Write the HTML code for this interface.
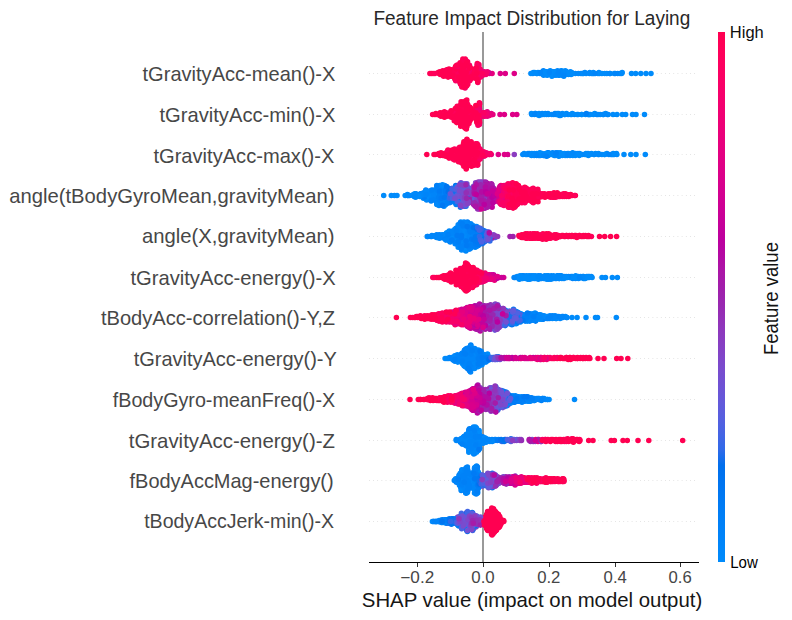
<!DOCTYPE html>
<html><head><meta charset="utf-8"><style>html,body{margin:0;padding:0;background:#fff;width:792px;height:620px;overflow:hidden}svg{display:block}text{font-family:"Liberation Sans",sans-serif}</style></head>
<body><svg width="792" height="620" viewBox="0 0 792 620">
<line x1="369.0" y1="73.50" x2="698.0" y2="73.50" stroke="#cccccc" stroke-width="0.7" stroke-dasharray="0.7 3.47"/>
<line x1="369.0" y1="114.50" x2="698.0" y2="114.50" stroke="#cccccc" stroke-width="0.7" stroke-dasharray="0.7 3.47"/>
<line x1="369.0" y1="154.50" x2="698.0" y2="154.50" stroke="#cccccc" stroke-width="0.7" stroke-dasharray="0.7 3.47"/>
<line x1="369.0" y1="195.50" x2="698.0" y2="195.50" stroke="#cccccc" stroke-width="0.7" stroke-dasharray="0.7 3.47"/>
<line x1="369.0" y1="236.50" x2="698.0" y2="236.50" stroke="#cccccc" stroke-width="0.7" stroke-dasharray="0.7 3.47"/>
<line x1="369.0" y1="277.50" x2="698.0" y2="277.50" stroke="#cccccc" stroke-width="0.7" stroke-dasharray="0.7 3.47"/>
<line x1="369.0" y1="317.50" x2="698.0" y2="317.50" stroke="#cccccc" stroke-width="0.7" stroke-dasharray="0.7 3.47"/>
<line x1="369.0" y1="358.50" x2="698.0" y2="358.50" stroke="#cccccc" stroke-width="0.7" stroke-dasharray="0.7 3.47"/>
<line x1="369.0" y1="399.50" x2="698.0" y2="399.50" stroke="#cccccc" stroke-width="0.7" stroke-dasharray="0.7 3.47"/>
<line x1="369.0" y1="440.50" x2="698.0" y2="440.50" stroke="#cccccc" stroke-width="0.7" stroke-dasharray="0.7 3.47"/>
<line x1="369.0" y1="480.50" x2="698.0" y2="480.50" stroke="#cccccc" stroke-width="0.7" stroke-dasharray="0.7 3.47"/>
<line x1="369.0" y1="521.50" x2="698.0" y2="521.50" stroke="#cccccc" stroke-width="0.7" stroke-dasharray="0.7 3.47"/>
<rect x="482" y="32.0" width="2" height="530.0" fill="#999999"/>
<g stroke-width="5.556" stroke-linecap="round" fill="none"><path d="M540.0 73.5h0M582.5 73.5h0M599.6 73.5h0M568.0 72.6h0M549.4 71.7h0M560.9 74.4h0M536.6 73.5h0M606.8 73.5h0M646.0 73.5h0M565.3 70.8h0M631.5 73.5h0M571.1 74.4h0M563.8 76.2h0M593.3 72.6h0M571.7 72.6h0M589.7 72.6h0M557.5 70.8h0M622.2 72.6h0M549.4 73.5h0M544.4 72.6h0M614.2 73.5h0M617.7 73.5h0M610.1 73.5h0M562.4 113.6h0M594.7 113.6h0M558.8 114.5h0M617.0 114.5h0M558.7 113.6h0M570.6 114.5h0M566.5 113.6h0M568.1 114.5h0M632.5 114.5h0M538.9 114.5h0M531.8 114.5h0M585.6 114.5h0M551.8 114.5h0M600.2 114.5h0M613.0 114.5h0M605.6 113.6h0M644.5 114.5h0M604.9 154.5h0M588.0 153.6h0M547.2 154.5h0M578.1 154.5h0M579.3 155.4h0M531.9 153.6h0M536.7 153.6h0M616.9 154.5h0M534.3 153.6h0M564.4 154.5h0M553.1 153.6h0M612.1 154.5h0M616.5 153.6h0M561.0 154.5h0M630.8 154.5h0M554.2 155.4h0M613.2 153.6h0M645.3 154.5h0M598.5 153.6h0M552.1 153.6h0M614.2 154.5h0M598.1 154.5h0M567.2 155.4h0M527.1 154.5h0M568.5 154.5h0M591.5 153.6h0M534.2 155.4h0M572.7 153.6h0M525.8 154.5h0M529.6 153.6h0M445.3 186.5h0M439.2 192.8h0M413.2 195.5h0M442.2 203.6h0M444.7 198.2h0M405.2 195.5h0M394.5 195.5h0M449.5 193.7h0M435.4 194.6h0M408.0 195.5h0M432.3 192.8h0M426.8 199.1h0M438.3 197.3h0M439.6 185.6h0M445.0 191.0h0M447.8 192.8h0M457.9 198.2h0M409.7 195.5h0M426.9 196.4h0M407.4 194.6h0M437.6 202.7h0M441.4 193.7h0M438.3 191.9h0M438.6 198.2h0M440.8 202.7h0M434.5 196.4h0M439.7 194.6h0M383.7 195.5h0M414.8 193.7h0M422.6 196.4h0M440.1 202.7h0M454.1 190.1h0M437.8 200.9h0M434.6 192.8h0M432.7 199.1h0M444.6 199.1h0M466.2 224.8h0M450.1 233.8h0M468.1 230.2h0M448.8 234.7h0M468.7 237.4h0M460.4 244.6h0M458.2 247.3h0M460.5 242.8h0M477.5 234.7h0M438.0 237.4h0M475.7 235.6h0M476.6 226.6h0M463.5 235.6h0M474.0 241.9h0M464.3 249.1h0M482.9 242.8h0M470.8 223.9h0M464.3 230.2h0M452.0 239.2h0M456.0 228.4h0M466.5 235.6h0M445.3 235.6h0M442.2 235.6h0M461.9 224.8h0M467.7 241.9h0M465.5 238.3h0M471.1 241.0h0M471.4 225.7h0M450.3 237.4h0M465.0 235.6h0M478.4 238.3h0M454.9 229.3h0M443.7 235.6h0M443.0 237.4h0M471.4 235.6h0M464.0 241.0h0M465.3 223.9h0M461.3 245.5h0M436.6 237.4h0M465.0 243.7h0M457.1 238.3h0M443.6 236.5h0M478.5 243.7h0M475.1 234.7h0M478.1 241.0h0M456.1 231.1h0M464.2 242.8h0M471.9 241.0h0M455.1 235.6h0M556.9 276.6h0M534.2 278.4h0M583.5 276.6h0M535.9 276.6h0M559.3 276.6h0M587.9 277.5h0M561.1 275.7h0M551.8 277.5h0M612.3 277.5h0M522.0 275.7h0M551.4 275.7h0M546.7 276.6h0M580.7 277.5h0M529.8 279.3h0M545.0 277.5h0M548.0 278.4h0M530.0 277.5h0M566.2 276.6h0M571.1 276.6h0M557.5 276.6h0M546.9 279.3h0M533.2 275.7h0M561.9 278.4h0M523.7 276.6h0M553.5 275.7h0M547.0 275.7h0M531.2 276.6h0M519.8 276.6h0M528.0 277.5h0M559.2 278.4h0M548.7 278.4h0M552.4 318.4h0M511.7 316.6h0M517.0 320.2h0M522.1 318.4h0M563.1 316.6h0M537.2 315.7h0M555.8 318.4h0M549.0 317.5h0M572.0 317.5h0M540.6 314.8h0M523.0 319.3h0M473.7 357.6h0M482.8 356.7h0M477.9 351.3h0M462.4 354.9h0M471.2 361.2h0M460.9 360.3h0M457.3 354.9h0M473.3 355.8h0M470.0 363.0h0M448.4 358.5h0M464.2 354.9h0M471.6 363.9h0M485.9 362.1h0M481.2 351.3h0M465.2 355.8h0M479.0 362.1h0M467.4 349.5h0M487.2 358.5h0M482.6 360.3h0M477.1 352.2h0M476.4 364.8h0M479.1 359.4h0M481.4 352.2h0M460.0 358.5h0M469.8 360.3h0M474.5 363.9h0M467.5 354.9h0M547.4 399.5h0M530.3 400.4h0M523.7 401.3h0M525.2 397.7h0M513.0 401.3h0M522.4 401.3h0M532.2 400.4h0M506.4 402.2h0M544.1 398.6h0M514.8 401.3h0M476.3 438.7h0M471.1 450.4h0M476.0 447.7h0M469.1 444.1h0M483.2 442.3h0M481.1 443.2h0M470.7 447.7h0M464.1 442.3h0M462.2 439.6h0M458.6 440.5h0M477.0 450.4h0M473.5 453.1h0M472.5 440.5h0M476.0 451.3h0M475.4 453.1h0M476.5 452.2h0M474.5 470.6h0M472.7 475.1h0M475.4 476.9h0M471.4 476.0h0M465.9 468.8h0M475.4 483.2h0M460.5 481.4h0M462.9 480.5h0M467.1 491.3h0M464.0 479.6h0M466.4 477.8h0M475.3 491.3h0M477.4 484.1h0M462.1 485.9h0M471.6 485.0h0M465.7 490.4h0M461.7 488.6h0M463.2 486.8h0M464.8 473.3h0M475.2 480.5h0M470.6 487.7h0M474.1 475.1h0M466.4 492.2h0M458.2 482.3h0M462.7 473.3h0M476.0 476.9h0M475.1 490.4h0M460.9 479.6h0M469.5 483.2h0M463.0 481.4h0M473.4 483.2h0M471.2 480.5h0M467.8 487.7h0M470.4 478.7h0M475.0 479.6h0M463.6 484.1h0M464.3 473.3h0M460.7 523.3h0M436.9 521.5h0M459.8 521.5h0M458.3 521.5h0M441.4 522.4h0M457.0 521.5h0M446.1 522.4h0" stroke="#008bfb"/><path d="M544.2 73.5h0M561.3 72.6h0M553.4 73.5h0M552.1 75.3h0M563.7 73.5h0M541.2 73.5h0M548.0 113.6h0M542.2 113.6h0M522.8 154.5h0M528.0 153.6h0M544.2 155.4h0M540.4 155.4h0M561.3 153.6h0M548.6 152.7h0M545.1 154.5h0M548.2 155.4h0M567.5 153.6h0M562.3 155.4h0M538.7 155.4h0M440.0 187.4h0M445.7 201.8h0M440.0 204.5h0M445.7 204.5h0M430.1 197.3h0M423.3 195.5h0M416.6 196.4h0M425.1 198.2h0M433.8 191.9h0M450.7 194.6h0M442.3 201.8h0M421.7 194.6h0M437.4 187.4h0M436.8 186.5h0M439.4 203.6h0M442.9 198.2h0M443.4 194.6h0M448.5 188.3h0M407.5 195.5h0M446.1 191.9h0M434.2 190.1h0M449.3 235.6h0M456.8 232.0h0M463.9 240.1h0M478.0 232.9h0M464.9 225.7h0M471.8 229.3h0M458.6 236.5h0M456.5 229.3h0M462.7 239.2h0M456.1 236.5h0M474.6 235.6h0M460.3 241.9h0M478.9 230.2h0M463.8 247.3h0M455.8 241.0h0M435.0 236.5h0M451.3 236.5h0M452.3 238.3h0M445.4 239.2h0M464.0 222.1h0M438.5 235.6h0M465.9 250.9h0M435.9 235.6h0M444.3 238.3h0M427.2 236.5h0M530.8 278.4h0M559.2 277.5h0M531.8 276.6h0M538.1 278.4h0M563.8 277.5h0M534.4 277.5h0M519.9 278.4h0M526.3 275.7h0M523.4 275.7h0M561.5 276.6h0M519.0 277.5h0M564.0 276.6h0M538.3 279.3h0M585.2 277.5h0M567.2 277.5h0M555.1 316.6h0M524.9 317.5h0M560.1 318.4h0M519.3 313.9h0M534.3 320.2h0M551.7 317.5h0M543.9 315.7h0M556.7 317.5h0M532.7 315.7h0M479.8 353.1h0M463.2 356.7h0M457.1 360.3h0M462.4 353.1h0M454.1 356.7h0M454.8 355.8h0M473.4 365.7h0M469.9 354.9h0M453.3 358.5h0M481.8 362.1h0M460.2 357.6h0M467.0 361.2h0M475.4 357.6h0M449.6 357.6h0M470.3 363.9h0M476.5 350.4h0M479.5 363.0h0M479.5 361.2h0M467.9 360.3h0M479.3 354.9h0M464.1 365.7h0M478.9 350.4h0M509.3 400.4h0M506.4 392.3h0M534.5 400.4h0M515.4 395.9h0M522.2 399.5h0M480.8 441.4h0M472.5 431.5h0M475.0 450.4h0M476.5 433.3h0M477.5 444.1h0M473.5 449.5h0M479.5 435.1h0M478.5 436.0h0M483.1 437.8h0M466.6 445.9h0M469.4 446.8h0M465.4 444.1h0M478.7 434.2h0M467.8 435.1h0M476.3 440.5h0M472.6 443.2h0M473.5 427.0h0M462.8 443.2h0M465.5 440.5h0M474.3 439.6h0M475.5 431.5h0M470.5 434.2h0M473.9 443.2h0M465.7 437.8h0M466.4 434.2h0M479.5 438.7h0M473.9 451.3h0M477.0 487.7h0M455.7 478.7h0M464.6 485.9h0M472.5 483.2h0M477.4 482.3h0M461.2 486.8h0M466.6 488.6h0M464.2 471.5h0M455.2 479.6h0M465.8 487.7h0M463.2 470.6h0M467.8 490.4h0M462.8 479.6h0M479.6 482.3h0M462.3 485.0h0M464.7 489.5h0M462.8 476.9h0M476.3 477.8h0M461.2 479.6h0M463.5 485.9h0M476.9 488.6h0M466.2 482.3h0M480.5 484.1h0M460.6 482.3h0M463.8 489.5h0M467.6 476.9h0M477.6 490.4h0M465.7 485.9h0M472.1 477.8h0M477.3 471.5h0M468.4 479.6h0M459.9 476.9h0M477.0 467.9h0M472.3 486.8h0M459.3 479.6h0M457.6 479.6h0M468.3 480.5h0M464.0 480.5h0M465.8 474.2h0M462.4 475.1h0M474.5 493.1h0M470.2 481.4h0M466.3 475.1h0M471.4 484.1h0M468.4 474.2h0M461.6 482.3h0M466.7 529.6h0M463.5 525.1h0M445.4 522.4h0" stroke="#0088fa"/><path d="M558.6 71.7h0M543.4 70.8h0M575.3 73.5h0M555.0 113.6h0M581.5 114.5h0M545.3 113.6h0M555.3 155.4h0M571.8 154.5h0M441.3 189.2h0M437.5 188.3h0M433.8 197.3h0M413.6 195.5h0M436.8 204.5h0M437.4 192.8h0M432.8 198.2h0M440.9 187.4h0M426.6 195.5h0M447.7 191.0h0M429.3 192.8h0M431.1 197.3h0M450.9 191.0h0M430.9 191.0h0M432.5 198.2h0M427.6 193.7h0M435.6 196.4h0M420.7 193.7h0M455.6 202.7h0M444.3 193.7h0M425.0 192.8h0M453.7 232.0h0M475.7 228.4h0M447.7 237.4h0M458.7 244.6h0M466.2 250.0h0M461.4 226.6h0M461.6 250.0h0M447.2 233.8h0M458.0 230.2h0M448.4 235.6h0M467.7 233.8h0M450.1 238.3h0M460.0 238.3h0M463.8 228.4h0M474.3 232.9h0M461.3 240.1h0M453.5 234.7h0M455.1 243.7h0M459.2 228.4h0M457.7 227.5h0M461.3 241.0h0M467.1 232.0h0M469.0 228.4h0M476.2 234.7h0M462.6 227.5h0M458.7 227.5h0M472.2 230.2h0M466.0 240.1h0M468.7 240.1h0M463.6 230.2h0M427.9 236.5h0M455.3 230.2h0M455.4 241.9h0M454.0 235.6h0M531.0 275.7h0M515.1 277.5h0M522.2 276.6h0M569.6 277.5h0M552.1 316.6h0M567.0 317.5h0M547.2 316.6h0M532.0 319.3h0M537.8 318.4h0M546.2 317.5h0M513.8 323.8h0M543.2 319.3h0M531.3 315.7h0M466.1 364.8h0M471.5 356.7h0M471.3 361.2h0M467.5 368.4h0M457.9 355.8h0M475.0 363.0h0M469.1 361.2h0M470.6 372.0h0M455.4 358.5h0M464.1 364.8h0M471.4 353.1h0M472.1 362.1h0M461.9 354.9h0M466.4 360.3h0M452.4 358.5h0M467.6 354.9h0M457.6 361.2h0M478.4 361.2h0M477.4 360.3h0M524.8 401.3h0M529.1 401.3h0M521.4 396.8h0M504.3 394.1h0M494.1 404.0h0M538.6 399.5h0M475.1 432.4h0M498.6 439.6h0M460.4 441.4h0M466.4 437.8h0M479.6 447.7h0M471.4 430.6h0M470.9 438.7h0M480.0 439.6h0M460.1 439.6h0M467.7 444.1h0M475.3 429.7h0M464.1 439.6h0M477.0 429.7h0M478.8 439.6h0M469.2 436.0h0M482.9 441.4h0M481.8 437.8h0M470.4 448.6h0M474.8 485.9h0M465.7 476.9h0M478.6 481.4h0M477.2 468.8h0M471.4 482.3h0M475.7 478.7h0M473.1 485.9h0M471.3 475.1h0M477.0 474.2h0M455.3 480.5h0M463.0 474.2h0M460.6 476.9h0M461.9 469.7h0M471.2 473.3h0M463.4 476.9h0M467.5 484.1h0M454.3 480.5h0M463.0 488.6h0M465.0 485.0h0M468.7 484.1h0M483.2 476.9h0M474.4 477.8h0M459.2 475.1h0M463.5 486.8h0M464.1 481.4h0M471.1 473.3h0M467.4 477.8h0M471.5 474.2h0M465.7 486.8h0M469.0 480.5h0M474.6 467.9h0M466.2 467.9h0M475.9 467.9h0M460.0 481.4h0M476.5 493.1h0M444.8 519.7h0M458.0 524.2h0M450.9 522.4h0M447.8 521.5h0M457.7 518.8h0" stroke="#0085f9"/><path d="M532.9 73.5h0M565.0 114.5h0M575.1 154.5h0M458.3 201.8h0M429.2 193.7h0M426.8 191.9h0M427.4 194.6h0M441.2 186.5h0M453.5 191.0h0M457.6 191.9h0M442.7 186.5h0M444.7 185.6h0M457.8 193.7h0M451.6 196.4h0M443.7 187.4h0M443.6 195.5h0M425.8 190.1h0M458.6 239.2h0M452.9 233.8h0M464.0 224.8h0M453.6 238.3h0M457.4 232.9h0M486.0 235.6h0M471.5 233.8h0M461.3 225.7h0M463.8 244.6h0M470.5 237.4h0M469.4 244.6h0M470.7 240.1h0M450.2 236.5h0M455.3 232.9h0M468.2 234.7h0M460.1 234.7h0M479.2 229.3h0M473.8 232.0h0M465.6 223.0h0M475.8 232.0h0M478.9 228.4h0M469.9 238.3h0M458.9 231.1h0M431.7 236.5h0M481.3 232.9h0M572.7 278.4h0M538.2 275.7h0M540.9 318.4h0M535.4 316.6h0M530.1 319.3h0M559.6 317.5h0M526.2 320.2h0M509.1 311.2h0M461.3 356.7h0M484.1 357.6h0M469.4 354.0h0M480.8 355.8h0M468.8 363.0h0M477.7 359.4h0M479.0 358.5h0M463.7 360.3h0M474.5 359.4h0M458.2 356.7h0M461.6 361.2h0M470.1 356.7h0M456.3 356.7h0M473.1 360.3h0M470.4 348.6h0M464.6 356.7h0M461.0 362.1h0M506.8 396.8h0M515.4 400.4h0M513.5 400.4h0M501.7 405.8h0M505.4 400.4h0M511.7 397.7h0M524.3 397.7h0M541.6 399.5h0M513.7 402.2h0M520.8 397.7h0M531.9 399.5h0M467.5 443.2h0M475.3 435.1h0M494.7 439.6h0M478.2 445.0h0M474.2 438.7h0M468.9 430.6h0M477.8 484.1h0M475.2 487.7h0M473.7 485.9h0M474.5 473.3h0M475.3 486.8h0M472.5 479.6h0M456.3 481.4h0M471.5 478.7h0M464.5 476.9h0M467.7 470.6h0M465.0 475.1h0M468.9 485.9h0M459.7 483.2h0M478.7 474.2h0M478.7 477.8h0M479.1 476.0h0M470.9 476.9h0M475.6 480.5h0M461.7 473.3h0M469.9 478.7h0M477.2 469.7h0M474.5 485.0h0M456.4 482.3h0M448.7 522.4h0M457.4 520.6h0M443.0 520.6h0M458.2 522.4h0M445.2 521.5h0M469.5 522.4h0M446.2 523.3h0M457.4 517.9h0M461.3 523.3h0" stroke="#0082f8"/><path d="M596.7 114.5h0M458.0 195.5h0M455.9 194.6h0M438.0 189.2h0M450.0 197.3h0M448.1 195.5h0M460.9 185.6h0M446.6 203.6h0M479.2 231.1h0M476.8 245.5h0M463.5 232.9h0M470.8 227.5h0M478.3 245.5h0M484.7 231.1h0M437.1 236.5h0M465.0 233.8h0M466.9 236.5h0M473.6 242.8h0M470.9 229.3h0M464.6 236.5h0M475.8 227.5h0M481.9 237.4h0M475.7 240.1h0M511.8 317.5h0M538.7 315.7h0M535.6 321.1h0M544.0 318.4h0M464.5 363.0h0M468.9 357.6h0M539.2 399.5h0M507.4 403.1h0M468.1 441.4h0M459.4 485.0h0M467.5 469.7h0M481.7 477.8h0M464.6 487.7h0M459.4 477.8h0M474.0 476.9h0M471.7 476.9h0M465.3 481.4h0M465.5 490.4h0M457.4 519.7h0M448.0 522.4h0M451.8 523.3h0M460.0 523.3h0M468.2 521.5h0M460.0 517.9h0M446.6 519.7h0M470.2 517.9h0M450.5 523.3h0M467.2 528.7h0" stroke="#007ff6"/><path d="M455.6 191.0h0M449.2 201.8h0M447.7 190.1h0M449.0 194.6h0M455.9 193.7h0M480.6 241.0h0M480.9 239.2h0M462.7 241.9h0M476.4 241.9h0M471.9 243.7h0M480.0 243.7h0M498.0 327.4h0M529.8 321.1h0M511.2 320.2h0M510.5 323.8h0M520.3 315.7h0M471.6 358.5h0M488.0 357.6h0M472.2 363.0h0M507.9 402.2h0M529.0 398.6h0M518.9 398.6h0M507.7 400.4h0M506.6 394.1h0M478.5 480.5h0M472.6 477.8h0M478.8 483.2h0M469.9 479.6h0M482.2 477.8h0M480.0 478.7h0M477.5 492.2h0M477.5 473.3h0M473.4 520.6h0M439.5 521.5h0M448.8 520.6h0M462.2 526.0h0M472.9 517.9h0M445.1 520.6h0M442.3 520.6h0M454.3 518.8h0" stroke="#007bf5"/><path d="M457.7 202.7h0M440.1 190.1h0M450.6 192.8h0M447.5 198.2h0M483.6 234.7h0M513.5 309.4h0M463.9 354.0h0M506.9 405.8h0M509.2 395.0h0M499.9 440.5h0M480.1 485.0h0M460.5 518.8h0M461.4 522.4h0M469.1 526.0h0M462.4 519.7h0M458.0 517.9h0M463.0 525.1h0M448.3 519.7h0M444.3 521.5h0M452.7 519.7h0M460.0 524.2h0M476.6 522.4h0M460.5 520.6h0M446.4 522.4h0M440.7 520.6h0" stroke="#0078f3"/><path d="M460.2 201.8h0M460.8 204.5h0M481.0 232.0h0M481.4 242.8h0M480.6 235.6h0M477.9 236.5h0M484.8 237.4h0M482.3 230.2h0M487.4 359.4h0M507.5 395.9h0M516.4 397.7h0M495.4 399.5h0M495.3 410.3h0M494.7 440.5h0M478.5 486.8h0M447.2 521.5h0M466.7 528.7h0M473.1 526.0h0M453.3 522.4h0M473.4 524.2h0M473.5 519.7h0M458.9 521.5h0M463.0 519.7h0M472.6 528.7h0M457.8 525.1h0" stroke="#0075f0"/><path d="M455.7 185.6h0M453.7 200.9h0M460.6 198.2h0M460.2 188.3h0M486.0 240.1h0M485.6 241.0h0M489.4 240.1h0M520.3 316.6h0M515.3 319.3h0M518.9 313.0h0M507.7 314.8h0M504.9 321.1h0M509.0 315.7h0M509.6 322.0h0M513.9 315.7h0M478.4 476.0h0M480.6 479.6h0M499.1 481.4h0M472.8 517.0h0M472.4 523.3h0M463.8 518.8h0M446.9 522.4h0M452.2 521.5h0M463.5 517.9h0M470.2 526.0h0M475.2 525.1h0M469.8 526.9h0" stroke="#0071ee"/><path d="M460.8 189.2h0M462.5 205.4h0M449.6 202.7h0M457.8 192.8h0M449.7 191.0h0M485.7 233.8h0M484.1 232.0h0M507.7 318.4h0M516.0 314.8h0M488.9 358.5h0M491.2 358.5h0M498.5 402.2h0M501.5 395.0h0M508.8 404.0h0M500.2 398.6h0M504.4 393.2h0M503.8 404.0h0M505.9 392.3h0M510.9 438.7h0M484.6 476.9h0M479.1 485.0h0M485.6 484.1h0M462.0 521.5h0M470.3 523.3h0M450.7 519.7h0M443.9 521.5h0M454.1 520.6h0M468.4 515.2h0M453.1 520.6h0M467.4 531.4h0" stroke="#176eeb"/><path d="M469.5 195.5h0M457.3 200.0h0M449.4 200.0h0M456.3 202.7h0M486.0 236.5h0M480.0 241.9h0M512.8 316.6h0M513.1 320.2h0M496.7 322.9h0M507.5 312.1h0M511.5 313.0h0M496.1 358.5h0M508.4 399.5h0M509.8 399.5h0M501.8 391.4h0M511.1 440.5h0M502.0 441.4h0M485.3 479.6h0M481.1 483.2h0M480.3 476.0h0M486.7 483.2h0M484.6 481.4h0M481.3 476.9h0M489.7 485.0h0M469.9 515.2h0M463.2 522.4h0M466.9 516.1h0M467.2 516.1h0M473.4 526.9h0M459.9 519.7h0M478.6 520.6h0M474.5 526.0h0M465.6 522.4h0M461.3 520.6h0M469.6 515.2h0M475.7 520.6h0M459.1 517.0h0M472.3 519.7h0M466.7 514.3h0M468.7 519.7h0M465.4 519.7h0M470.4 525.1h0M468.1 522.4h0" stroke="#316ae9"/><path d="M462.8 191.9h0M460.6 200.0h0M457.5 200.9h0M459.0 191.0h0M479.2 233.8h0M509.3 323.8h0M504.2 322.0h0M494.7 395.9h0M497.4 400.4h0M499.5 399.5h0M500.1 399.5h0M505.0 404.0h0M502.1 395.9h0M483.1 481.4h0M496.7 479.6h0M483.4 484.1h0M486.7 475.1h0M469.5 518.8h0M467.8 526.0h0M473.0 518.8h0M468.7 515.2h0M470.2 526.9h0M469.5 527.8h0" stroke="#4166e5"/><path d="M460.3 199.1h0M458.5 187.4h0M452.3 197.3h0M457.2 190.1h0M467.5 197.3h0M488.3 235.6h0M495.1 237.4h0M483.1 238.3h0M505.9 318.4h0M498.6 320.2h0M493.9 357.6h0M497.2 359.4h0M497.7 410.3h0M499.6 396.8h0M482.7 478.7h0M484.9 485.0h0M495.4 478.7h0M493.2 485.0h0M494.3 477.8h0M471.4 528.7h0M472.6 530.5h0M465.8 520.6h0M465.6 523.3h0M466.1 521.5h0M467.8 517.0h0M463.8 519.7h0M475.2 517.9h0M473.4 516.1h0M474.4 524.2h0" stroke="#4e62e2"/><path d="M464.5 191.9h0M460.3 200.9h0M452.2 188.3h0M489.3 237.4h0M481.7 239.2h0M502.1 318.4h0M500.6 316.6h0M496.4 356.7h0M500.0 395.0h0M503.3 396.8h0M498.3 408.5h0M497.1 409.4h0M506.0 395.0h0M497.9 396.8h0M498.0 395.9h0M489.9 480.5h0M489.2 482.3h0M494.4 484.1h0M492.1 480.5h0M481.7 480.5h0M496.2 479.6h0M485.8 477.8h0M488.3 474.2h0M474.5 523.3h0M470.6 519.7h0M467.8 526.9h0M455.9 521.5h0M450.4 521.5h0M472.6 525.1h0M473.2 525.1h0M457.5 518.8h0M466.7 525.1h0M466.4 522.4h0M469.7 517.0h0M460.6 517.0h0M475.6 518.8h0" stroke="#585edf"/><path d="M469.7 191.0h0M474.7 190.1h0M461.6 188.3h0M475.0 193.7h0M484.5 237.4h0M486.2 238.3h0M494.4 315.7h0M499.7 313.9h0M499.2 318.4h0M513.8 313.0h0M490.1 359.4h0M493.7 404.9h0M501.9 400.4h0M504.7 397.7h0M498.8 390.5h0M494.9 404.9h0M494.8 387.8h0M500.9 404.0h0M493.0 391.4h0M495.2 411.2h0M506.6 440.5h0M504.6 440.5h0M500.3 479.6h0M487.7 477.8h0M488.6 481.4h0M491.7 478.7h0M492.7 476.9h0M490.5 476.9h0M489.9 483.2h0M482.8 485.9h0M490.5 481.4h0M468.1 523.3h0M468.6 527.8h0M473.5 528.7h0M467.2 529.6h0M467.8 517.9h0M466.1 517.0h0M462.8 517.9h0" stroke="#625adb"/><path d="M460.8 195.5h0M464.7 198.2h0M469.2 198.2h0M449.9 190.1h0M487.1 237.4h0M493.0 236.5h0M487.2 238.3h0M492.8 310.3h0M490.5 314.8h0M505.4 319.3h0M490.6 399.5h0M492.2 398.6h0M491.0 403.1h0M516.9 439.6h0M488.0 485.9h0M507.9 478.7h0M494.9 480.5h0M487.5 481.4h0M492.6 481.4h0M467.9 525.1h0M472.2 521.5h0M476.5 517.0h0M470.6 526.9h0M468.7 517.9h0M461.2 522.4h0M468.0 520.6h0M466.6 515.2h0" stroke="#6a55d7"/><path d="M467.7 190.1h0M463.7 205.4h0M466.6 200.9h0M462.1 196.4h0M471.9 200.9h0M476.7 207.2h0M460.6 206.3h0M474.9 185.6h0M468.2 195.5h0M476.6 197.3h0M459.8 196.4h0M465.5 196.4h0M483.3 240.1h0M503.2 323.8h0M496.6 312.1h0M503.9 312.1h0M493.9 406.7h0M488.6 476.0h0M492.6 483.2h0M504.3 479.6h0M481.9 485.9h0M493.1 486.8h0M466.4 526.9h0M474.5 525.1h0M461.2 520.6h0M470.3 522.4h0" stroke="#7251d3"/><path d="M462.8 189.2h0M463.8 204.5h0M474.7 192.8h0M460.3 191.9h0M477.3 184.7h0M480.1 200.9h0M466.8 203.6h0M461.0 182.9h0M466.3 199.1h0M467.8 199.1h0M468.1 191.9h0M510.4 313.9h0M491.7 309.4h0M495.5 326.5h0M499.5 309.4h0M491.7 320.2h0M502.6 321.1h0M496.8 321.1h0M490.1 391.4h0M494.5 410.3h0M498.8 406.7h0M491.5 404.9h0M500.2 402.2h0M502.9 401.3h0M486.3 406.7h0M492.6 407.6h0M532.2 439.6h0M516.6 440.5h0M490.7 479.6h0M486.1 478.7h0M496.9 478.7h0M488.4 476.9h0M495.6 476.0h0M481.7 478.7h0M504.2 479.6h0M505.6 482.3h0M467.6 513.4h0M469.0 513.4h0M469.0 525.1h0M475.1 517.0h0" stroke="#794cce"/><path d="M461.7 190.1h0M461.7 191.0h0M468.8 200.9h0M481.3 203.6h0M456.8 191.0h0M463.6 195.5h0M480.7 204.5h0M463.8 184.7h0M482.0 189.2h0M493.3 318.4h0M493.9 315.7h0M493.5 325.6h0M485.6 323.8h0M491.3 395.0h0M486.1 395.9h0M484.9 392.3h0M486.1 404.9h0M493.3 393.2h0M487.5 393.2h0M486.3 394.1h0M479.8 397.7h0M496.3 405.8h0M484.0 400.4h0M484.5 404.9h0M499.2 407.6h0M502.4 478.7h0M491.7 477.8h0M502.7 480.5h0M496.8 477.8h0M486.9 480.5h0M488.6 487.7h0M500.2 478.7h0M472.8 513.4h0M470.2 516.1h0M461.8 526.9h0M474.7 517.0h0" stroke="#7f47ca"/><path d="M477.2 194.6h0M481.5 200.0h0M470.3 190.1h0M479.1 199.1h0M478.9 204.5h0M470.9 200.0h0M487.3 198.2h0M475.6 182.9h0M476.1 200.0h0M479.1 190.1h0M478.5 195.5h0M486.8 240.1h0M502.5 311.2h0M486.6 311.2h0M482.8 305.8h0M482.6 308.5h0M499.6 319.3h0M497.0 310.3h0M498.6 315.7h0M487.0 402.2h0M507.8 404.9h0M491.5 388.7h0M497.2 403.1h0M497.4 395.0h0M499.3 393.2h0M486.2 393.2h0M492.8 406.7h0M487.2 484.1h0M488.8 479.6h0M502.0 478.7h0M473.0 522.4h0M466.7 512.5h0M475.9 526.9h0M477.1 517.9h0" stroke="#8542c5"/><path d="M514.3 154.5h0M478.9 193.7h0M477.4 183.8h0M471.3 192.8h0M477.7 197.3h0M480.0 207.2h0M479.7 203.6h0M461.9 204.5h0M496.3 324.7h0M507.8 316.6h0M495.3 304.0h0M499.0 325.6h0M492.8 323.8h0M489.3 323.8h0M492.8 324.7h0M492.1 390.5h0M499.2 404.0h0M493.1 397.7h0M488.8 395.9h0M491.0 411.2h0M485.8 395.0h0M520.0 440.5h0M497.5 484.1h0M499.3 478.7h0M500.5 480.5h0M491.0 482.3h0M468.9 528.7h0M475.7 516.1h0M457.9 517.0h0M480.2 524.2h0M469.1 518.8h0M472.1 526.0h0" stroke="#8b3cc0"/><path d="M480.6 205.4h0M480.2 200.0h0M483.2 196.4h0M469.1 202.7h0M474.8 194.6h0M472.6 197.3h0M470.4 191.9h0M474.9 205.4h0M477.2 187.4h0M470.5 194.6h0M475.6 198.2h0M477.8 196.4h0M497.3 314.8h0M498.2 326.5h0M486.1 313.9h0M484.2 317.5h0M481.9 326.5h0M490.1 324.7h0M490.2 322.0h0M484.6 316.6h0M491.7 327.4h0M501.5 319.3h0M486.7 314.8h0M493.8 392.3h0M491.5 410.3h0M489.6 395.0h0M491.4 404.0h0M491.5 409.4h0M490.1 396.8h0M485.0 391.4h0M489.4 391.4h0M492.0 403.1h0M486.9 396.8h0M514.4 440.5h0M494.8 476.9h0M495.0 485.9h0M503.9 480.5h0M498.9 477.8h0M512.0 481.4h0M480.5 522.4h0" stroke="#9036bb"/><path d="M476.3 192.8h0M482.6 189.2h0M481.2 188.3h0M477.7 209.0h0M466.7 190.1h0M480.7 202.7h0M484.9 200.0h0M480.3 186.5h0M465.5 187.4h0M483.7 191.9h0M466.9 186.5h0M474.9 188.3h0M482.7 323.8h0M486.2 320.2h0M485.0 328.3h0M489.4 313.0h0M495.8 328.3h0M503.7 313.0h0M478.7 328.3h0M492.7 313.0h0M496.7 318.4h0M480.5 392.3h0M481.3 407.6h0M473.7 388.7h0M483.7 395.9h0M480.4 404.0h0M487.9 395.9h0M486.9 406.7h0M530.6 441.4h0M498.7 479.6h0M496.4 477.8h0M477.1 523.3h0M476.9 523.3h0M480.1 518.8h0" stroke="#942fb5"/><path d="M490.9 200.9h0M487.5 200.9h0M479.3 195.5h0M483.5 193.7h0M480.4 182.9h0M486.3 317.5h0M487.6 326.5h0M480.8 307.6h0M497.0 311.2h0M492.6 311.2h0M492.8 313.9h0M485.5 313.0h0M490.9 328.3h0M485.1 313.0h0M485.6 405.8h0M479.3 389.6h0M486.9 390.5h0M486.6 397.7h0M477.2 391.4h0M474.7 395.0h0M483.1 395.9h0M505.5 478.7h0M512.4 480.5h0M501.8 480.5h0" stroke="#9927b0"/><path d="M477.5 202.7h0M481.5 182.9h0M490.9 205.4h0M491.8 202.7h0M480.5 194.6h0M482.5 205.4h0M475.0 189.2h0M489.1 185.6h0M484.0 182.9h0M473.6 204.5h0M479.8 183.8h0M498.9 324.7h0M482.7 322.9h0M483.5 320.2h0M503.8 358.5h0M475.4 391.4h0M477.4 400.4h0M481.0 400.4h0M479.0 398.6h0M476.3 393.2h0M479.9 411.2h0M481.7 391.4h0M476.8 404.9h0M483.5 397.7h0M488.3 406.7h0M476.4 525.1h0" stroke="#9f20ac"/><path d="M493.5 188.3h0M474.2 191.0h0M487.8 191.9h0M486.3 203.6h0M481.8 199.1h0M489.2 191.9h0M486.1 206.3h0M488.8 194.6h0M476.0 203.6h0M479.7 202.7h0M487.6 308.5h0M484.7 315.7h0M503.2 319.3h0M484.8 323.8h0M486.4 312.1h0M497.9 309.4h0M482.3 310.3h0M473.9 400.4h0M491.1 410.3h0M489.3 402.2h0M479.4 407.6h0M491.3 406.7h0M482.5 402.2h0M476.0 409.4h0M475.4 408.5h0M477.6 405.8h0M490.3 484.1h0M497.5 476.9h0M502.2 481.4h0M498.0 478.7h0M503.2 477.8h0M509.3 477.8h0" stroke="#a61ba9"/><path d="M480.2 197.3h0M489.9 186.5h0M493.9 200.0h0M475.5 196.4h0M490.5 200.0h0M493.3 194.6h0M490.3 191.0h0M496.0 305.8h0M476.4 309.4h0M480.0 323.8h0M492.0 315.7h0M485.2 329.2h0M483.2 317.5h0M477.4 413.0h0M483.3 394.1h0M474.5 398.6h0M475.0 401.3h0M471.4 395.0h0M487.4 394.1h0M478.3 405.8h0M490.3 390.5h0M479.1 395.9h0M483.7 405.8h0M509.1 482.3h0M498.0 480.5h0M476.0 526.0h0" stroke="#ac14a6"/><path d="M485.7 198.2h0M487.7 186.5h0M485.8 207.2h0M477.0 308.5h0M475.7 315.7h0M479.8 305.8h0M480.7 306.7h0M464.2 315.7h0M487.7 318.4h0M474.8 305.8h0M480.4 313.0h0M470.5 406.7h0M480.5 393.2h0M486.9 407.6h0M475.8 389.6h0M480.8 388.7h0M477.8 393.2h0M481.4 391.4h0M479.2 404.0h0M478.2 411.2h0M493.5 400.4h0M489.6 400.4h0M478.3 387.8h0M475.5 402.2h0M509.0 480.5h0" stroke="#b30ba3"/><path d="M492.7 199.1h0M479.8 192.8h0M492.9 197.3h0M488.2 183.8h0M486.8 196.4h0M487.9 194.6h0M491.7 276.6h0M474.1 308.5h0M498.8 321.1h0M475.1 312.1h0M474.6 328.3h0M475.1 307.6h0M481.9 319.3h0M479.5 321.1h0M478.9 401.3h0M493.6 395.0h0M476.0 394.1h0M475.3 399.5h0M476.7 410.3h0M474.0 404.0h0M514.9 483.2h0M513.1 481.4h0" stroke="#b900a0"/><path d="M494.0 201.8h0M485.4 183.8h0M486.3 182.9h0M491.7 203.6h0M488.6 278.4h0M493.6 274.8h0M485.0 309.4h0M480.2 331.0h0M483.3 326.5h0M489.8 322.0h0M482.2 325.6h0M470.2 397.7h0M473.7 405.8h0M472.4 404.0h0M477.5 412.1h0M462.1 394.1h0M480.1 395.9h0M474.7 390.5h0M511.0 482.3h0" stroke="#bf009d"/><path d="M500.0 196.4h0M497.2 194.6h0M496.8 191.9h0M462.7 322.0h0M480.6 322.0h0M467.1 325.6h0M478.3 317.5h0M472.2 325.6h0M473.2 326.5h0M478.2 320.2h0M509.9 358.5h0M528.8 358.5h0M513.2 358.5h0M478.2 387.8h0M468.8 398.6h0M467.6 404.9h0M498.5 400.4h0M471.8 409.4h0M513.9 482.3h0" stroke="#c5009a"/><path d="M493.5 190.1h0M494.5 276.6h0M472.7 310.3h0M480.3 316.6h0M482.4 328.3h0M469.7 324.7h0M465.7 322.0h0M467.1 307.6h0M472.0 322.9h0M475.7 322.0h0M468.2 319.3h0M472.5 321.1h0M471.9 313.9h0M467.6 326.5h0M473.6 401.3h0M473.8 392.3h0M474.1 399.5h0M467.9 394.1h0M474.8 396.8h0M484.7 392.3h0M477.5 390.5h0M470.6 390.5h0M464.0 405.8h0M520.2 480.5h0" stroke="#cb0096"/><path d="M500.3 197.3h0M474.1 316.6h0M467.1 311.2h0M474.7 313.0h0M477.5 309.4h0M513.8 358.5h0M467.9 399.5h0M468.5 402.2h0M465.3 392.3h0M467.3 404.0h0M514.5 482.3h0" stroke="#d00092"/><path d="M497.5 196.4h0M497.5 277.5h0M499.5 277.5h0M477.4 313.0h0M479.1 313.9h0M471.1 321.1h0M466.6 321.1h0M473.7 313.0h0M471.2 323.8h0M465.7 308.5h0M474.7 325.6h0M525.9 358.5h0M469.0 397.7h0M469.9 405.8h0M471.0 401.3h0M472.3 400.4h0M472.7 390.5h0M465.6 400.4h0M465.5 402.2h0M512.3 483.2h0M523.5 481.4h0" stroke="#d5008f"/><path d="M485.2 153.6h0M496.7 199.1h0M501.7 202.7h0M501.0 190.1h0M486.1 275.7h0M458.9 322.9h0M458.6 321.1h0M451.1 319.3h0M468.5 322.9h0M457.4 318.4h0M466.1 319.3h0M458.6 317.5h0M470.2 319.3h0M541.0 359.4h0M535.0 358.5h0M470.5 393.2h0M468.9 391.4h0M467.5 402.2h0M460.2 395.9h0M469.6 404.0h0M524.6 482.3h0M515.1 485.0h0M511.3 479.6h0M525.4 480.5h0M522.9 478.7h0M518.8 477.8h0" stroke="#da008b"/><path d="M500.0 114.5h0M481.7 113.6h0M512.7 114.5h0M498.3 154.5h0M491.2 185.6h0M497.9 191.0h0M500.1 189.2h0M495.3 277.5h0M490.7 276.6h0M493.2 275.7h0M488.6 275.7h0M465.6 316.6h0M470.4 326.5h0M462.7 311.2h0M473.2 324.7h0M465.8 316.6h0M454.1 318.4h0M467.0 397.7h0M465.0 395.9h0M466.0 401.3h0M468.1 395.0h0M527.2 478.7h0" stroke="#de0087"/><path d="M489.5 73.5h0M503.3 187.4h0M500.9 195.5h0M500.5 200.0h0M485.0 277.5h0M487.2 276.6h0M481.0 275.7h0M462.9 319.3h0M464.3 321.1h0M465.3 310.3h0M466.0 310.3h0M464.0 320.2h0M464.9 318.4h0M536.5 358.5h0M468.6 404.9h0M465.4 395.0h0M460.4 396.8h0M465.7 397.7h0M461.7 404.0h0M519.2 478.7h0M528.0 481.4h0M526.6 480.5h0M521.1 482.3h0M512.5 476.9h0M516.6 478.7h0" stroke="#e30083"/><path d="M486.8 73.5h0M483.5 152.7h0M503.5 198.2h0M499.7 198.2h0M486.4 279.3h0M469.2 310.3h0M467.6 313.9h0M462.4 315.7h0M467.9 308.5h0M474.3 309.4h0M465.1 312.1h0M473.3 322.9h0M465.7 313.0h0M540.6 357.6h0M454.4 402.2h0M460.1 400.4h0M464.1 398.6h0M514.4 480.5h0M530.0 481.4h0" stroke="#e7007e"/><path d="M458.7 79.8h0M482.6 74.4h0M481.4 112.7h0M504.3 204.5h0M502.4 193.7h0M506.0 199.1h0M485.0 280.2h0M482.5 276.6h0M479.2 276.6h0M470.7 315.7h0M443.4 317.5h0M467.5 314.8h0M457.5 319.3h0M461.5 402.2h0M521.6 481.4h0M529.0 479.6h0M528.0 482.3h0M524.8 479.6h0M527.9 478.7h0M523.8 482.3h0" stroke="#eb007a"/><path d="M482.7 115.4h0M487.5 113.6h0M486.6 115.4h0M500.7 194.6h0M501.0 192.8h0M500.2 203.6h0M504.1 198.2h0M494.9 276.6h0M494.5 280.2h0M491.6 278.4h0M459.1 318.4h0M462.7 323.8h0M458.5 323.8h0M447.5 316.6h0M530.6 358.5h0M462.3 402.2h0M457.9 402.2h0M465.5 403.1h0M460.3 400.4h0M463.7 402.2h0M470.7 395.9h0M523.2 477.8h0" stroke="#ee0076"/><path d="M482.4 71.7h0M479.1 112.7h0M489.1 154.5h0M507.5 200.0h0M501.6 193.7h0M505.0 203.6h0M500.4 198.2h0M483.8 279.3h0M457.0 312.1h0M463.1 316.6h0M452.1 313.0h0M466.8 320.2h0M456.0 313.9h0M459.0 310.3h0M446.3 322.0h0M453.2 322.0h0M460.3 320.2h0M537.4 359.4h0M460.3 395.0h0M447.3 398.6h0M464.8 394.1h0M454.5 403.1h0M460.3 401.3h0M458.6 401.3h0M513.1 479.6h0M527.1 481.4h0M522.9 481.4h0M521.5 478.7h0M519.7 479.6h0M516.6 481.4h0M529.3 482.3h0M518.2 481.4h0M530.9 480.5h0M509.7 483.2h0" stroke="#f20071"/><path d="M477.1 74.4h0M463.9 65.4h0M461.0 73.5h0M479.3 110.0h0M480.2 159.0h0M487.7 153.6h0M486.4 152.7h0M480.6 157.2h0M505.2 200.9h0M506.6 202.7h0M505.1 199.1h0M508.0 189.2h0M512.6 197.3h0M503.9 192.8h0M531.3 192.8h0M506.5 190.1h0M485.0 273.0h0M480.2 272.1h0M487.7 277.5h0M455.0 313.0h0M460.7 311.2h0M460.5 323.8h0M447.6 318.4h0M448.4 320.2h0M437.0 320.2h0M458.0 311.2h0M456.7 322.0h0M449.1 321.1h0M455.3 318.4h0M456.2 322.9h0M457.7 398.6h0M451.8 397.7h0M468.8 396.8h0M454.0 399.5h0M455.7 396.8h0M458.3 401.3h0M463.1 404.9h0M542.5 439.6h0M531.8 483.2h0M528.7 477.8h0M529.7 482.3h0" stroke="#f5006d"/><path d="M465.5 76.2h0M457.9 67.2h0M458.1 80.7h0M479.1 70.8h0M463.9 84.3h0M463.1 84.3h0M479.4 71.7h0M458.3 76.2h0M463.3 66.3h0M489.5 115.4h0M477.7 114.5h0M481.6 116.3h0M481.8 156.3h0M478.8 158.1h0M477.5 149.1h0M500.7 188.3h0M505.8 185.6h0M514.5 184.7h0M476.2 283.8h0M551.8 358.5h0M456.4 399.5h0M457.4 395.9h0M455.9 401.3h0M457.8 403.1h0M447.4 402.2h0M530.2 479.6h0M530.7 480.5h0" stroke="#f80068"/><path d="M465.8 69.0h0M461.1 63.6h0M462.1 82.5h0M455.5 75.3h0M456.2 76.2h0M461.4 79.8h0M480.1 69.0h0M478.8 76.2h0M470.9 75.3h0M462.9 73.5h0M463.8 74.4h0M482.5 113.6h0M466.2 108.2h0M479.2 107.3h0M479.3 111.8h0M478.3 159.9h0M477.1 143.7h0M458.6 153.6h0M478.7 148.2h0M513.2 190.1h0M504.3 196.4h0M535.5 191.9h0M509.9 198.2h0M516.2 187.4h0M530.4 192.8h0M506.1 200.0h0M507.8 184.7h0M517.5 194.6h0M511.6 195.5h0M508.5 198.2h0M506.1 193.7h0M503.0 196.4h0M532.6 197.3h0M526.1 189.2h0M478.6 280.2h0M464.4 266.7h0M481.8 280.2h0M472.6 273.9h0M464.2 272.1h0M476.6 284.7h0M438.2 317.5h0M448.4 318.4h0M449.6 322.0h0M447.2 313.0h0M442.8 313.9h0M547.7 357.6h0M543.4 359.4h0M455.0 395.9h0M532.8 482.3h0M535.0 480.5h0M538.9 480.5h0M545.5 480.5h0M540.4 479.6h0" stroke="#fa0064"/><path d="M460.7 74.4h0M465.8 66.3h0M480.6 73.5h0M478.9 64.5h0M456.9 69.9h0M464.2 64.5h0M466.0 78.9h0M478.1 69.0h0M455.3 67.2h0M472.3 69.0h0M477.7 73.5h0M474.7 114.5h0M478.0 120.8h0M477.1 110.0h0M479.5 119.9h0M456.8 152.7h0M469.9 143.7h0M454.5 149.1h0M481.7 155.4h0M508.4 207.2h0M526.3 194.6h0M540.6 193.7h0M513.8 204.5h0M545.2 195.5h0M513.8 194.6h0M509.2 200.9h0M510.0 189.2h0M534.8 200.0h0M510.2 199.1h0M511.0 197.3h0M515.3 206.3h0M535.9 193.7h0M542.3 196.4h0M520.5 200.9h0M510.2 195.5h0M553.3 193.7h0M539.4 196.4h0M519.3 236.5h0M466.2 283.8h0M478.7 273.9h0M477.1 270.3h0M471.9 275.7h0M467.1 279.3h0M466.4 264.0h0M459.4 272.1h0M467.4 287.4h0M476.7 275.7h0M464.5 286.5h0M438.6 313.9h0M451.8 313.9h0M453.2 316.6h0M438.9 321.1h0M455.1 324.7h0M441.7 318.4h0M447.3 320.2h0M549.8 358.5h0M554.3 357.6h0M566.5 357.6h0M446.0 400.4h0M447.1 397.7h0M446.3 398.6h0M452.2 399.5h0M454.8 400.4h0M550.4 440.5h0M571.8 438.7h0M567.5 438.7h0M545.7 440.5h0M537.2 478.7h0M522.5 479.6h0M545.8 479.6h0M540.4 481.4h0M548.7 481.4h0M539.4 478.7h0M555.1 480.5h0" stroke="#fd005f"/><path d="M464.5 72.6h0M443.6 75.3h0M455.0 69.9h0M467.2 69.9h0M466.3 75.3h0M462.5 81.6h0M469.3 70.8h0M459.1 69.0h0M462.4 77.1h0M448.0 72.6h0M463.2 68.1h0M460.4 69.0h0M462.1 69.9h0M460.1 116.3h0M452.4 114.5h0M455.4 119.9h0M444.4 114.5h0M472.4 110.0h0M462.6 115.4h0M462.7 106.4h0M477.1 117.2h0M459.7 110.0h0M444.4 111.8h0M464.3 142.8h0M476.5 162.6h0M471.1 141.9h0M473.7 157.2h0M459.0 154.5h0M477.1 157.2h0M470.6 144.6h0M473.3 150.0h0M478.7 157.2h0M471.1 145.5h0M463.1 148.2h0M476.9 150.0h0M475.8 147.3h0M508.4 188.3h0M533.5 193.7h0M517.6 197.3h0M506.3 189.2h0M509.8 187.4h0M509.2 187.4h0M511.1 192.8h0M510.9 202.7h0M535.4 190.1h0M516.5 202.7h0M517.3 199.1h0M535.6 199.1h0M533.5 189.2h0M512.4 185.6h0M515.4 184.7h0M516.2 204.5h0M511.7 207.2h0M523.1 199.1h0M507.8 195.5h0M514.9 192.8h0M507.9 205.4h0M518.3 193.7h0M554.1 196.4h0M529.9 197.3h0M515.1 195.5h0M520.4 193.7h0M531.6 191.9h0M512.2 194.6h0M527.1 191.0h0M521.6 236.5h0M533.7 237.4h0M535.1 238.3h0M541.9 238.3h0M555.7 238.3h0M523.3 235.6h0M553.3 237.4h0M535.8 234.7h0M468.8 273.0h0M467.1 271.2h0M448.8 277.5h0M479.8 282.0h0M447.9 278.4h0M469.6 279.3h0M467.7 274.8h0M458.9 279.3h0M471.7 273.9h0M460.2 272.1h0M434.6 317.5h0M429.5 316.6h0M442.2 315.7h0M420.5 315.7h0M447.4 396.8h0M444.5 396.8h0M439.6 399.5h0M441.4 400.4h0M448.2 395.9h0M440.0 398.6h0M579.6 439.6h0M534.7 481.4h0M536.1 479.6h0M546.2 481.4h0M561.1 480.5h0M534.4 477.8h0M531.4 477.8h0M551.6 478.7h0M543.8 480.5h0M550.8 481.4h0M529.9 478.7h0M535.5 482.3h0M547.8 480.5h0M552.8 479.6h0" stroke="#ff005b"/><path d="M433.1 73.5h0M465.7 82.5h0M447.6 71.7h0M477.3 63.6h0M469.4 76.2h0M453.6 72.6h0M463.2 72.6h0M465.1 67.2h0M438.1 72.6h0M475.1 78.0h0M473.1 73.5h0M477.8 80.7h0M456.8 72.6h0M471.8 70.8h0M460.0 79.8h0M459.0 70.8h0M468.2 71.7h0M452.1 69.9h0M464.5 127.1h0M466.8 100.1h0M461.8 121.7h0M457.2 106.4h0M459.1 111.8h0M460.6 121.7h0M480.5 114.5h0M461.1 101.9h0M460.3 114.5h0M457.9 110.0h0M465.0 109.1h0M460.1 108.2h0M477.6 111.8h0M481.7 115.4h0M458.3 112.7h0M460.1 105.5h0M464.1 123.5h0M461.6 114.5h0M477.7 123.5h0M443.3 116.3h0M445.0 113.6h0M470.6 109.1h0M471.0 115.4h0M456.7 110.9h0M467.2 122.6h0M457.8 157.2h0M468.0 146.4h0M462.5 156.3h0M465.9 148.2h0M456.0 156.3h0M461.2 153.6h0M465.7 158.1h0M465.8 165.3h0M470.9 159.0h0M448.6 153.6h0M458.6 158.1h0M456.8 159.0h0M446.0 155.4h0M464.3 157.2h0M462.7 152.7h0M466.2 145.5h0M435.4 154.5h0M521.9 202.7h0M515.3 197.3h0M515.0 187.4h0M520.6 200.0h0M518.4 185.6h0M505.2 202.7h0M542.7 194.6h0M552.0 195.5h0M525.0 201.8h0M515.8 203.6h0M512.1 191.9h0M513.0 205.4h0M538.4 192.8h0M537.2 192.8h0M560.6 195.5h0M552.8 197.3h0M518.0 191.0h0M523.2 191.0h0M565.4 193.7h0M567.4 194.6h0M512.8 188.3h0M512.0 201.8h0M554.6 195.5h0M556.7 195.5h0M512.4 192.8h0M510.9 186.5h0M547.3 194.6h0M530.6 191.0h0M539.7 197.3h0M546.6 237.4h0M526.4 238.3h0M538.2 235.6h0M529.4 234.7h0M535.7 237.4h0M529.2 235.6h0M547.7 235.6h0M566.2 235.6h0M464.4 285.6h0M449.1 279.3h0M475.4 272.1h0M477.1 280.2h0M467.4 278.4h0M453.1 277.5h0M472.3 269.4h0M452.7 276.6h0M471.4 284.7h0M458.0 273.9h0M461.3 284.7h0M467.1 266.7h0M465.5 265.8h0M476.7 274.8h0M469.8 280.2h0M464.1 279.3h0M436.3 277.5h0M465.0 290.1h0M456.3 278.4h0M465.9 285.6h0M469.6 268.5h0M458.8 277.5h0M475.5 273.9h0M441.4 277.5h0M457.5 272.1h0M470.4 282.9h0M433.9 319.3h0M426.4 316.6h0M416.4 316.6h0M433.9 316.6h0M437.8 315.7h0M447.8 317.5h0M446.4 315.7h0M415.5 317.5h0M433.6 318.4h0M419.7 316.6h0M589.3 357.6h0M566.3 357.6h0M588.0 358.5h0M554.6 358.5h0M568.6 358.5h0M560.1 357.6h0M450.0 400.4h0M431.0 398.6h0M446.5 399.5h0M561.8 441.4h0M562.6 478.7h0M540.9 480.5h0M529.4 480.5h0M552.7 479.6h0M547.8 478.7h0M561.7 479.6h0M547.7 481.4h0M547.2 479.6h0M517.7 480.5h0M542.0 480.5h0M551.0 479.6h0M491.5 517.0h0M488.7 529.6h0M493.8 529.6h0M499.7 525.1h0M485.0 523.3h0M490.1 529.6h0M495.7 529.6h0M484.9 523.3h0M492.8 517.0h0M493.2 524.2h0M498.3 524.2h0M487.2 518.8h0M491.4 526.9h0M495.2 524.2h0M488.3 512.5h0M487.7 514.3h0M499.6 520.6h0M491.8 514.3h0M494.3 526.9h0M490.5 527.8h0M485.7 517.9h0M496.1 524.2h0M488.4 514.3h0M487.8 530.5h0M493.9 520.6h0M495.7 530.5h0M488.7 528.7h0M492.4 521.5h0" stroke="#ff0056"/><path d="M461.9 87.0h0M456.6 69.0h0M446.7 70.8h0M470.0 78.9h0M465.0 75.3h0M472.3 72.6h0M469.6 72.6h0M449.0 69.0h0M463.1 60.0h0M446.7 69.9h0M446.8 76.2h0M431.4 73.5h0M463.5 69.0h0M463.5 64.5h0M457.1 75.3h0M458.8 72.6h0M450.1 70.8h0M455.7 66.3h0M462.7 60.9h0M448.1 77.1h0M468.0 67.2h0M464.9 60.0h0M465.1 68.1h0M447.8 75.3h0M459.8 64.5h0M462.2 85.2h0M471.4 69.9h0M455.6 79.8h0M468.1 66.3h0M467.1 68.1h0M476.2 107.3h0M469.1 115.4h0M460.7 126.2h0M468.8 120.8h0M456.4 110.9h0M479.3 105.5h0M453.3 113.6h0M466.4 128.9h0M434.4 114.5h0M450.8 113.6h0M444.2 112.7h0M470.4 114.5h0M463.6 114.5h0M465.4 101.0h0M476.8 110.9h0M472.8 111.8h0M466.2 110.9h0M477.1 106.4h0M450.2 115.4h0M450.0 116.3h0M464.2 126.2h0M470.6 108.2h0M461.8 108.2h0M454.0 116.3h0M459.7 117.2h0M475.7 113.6h0M466.1 101.9h0M460.2 118.1h0M462.1 110.9h0M456.9 109.1h0M443.5 113.6h0M455.2 111.8h0M469.9 120.8h0M463.1 109.1h0M446.2 112.7h0M463.5 101.9h0M455.4 110.0h0M467.2 116.3h0M471.5 110.9h0M470.9 112.7h0M462.0 102.8h0M442.9 112.7h0M467.2 152.7h0M467.3 149.1h0M475.0 160.8h0M469.3 151.8h0M462.7 158.1h0M474.6 162.6h0M455.4 153.6h0M460.0 150.0h0M466.1 146.4h0M449.2 154.5h0M441.0 152.7h0M454.6 152.7h0M468.7 156.3h0M465.3 151.8h0M467.6 144.6h0M474.1 154.5h0M446.0 156.3h0M465.3 160.8h0M442.4 154.5h0M454.1 155.4h0M451.4 151.8h0M449.0 152.7h0M447.3 154.5h0M466.5 141.0h0M466.4 163.5h0M454.6 159.9h0M434.0 154.5h0M474.9 150.0h0M457.7 156.3h0M448.0 150.0h0M438.6 154.5h0M444.2 153.6h0M457.9 154.5h0M475.6 161.7h0M466.9 139.2h0M440.7 153.6h0M475.6 163.5h0M470.7 160.8h0M467.6 143.7h0M466.1 154.5h0M475.1 144.6h0M474.2 156.3h0M461.9 157.2h0M473.1 148.2h0M466.2 164.4h0M466.3 168.0h0M458.5 161.7h0M459.5 159.9h0M468.0 158.1h0M464.8 150.0h0M471.9 156.3h0M470.5 163.5h0M448.2 156.3h0M466.5 147.3h0M472.7 154.5h0M454.5 158.1h0M477.1 153.6h0M464.6 156.3h0M464.6 146.4h0M441.6 153.6h0M525.8 195.5h0M533.3 199.1h0M535.6 196.4h0M510.7 185.6h0M510.7 203.6h0M525.9 200.9h0M521.9 191.9h0M563.6 193.7h0M513.1 208.1h0M527.6 193.7h0M531.6 197.3h0M517.2 191.9h0M566.4 196.4h0M575.4 195.5h0M537.3 200.0h0M524.6 201.8h0M562.9 195.5h0M510.0 206.3h0M517.0 194.6h0M529.8 191.0h0M570.6 194.6h0M507.1 204.5h0M521.9 190.1h0M533.9 201.8h0M531.9 190.1h0M522.8 189.2h0M516.2 201.8h0M523.0 194.6h0M535.9 197.3h0M557.2 192.8h0M513.0 202.7h0M512.6 182.9h0M528.8 200.0h0M515.3 191.0h0M510.0 194.6h0M509.9 200.9h0M524.0 190.1h0M512.1 193.7h0M536.5 197.3h0M554.0 192.8h0M558.0 193.7h0M536.8 191.0h0M524.6 189.2h0M515.2 188.3h0M564.2 236.5h0M532.0 235.6h0M521.8 235.6h0M529.5 238.3h0M545.6 234.7h0M549.0 234.7h0M540.6 235.6h0M556.1 235.6h0M543.6 234.7h0M585.4 235.6h0M536.4 235.6h0M526.8 237.4h0M549.8 237.4h0M616.6 236.5h0M546.3 233.8h0M583.3 235.6h0M531.7 238.3h0M550.4 235.6h0M584.0 236.5h0M568.6 236.5h0M604.7 236.5h0M553.8 235.6h0M589.4 236.5h0M550.5 238.3h0M610.6 236.5h0M538.8 234.7h0M572.2 235.6h0M521.7 234.7h0M531.3 237.4h0M537.2 233.8h0M542.7 234.7h0M533.2 238.3h0M547.3 238.3h0M549.1 236.5h0M533.2 234.7h0M534.3 233.8h0M525.1 235.6h0M538.9 236.5h0M556.8 237.4h0M525.3 236.5h0M465.7 275.7h0M460.2 279.3h0M459.3 282.0h0M454.9 280.2h0M455.8 276.6h0M464.4 281.1h0M463.5 270.3h0M466.9 283.8h0M468.2 269.4h0M466.8 264.9h0M462.6 275.7h0M434.1 277.5h0M468.6 285.6h0M461.8 278.4h0M473.1 275.7h0M461.9 284.7h0M478.7 273.0h0M470.0 271.2h0M447.6 277.5h0M465.3 282.0h0M443.7 275.7h0M467.2 267.6h0M474.2 269.4h0M470.8 270.3h0M455.9 270.3h0M464.3 275.7h0M458.4 271.2h0M473.2 268.5h0M470.0 284.7h0M463.4 282.0h0M465.7 276.6h0M465.2 284.7h0M444.5 277.5h0M463.8 284.7h0M458.8 278.4h0M461.2 280.2h0M477.5 277.5h0M472.9 286.5h0M460.3 275.7h0M448.4 280.2h0M461.8 272.1h0M475.9 282.0h0M470.7 271.2h0M460.3 269.4h0M467.0 270.3h0M465.4 272.1h0M474.8 283.8h0M466.7 273.0h0M450.8 273.9h0M475.0 275.7h0M457.2 276.6h0M443.7 276.6h0M462.5 282.9h0M453.9 279.3h0M456.5 279.3h0M452.5 280.2h0M448.9 275.7h0M438.0 277.5h0M463.2 269.4h0M473.0 278.4h0M454.4 278.4h0M473.8 283.8h0M431.6 315.7h0M428.9 317.5h0M452.7 314.8h0M396.4 317.5h0M431.9 314.8h0M423.2 317.5h0M447.4 313.9h0M430.1 315.7h0M445.8 315.7h0M424.7 316.6h0M436.5 317.5h0M621.0 358.5h0M570.1 357.6h0M557.4 358.5h0M567.1 358.5h0M616.7 358.5h0M573.8 357.6h0M557.1 358.5h0M580.2 358.5h0M577.5 357.6h0M561.1 357.6h0M443.0 397.7h0M443.4 400.4h0M420.0 399.5h0M432.3 398.6h0M420.7 399.5h0M437.2 399.5h0M447.3 401.3h0M443.7 398.6h0M432.6 397.7h0M438.6 400.4h0M444.3 398.6h0M559.1 439.6h0M550.4 441.4h0M578.2 440.5h0M565.2 439.6h0M545.9 441.4h0M535.8 439.6h0M572.9 438.7h0M571.5 440.5h0M540.3 440.5h0M571.7 439.6h0M548.4 440.5h0M648.8 440.5h0M593.0 440.5h0M551.3 480.5h0M555.1 481.4h0M564.0 480.5h0M549.1 479.6h0M547.1 482.3h0M559.1 480.5h0M560.2 481.4h0M549.9 479.6h0M554.8 481.4h0M552.0 481.4h0M554.0 479.6h0M558.7 481.4h0M563.9 479.6h0M490.9 518.8h0M489.1 512.5h0M489.9 526.9h0M492.2 516.1h0M496.8 529.6h0M493.2 528.7h0M493.5 510.7h0M499.4 519.7h0M493.1 523.3h0M493.4 515.2h0M488.3 526.0h0M488.2 517.9h0M487.5 519.7h0M492.2 527.8h0M491.2 519.7h0M492.2 511.6h0M495.6 514.3h0M483.7 520.6h0M494.4 522.4h0M495.7 512.5h0M487.7 517.9h0M495.2 522.4h0M489.7 522.4h0M494.5 517.0h0M494.4 518.8h0M489.5 519.7h0M491.3 528.7h0M494.2 521.5h0M486.8 527.8h0M494.0 526.0h0M490.4 514.3h0M498.8 520.6h0M489.0 526.9h0M494.1 519.7h0M498.0 520.6h0M499.6 524.2h0M503.8 521.5h0M496.4 513.4h0M496.1 525.1h0M486.6 516.1h0M493.9 512.5h0M486.8 515.2h0M495.4 515.2h0M489.1 526.0h0M489.1 511.6h0M500.3 523.3h0M487.6 522.4h0M488.5 519.7h0M494.9 517.9h0M497.9 515.2h0M492.4 525.1h0M492.1 530.5h0M490.3 521.5h0M496.1 516.1h0M493.0 517.0h0M498.9 525.1h0M501.2 522.4h0M485.6 519.7h0M493.3 520.6h0M500.1 521.5h0M491.6 508.9h0M496.7 513.4h0M495.8 523.3h0M498.6 523.3h0M495.4 528.7h0M497.4 516.1h0M487.8 517.0h0M495.8 520.6h0M493.5 511.6h0M492.0 520.6h0M495.9 518.8h0M487.6 511.6h0M500.7 524.2h0M491.8 508.0h0M490.9 517.9h0M495.2 526.9h0M496.7 522.4h0M494.0 515.2h0M499.9 522.4h0M488.0 520.6h0M495.9 515.2h0M492.2 519.7h0M497.4 517.9h0M503.1 521.5h0M489.1 519.7h0M492.8 515.2h0M495.3 513.4h0M490.5 517.9h0M496.9 527.8h0M488.2 517.0h0M484.5 518.8h0M489.0 527.8h0M485.4 521.5h0M493.5 518.8h0M488.8 515.2h0M499.3 517.0h0M495.8 528.7h0M495.2 527.8h0M489.5 528.7h0M495.7 517.0h0M498.3 527.8h0M490.3 528.7h0M489.9 513.4h0M490.1 530.5h0M492.6 513.4h0M487.4 524.2h0M502.0 521.5h0M488.9 524.2h0M492.5 514.3h0M484.9 517.0h0M495.7 516.1h0M498.0 526.0h0M487.7 526.0h0" stroke="#ff0051"/><path d="M545.5 74.4h0M565.5 71.7h0M651.0 73.5h0M566.8 72.6h0M553.5 72.6h0M546.5 72.6h0M556.1 73.5h0M573.1 73.5h0M551.9 76.2h0M533.3 72.6h0M566.9 73.5h0M640.8 73.5h0M546.5 71.7h0M570.3 71.7h0M564.3 74.4h0M601.9 73.5h0M604.7 73.5h0M538.0 72.6h0M548.0 74.4h0M568.4 74.4h0M547.6 74.4h0M607.3 114.5h0M590.4 114.5h0M531.4 113.6h0M564.5 114.5h0M560.6 115.4h0M588.0 114.5h0M622.3 114.5h0M535.0 113.6h0M536.9 114.5h0M539.0 113.6h0M578.2 114.5h0M603.6 114.5h0M573.3 154.5h0M557.2 155.4h0M538.9 153.6h0M542.2 153.6h0M601.9 154.5h0M558.0 152.7h0M553.6 154.5h0M579.7 153.6h0M636.0 154.5h0M562.1 154.5h0M611.0 154.5h0M588.4 155.4h0M585.9 153.6h0M564.5 153.6h0M547.9 153.6h0M575.3 155.4h0M531.5 155.4h0M558.8 156.3h0M588.7 154.5h0M584.9 154.5h0M606.9 153.6h0M535.1 154.5h0M590.2 154.5h0M549.6 154.5h0M442.8 190.1h0M421.0 194.6h0M428.3 197.3h0M438.2 191.0h0M442.3 193.7h0M436.8 203.6h0M441.3 188.3h0M447.8 201.8h0M438.8 196.4h0M445.4 196.4h0M434.3 192.8h0M454.4 201.8h0M423.4 198.2h0M441.6 197.3h0M438.0 194.6h0M440.3 201.8h0M440.4 204.5h0M444.0 197.3h0M438.9 201.8h0M450.2 200.0h0M438.5 199.1h0M422.7 195.5h0M440.1 188.3h0M446.9 189.2h0M429.5 198.2h0M430.8 194.6h0M457.1 186.5h0M441.5 185.6h0M427.6 198.2h0M432.6 193.7h0M441.1 190.1h0M435.6 191.9h0M449.4 192.8h0M423.5 192.8h0M418.1 195.5h0M442.7 199.1h0M473.8 241.0h0M449.2 231.1h0M475.0 237.4h0M464.9 228.4h0M470.2 230.2h0M450.1 232.9h0M448.1 238.3h0M463.1 248.2h0M458.3 229.3h0M468.9 232.9h0M458.0 241.0h0M467.2 243.7h0M454.7 233.8h0M467.5 237.4h0M464.3 232.9h0M473.3 228.4h0M472.9 234.7h0M463.3 229.3h0M472.7 240.1h0M460.3 227.5h0M459.0 237.4h0M464.0 226.6h0M446.8 236.5h0M454.3 237.4h0M464.5 229.3h0M477.6 232.0h0M477.8 242.8h0M468.3 242.8h0M462.3 242.8h0M470.6 233.8h0M474.1 231.1h0M462.1 241.0h0M470.4 244.6h0M451.3 237.4h0M468.3 229.3h0M543.8 278.4h0M540.2 277.5h0M527.8 279.3h0M545.2 278.4h0M551.0 279.3h0M531.7 277.5h0M534.1 276.6h0M572.4 276.6h0M521.8 278.4h0M525.5 278.4h0M585.3 278.4h0M605.5 277.5h0M556.7 277.5h0M583.4 278.4h0M517.2 276.6h0M580.6 276.6h0M535.2 275.7h0M528.9 275.7h0M559.2 278.4h0M560.7 277.5h0M578.6 278.4h0M570.3 277.5h0M589.1 277.5h0M555.3 278.4h0M546.3 277.5h0M535.4 278.4h0M526.3 278.4h0M578.4 276.6h0M548.3 275.7h0M521.4 277.5h0M543.0 277.5h0M522.9 277.5h0M617.4 277.5h0M576.4 277.5h0M577.1 317.5h0M536.8 319.3h0M521.0 313.9h0M555.0 315.7h0M535.0 313.0h0M556.4 318.4h0M515.7 320.2h0M586.0 317.5h0M539.1 316.6h0M515.6 311.2h0M597.5 317.5h0M534.2 315.7h0M515.8 312.1h0M543.9 316.6h0M595.5 317.5h0M468.8 347.7h0M481.3 354.0h0M481.7 358.5h0M477.8 365.7h0M463.5 355.8h0M470.2 359.4h0M468.9 353.1h0M474.3 353.1h0M473.8 352.2h0M445.1 358.5h0M469.8 371.1h0M475.5 361.2h0M470.6 355.8h0M474.6 368.4h0M468.3 349.5h0M478.2 366.6h0M473.6 367.5h0M485.1 359.4h0M468.5 366.6h0M474.5 350.4h0M479.3 363.9h0M466.8 354.0h0M486.2 354.9h0M477.8 355.8h0M456.8 358.5h0M475.6 362.1h0M467.6 364.8h0M464.4 350.4h0M461.0 357.6h0M477.7 353.1h0M475.7 358.5h0M479.7 364.8h0M453.8 359.4h0M472.2 365.7h0M472.7 355.8h0M549.1 399.5h0M527.6 401.3h0M521.6 397.7h0M507.0 398.6h0M506.0 405.8h0M526.7 399.5h0M516.7 400.4h0M534.2 399.5h0M515.5 398.6h0M498.5 404.9h0M463.3 441.4h0M476.2 427.9h0M475.0 448.6h0M472.3 439.6h0M463.6 440.5h0M475.0 445.9h0M471.3 445.0h0M462.4 442.3h0M471.6 436.0h0M471.4 442.3h0M473.8 436.9h0M478.2 432.4h0M469.3 440.5h0M467.7 439.6h0M475.5 427.0h0M463.9 436.9h0M475.4 448.6h0M478.3 441.4h0M475.9 441.4h0M462.8 471.5h0M466.7 491.3h0M468.4 477.8h0M468.3 486.8h0M467.4 475.1h0M459.8 478.7h0M458.4 481.4h0M478.1 473.3h0M462.9 477.8h0M467.9 483.2h0M464.1 483.2h0M461.6 471.5h0M475.6 482.3h0M461.2 475.1h0M467.6 481.4h0M465.5 482.3h0M473.7 481.4h0M463.9 478.7h0M465.8 484.1h0M476.0 481.4h0M466.1 480.5h0M460.2 480.5h0M469.3 476.0h0M476.9 479.6h0M475.5 467.0h0M460.5 485.0h0M460.3 473.3h0M467.5 492.2h0M467.0 483.2h0M460.9 474.2h0M462.1 480.5h0M454.7 522.4h0M454.5 521.5h0M462.5 518.8h0M454.1 522.4h0M440.3 520.6h0M453.0 518.8h0M432.4 521.5h0M444.4 520.6h0" stroke="#008bfb"/><path d="M543.6 75.3h0M553.0 71.7h0M581.0 73.5h0M578.4 73.5h0M546.0 73.5h0M609.8 73.5h0M563.0 71.7h0M586.1 73.5h0M550.6 72.6h0M562.5 75.3h0M564.0 72.6h0M557.1 113.6h0M546.4 114.5h0M556.1 114.5h0M535.6 113.6h0M560.3 155.4h0M570.0 155.4h0M582.5 154.5h0M557.8 154.5h0M427.2 195.5h0M444.3 200.9h0M416.0 193.7h0M436.9 193.7h0M423.2 193.7h0M436.2 193.7h0M426.0 193.7h0M425.9 191.0h0M439.0 205.4h0M441.3 196.4h0M419.1 194.6h0M442.5 184.7h0M446.0 202.7h0M444.0 206.3h0M446.6 196.4h0M426.6 200.0h0M425.9 197.3h0M439.3 195.5h0M459.0 234.7h0M475.8 239.2h0M479.2 232.0h0M466.1 223.9h0M463.8 237.4h0M465.0 250.0h0M472.0 227.5h0M452.6 231.1h0M471.5 237.4h0M449.4 241.0h0M441.7 236.5h0M474.7 236.5h0M454.3 240.1h0M446.2 237.4h0M445.0 238.3h0M460.7 243.7h0M454.6 237.4h0M445.2 236.5h0M456.2 240.1h0M451.0 235.6h0M476.5 246.4h0M457.2 234.7h0M460.8 222.1h0M474.0 238.3h0M460.7 228.4h0M484.0 232.9h0M440.0 236.5h0M459.0 246.4h0M541.3 276.6h0M529.2 276.6h0M588.1 276.6h0M550.9 276.6h0M564.0 278.4h0M548.8 279.3h0M524.4 276.6h0M575.5 278.4h0M591.3 276.6h0M522.0 319.3h0M527.1 318.4h0M551.4 317.5h0M529.3 314.8h0M536.0 318.4h0M549.7 318.4h0M516.2 322.0h0M537.7 316.6h0M532.8 320.2h0M538.8 318.4h0M539.1 314.8h0M561.8 317.5h0M467.7 359.4h0M473.3 363.0h0M462.4 358.5h0M466.0 351.3h0M452.8 359.4h0M472.0 366.6h0M467.5 365.7h0M470.7 357.6h0M472.8 354.0h0M482.8 363.0h0M476.4 355.8h0M450.2 358.5h0M472.1 354.9h0M465.5 358.5h0M469.7 368.4h0M464.6 362.1h0M469.0 365.7h0M447.0 358.5h0M476.7 356.7h0M469.3 367.5h0M467.5 353.1h0M464.9 359.4h0M466.5 348.6h0M457.8 362.1h0M460.3 355.8h0M467.5 355.8h0M518.0 401.3h0M518.6 397.7h0M545.3 399.5h0M542.5 399.5h0M534.8 398.6h0M514.9 397.7h0M511.7 398.6h0M530.1 401.3h0M522.9 400.4h0M476.5 430.6h0M483.2 443.2h0M479.3 437.8h0M467.3 442.3h0M471.8 433.3h0M471.7 429.7h0M469.2 450.4h0M466.6 440.5h0M489.8 441.4h0M484.0 438.7h0M470.1 433.3h0M472.8 434.2h0M470.6 436.9h0M471.1 428.8h0M468.4 445.0h0M470.1 445.0h0M480.8 442.3h0M475.9 446.8h0M474.3 435.1h0M473.3 447.7h0M479.5 442.3h0M476.1 444.1h0M484.4 441.4h0M457.0 478.7h0M471.7 487.7h0M475.9 486.8h0M475.4 492.2h0M463.2 487.7h0M474.0 478.7h0M476.7 470.6h0M460.9 476.0h0M466.5 479.6h0M466.8 478.7h0M460.3 477.8h0M477.6 481.4h0M466.7 493.1h0M472.0 486.8h0M468.4 475.1h0M470.6 485.9h0M466.2 472.4h0M476.3 487.7h0M461.7 472.4h0M470.5 480.5h0M466.3 485.0h0M474.7 476.0h0M457.5 480.5h0M476.6 466.1h0M471.6 485.9h0M475.9 490.4h0M463.4 488.6h0M467.0 472.4h0M455.9 479.6h0M462.9 472.4h0M469.5 473.3h0M461.5 487.7h0M462.1 478.7h0M467.0 482.3h0M469.3 481.4h0M451.4 522.4h0M463.3 518.8h0M457.2 522.4h0M456.7 518.8h0" stroke="#0088fa"/><path d="M558.9 73.5h0M615.3 73.5h0M620.1 73.5h0M556.1 72.6h0M574.4 114.5h0M542.1 114.5h0M578.0 153.6h0M537.5 154.5h0M529.2 154.5h0M448.0 200.9h0M447.5 199.1h0M437.6 190.1h0M449.3 199.1h0M421.2 193.7h0M447.0 200.0h0M436.1 195.5h0M437.4 196.4h0M429.9 196.4h0M446.3 200.9h0M437.3 199.1h0M435.8 199.1h0M433.4 191.0h0M441.8 194.6h0M441.2 195.5h0M442.7 188.3h0M420.8 195.5h0M443.8 204.5h0M472.0 245.5h0M469.7 247.3h0M467.1 234.7h0M467.7 238.3h0M464.4 245.5h0M455.1 240.1h0M457.8 233.8h0M451.2 241.0h0M461.0 223.9h0M461.6 247.3h0M461.0 232.9h0M463.6 236.5h0M430.8 236.5h0M467.5 230.2h0M454.1 241.0h0M467.6 245.5h0M466.6 229.3h0M453.1 236.5h0M470.0 246.4h0M465.2 227.5h0M476.6 241.0h0M436.7 234.7h0M440.9 237.4h0M467.0 228.4h0M434.8 235.6h0M466.4 247.3h0M568.6 276.6h0M582.9 277.5h0M552.5 276.6h0M535.9 313.9h0M534.1 317.5h0M520.9 315.7h0M513.0 311.2h0M552.5 315.7h0M547.0 318.4h0M558.8 316.6h0M541.9 317.5h0M534.7 314.8h0M519.4 317.5h0M533.8 318.4h0M523.9 316.6h0M475.2 363.9h0M469.1 355.8h0M467.5 363.9h0M471.1 364.8h0M474.4 351.3h0M474.5 354.9h0M464.9 351.3h0M462.6 357.6h0M477.8 362.1h0M470.8 345.0h0M466.1 356.7h0M474.9 366.6h0M471.1 367.5h0M488.3 360.3h0M470.9 362.1h0M451.7 357.6h0M472.4 360.3h0M467.1 357.6h0M465.1 366.6h0M486.9 355.8h0M459.9 360.3h0M463.4 359.4h0M482.3 355.8h0M529.3 397.7h0M527.3 400.4h0M522.9 399.5h0M517.1 401.3h0M528.5 399.5h0M524.7 400.4h0M518.6 396.8h0M542.3 398.6h0M464.0 436.9h0M473.8 454.0h0M476.7 432.4h0M473.7 442.3h0M477.3 442.3h0M478.6 446.8h0M468.8 449.5h0M479.1 430.6h0M495.7 439.6h0M470.9 441.4h0M473.6 436.0h0M492.9 440.5h0M471.5 448.6h0M468.6 437.8h0M486.1 442.3h0M468.9 431.5h0M479.6 448.6h0M475.7 449.5h0M473.5 433.3h0M477.0 437.8h0M461.0 438.7h0M475.6 439.6h0M480.5 440.5h0M476.6 486.8h0M460.2 485.9h0M466.9 479.6h0M472.6 482.3h0M476.2 473.3h0M464.6 480.5h0M470.0 477.8h0M476.1 483.2h0M463.0 485.9h0M477.2 483.2h0M473.4 485.0h0M467.3 474.2h0M474.4 482.3h0M473.4 474.2h0M469.2 474.2h0M465.2 483.2h0M476.0 484.1h0M472.7 476.9h0M474.8 472.4h0M458.8 480.5h0M482.5 484.1h0M467.0 473.3h0M464.4 472.4h0M474.8 477.8h0M451.6 519.7h0M452.6 520.6h0" stroke="#0085f9"/><path d="M547.7 152.7h0M433.1 194.6h0M457.2 196.4h0M445.6 188.3h0M425.2 196.4h0M441.1 200.0h0M436.4 191.0h0M424.0 196.4h0M444.7 200.0h0M445.7 192.8h0M415.4 195.5h0M443.0 196.4h0M437.2 200.0h0M441.3 203.6h0M443.2 191.0h0M471.4 244.6h0M469.5 232.9h0M447.3 239.2h0M449.6 232.0h0M467.9 247.3h0M439.4 234.7h0M443.8 234.7h0M446.4 234.7h0M442.3 237.4h0M486.3 232.0h0M476.0 237.4h0M476.0 233.8h0M454.6 239.2h0M461.0 231.1h0M468.5 239.2h0M451.1 232.9h0M454.6 238.3h0M539.8 276.6h0M529.8 320.2h0M541.9 319.3h0M536.0 314.8h0M529.7 318.4h0M542.8 317.5h0M507.4 313.9h0M557.1 316.6h0M516.4 317.5h0M470.8 345.9h0M484.9 358.5h0M465.1 352.2h0M474.9 349.5h0M463.5 362.1h0M475.4 349.5h0M471.3 364.8h0M478.9 360.3h0M465.3 349.5h0M475.4 353.1h0M479.8 356.7h0M455.0 360.3h0M466.0 362.1h0M476.2 360.3h0M482.8 361.2h0M538.2 398.6h0M512.6 396.8h0M522.0 402.2h0M511.1 402.2h0M522.7 398.6h0M471.3 437.8h0M474.2 441.4h0M469.4 435.1h0M460.4 442.3h0M492.0 439.6h0M470.1 485.0h0M472.9 480.5h0M464.3 475.1h0M461.2 490.4h0M476.7 485.9h0M469.5 475.1h0M468.3 478.7h0M474.3 484.1h0M466.7 476.0h0M466.4 469.7h0M476.2 494.0h0M476.6 472.4h0M465.0 476.0h0M471.4 481.4h0M465.9 481.4h0M477.4 467.0h0M475.8 475.1h0M470.3 479.6h0M464.5 479.6h0M467.4 486.8h0M459.2 480.5h0M468.5 481.4h0M475.7 491.3h0M477.1 472.4h0M467.1 485.0h0M465.3 471.5h0M470.8 517.9h0M461.8 518.8h0M449.6 520.6h0" stroke="#0082f8"/><path d="M444.2 194.6h0M451.3 200.9h0M450.5 199.1h0M424.0 197.3h0M458.9 233.8h0M480.2 242.8h0M476.8 238.3h0M467.5 222.1h0M483.0 233.8h0M469.9 242.8h0M481.7 231.1h0M460.1 229.3h0M455.9 234.7h0M477.8 235.6h0M464.6 246.4h0M465.3 237.4h0M466.8 238.3h0M457.6 228.4h0M459.8 245.5h0M525.3 319.3h0M523.7 314.8h0M516.8 316.6h0M527.1 313.9h0M520.4 322.0h0M529.5 316.6h0M521.5 317.5h0M461.0 359.4h0M475.6 359.4h0M472.1 352.2h0M476.1 365.7h0M476.6 354.0h0M502.0 396.8h0M510.5 401.3h0M531.5 397.7h0M517.4 396.8h0M530.8 399.5h0M536.4 399.5h0M486.4 438.7h0M467.2 436.9h0M482.7 436.9h0M480.9 482.3h0M477.0 476.9h0M475.7 485.0h0M463.7 485.0h0M470.5 483.2h0M473.8 480.5h0M477.9 476.9h0M467.9 476.0h0M463.8 476.0h0M462.9 489.5h0M465.0 488.6h0M436.2 521.5h0M442.3 519.7h0M447.4 520.6h0M467.1 519.7h0M466.3 525.1h0M474.2 521.5h0" stroke="#007ff6"/><path d="M453.5 192.8h0M452.2 191.9h0M448.4 196.4h0M444.8 187.4h0M476.3 232.9h0M462.2 247.3h0M475.7 242.8h0M475.2 229.3h0M460.8 236.5h0M527.7 317.5h0M533.7 314.8h0M501.8 324.7h0M530.5 317.5h0M514.5 313.9h0M480.9 357.6h0M526.7 398.6h0M514.6 402.2h0M515.4 399.5h0M525.7 399.5h0M520.0 398.6h0M497.3 440.5h0M484.8 483.2h0M479.9 483.2h0M484.0 482.3h0M459.6 522.4h0M450.0 522.4h0M441.6 521.5h0M458.9 519.7h0M450.2 520.6h0" stroke="#007bf5"/><path d="M445.8 189.2h0M453.4 195.5h0M456.3 197.3h0M464.0 188.3h0M483.3 231.1h0M470.3 243.7h0M486.9 234.7h0M478.9 237.4h0M527.5 319.3h0M514.8 315.7h0M517.0 322.9h0M513.1 313.9h0M517.3 312.1h0M521.1 314.8h0M506.8 321.1h0M525.3 398.6h0M483.6 480.5h0M479.6 480.5h0M478.3 485.9h0M466.9 519.7h0M467.5 518.8h0M469.6 520.6h0M462.4 523.3h0M449.2 519.7h0M467.5 517.0h0M465.1 524.2h0M445.6 520.6h0M471.7 515.2h0M449.0 519.7h0M469.7 525.1h0M469.0 522.4h0" stroke="#0078f3"/><path d="M457.5 203.6h0M459.4 197.3h0M478.6 231.1h0M482.1 240.1h0M477.7 239.2h0M514.0 314.8h0M511.9 324.7h0M507.8 313.9h0M519.8 318.4h0M492.9 357.6h0M500.8 403.1h0M489.0 474.2h0M482.1 479.6h0M458.8 526.0h0M464.9 523.3h0M449.1 523.3h0M472.6 529.6h0M467.0 522.4h0M454.6 519.7h0M470.7 528.7h0M451.7 521.5h0M455.5 521.5h0M467.8 518.8h0M465.8 519.7h0M467.1 520.6h0M474.4 518.8h0M461.8 519.7h0M464.4 519.7h0M450.5 519.7h0" stroke="#0075f0"/><path d="M454.8 189.2h0M464.9 191.0h0M466.2 189.2h0M460.8 193.7h0M462.5 186.5h0M477.7 233.8h0M484.1 241.9h0M505.2 325.6h0M505.2 320.2h0M509.5 321.1h0M516.9 321.1h0M467.8 352.2h0M488.7 356.7h0M500.2 395.9h0M509.7 395.9h0M495.8 386.9h0M503.5 391.4h0M492.3 487.7h0M485.1 477.8h0M451.8 518.8h0M469.6 524.2h0M457.5 524.2h0M473.7 522.4h0M467.6 517.9h0M438.4 521.5h0M470.4 527.8h0M456.9 523.3h0M470.1 520.6h0M459.8 518.8h0M469.7 517.9h0M472.9 515.2h0" stroke="#0071ee"/><path d="M455.9 199.1h0M460.4 207.2h0M451.8 194.6h0M459.7 194.6h0M463.2 202.7h0M486.8 236.5h0M487.7 232.9h0M521.9 316.6h0M500.3 314.8h0M507.0 314.8h0M493.9 358.5h0M506.2 399.5h0M496.3 392.3h0M499.8 407.6h0M498.1 398.6h0M503.6 400.4h0M509.5 403.1h0M502.8 393.2h0M501.0 440.5h0M486.8 476.0h0M481.0 477.8h0M469.6 521.5h0M456.8 521.5h0M453.5 521.5h0M468.8 514.3h0M461.9 517.0h0M472.9 514.3h0M463.6 521.5h0M459.9 522.4h0M464.6 520.6h0M468.9 526.9h0M464.2 522.4h0" stroke="#176eeb"/><path d="M455.0 199.1h0M455.3 200.0h0M453.2 190.1h0M460.0 187.4h0M482.4 234.7h0M508.2 322.9h0M501.5 390.5h0M513.9 398.6h0M505.4 394.1h0M480.7 481.4h0M480.9 476.9h0M448.9 523.3h0M459.2 523.3h0M463.7 522.4h0M465.0 522.4h0M472.2 515.2h0M458.6 520.6h0M476.0 522.4h0M469.0 523.3h0M476.0 517.9h0M470.8 517.0h0M455.5 519.7h0M455.9 522.4h0M467.5 527.8h0M454.8 523.3h0" stroke="#316ae9"/><path d="M459.2 199.1h0M453.3 199.1h0M473.8 195.5h0M454.8 193.7h0M457.0 188.3h0M458.4 191.9h0M519.3 319.3h0M509.1 313.0h0M515.4 321.1h0M502.2 310.3h0M509.5 317.5h0M499.0 310.3h0M515.0 316.6h0M492.7 359.4h0M495.4 359.4h0M500.3 394.1h0M501.0 400.4h0M509.7 396.8h0M497.0 402.2h0M501.4 404.9h0M509.2 440.5h0M481.3 482.3h0M494.2 483.2h0M486.4 476.9h0M486.0 485.0h0M481.2 475.1h0M461.7 528.7h0M475.2 522.4h0M461.9 525.1h0M461.3 518.8h0M470.4 518.8h0M470.8 524.2h0M473.9 518.8h0M466.4 517.9h0M467.5 525.1h0" stroke="#4166e5"/><path d="M460.0 197.3h0M458.7 188.3h0M455.2 196.4h0M491.2 235.6h0M489.5 309.4h0M511.6 322.0h0M514.2 313.0h0M520.6 314.8h0M506.3 320.2h0M503.9 397.7h0M496.4 388.7h0M506.1 393.2h0M492.8 402.2h0M507.7 401.3h0M503.9 403.1h0M490.8 476.0h0M496.1 481.4h0M489.7 477.8h0M488.8 476.0h0M481.6 485.0h0M486.9 479.6h0M487.7 486.8h0M492.4 482.3h0M482.6 485.0h0M471.3 516.1h0M468.7 517.0h0M475.5 519.7h0M471.2 515.2h0M472.2 518.8h0M462.3 517.0h0M466.7 520.6h0M476.6 516.1h0M471.3 523.3h0M458.9 524.2h0" stroke="#4e62e2"/><path d="M458.3 200.0h0M462.3 200.9h0M454.8 197.3h0M464.7 201.8h0M463.5 194.6h0M484.2 241.0h0M480.3 228.4h0M499.0 322.0h0M509.9 311.2h0M495.5 322.9h0M517.8 313.9h0M508.4 320.2h0M502.2 323.8h0M502.6 403.1h0M499.9 390.5h0M491.5 387.8h0M491.0 401.3h0M500.9 401.3h0M513.0 439.6h0M491.5 479.6h0M494.0 478.7h0M495.8 483.2h0M488.5 484.1h0M493.3 484.1h0M484.2 481.4h0M496.4 485.0h0M462.8 521.5h0M471.0 527.8h0M466.4 523.3h0M471.6 518.8h0M467.9 516.1h0M473.7 526.0h0" stroke="#585edf"/><path d="M464.0 192.8h0M454.2 200.9h0M475.7 195.5h0M469.3 197.3h0M463.9 203.6h0M456.0 195.5h0M481.8 238.3h0M492.5 237.4h0M509.3 319.3h0M490.8 313.0h0M496.5 408.5h0M494.7 390.5h0M488.3 401.3h0M495.9 388.7h0M489.8 393.2h0M497.8 405.8h0M505.8 439.6h0M514.2 439.6h0M485.6 476.0h0M487.7 480.5h0M490.7 485.9h0M478.6 522.4h0M477.8 519.7h0M472.7 522.4h0M473.1 527.8h0M451.1 520.6h0M469.7 523.3h0M471.1 514.3h0M461.2 524.2h0M471.6 519.7h0M462.5 522.4h0M467.7 524.2h0M448.1 520.6h0" stroke="#625adb"/><path d="M462.1 183.8h0M473.7 200.9h0M463.0 193.7h0M481.2 195.5h0M486.7 233.8h0M492.2 238.3h0M506.4 312.1h0M501.3 325.6h0M496.2 321.1h0M514.4 322.9h0M502.8 316.6h0M492.1 312.1h0M500.0 359.4h0M505.9 396.8h0M490.4 389.6h0M487.8 399.5h0M494.9 402.2h0M492.9 404.0h0M493.9 389.6h0M492.2 394.1h0M491.3 485.0h0M493.3 480.5h0M491.7 475.1h0M486.8 485.0h0M494.7 476.0h0M473.9 517.0h0M476.7 526.0h0M471.5 513.4h0M473.6 520.6h0M480.5 523.3h0M475.2 523.3h0" stroke="#6a55d7"/><path d="M461.3 192.8h0M466.5 188.3h0M466.9 183.8h0M462.3 206.3h0M473.6 200.0h0M464.2 193.7h0M471.1 200.0h0M489.2 235.6h0M506.8 323.8h0M513.0 319.3h0M498.9 307.6h0M500.4 311.2h0M498.9 357.6h0M497.9 358.5h0M504.1 398.6h0M493.7 408.5h0M486.2 401.3h0M489.4 397.7h0M498.9 391.4h0M496.0 393.2h0M493.5 394.1h0M497.7 393.2h0M495.6 396.8h0M496.8 404.0h0M535.3 441.4h0M491.3 476.0h0M486.7 477.8h0M468.4 524.2h0M475.9 521.5h0M479.3 522.4h0M472.4 526.9h0" stroke="#7251d3"/><path d="M476.0 199.1h0M471.0 198.2h0M472.4 196.4h0M471.9 193.7h0M458.0 190.1h0M468.8 200.0h0M467.2 187.4h0M466.4 195.5h0M472.7 191.0h0M506.7 316.6h0M502.5 322.9h0M493.5 307.6h0M493.2 317.5h0M495.9 309.4h0M497.5 328.3h0M489.3 325.6h0M490.6 311.2h0M490.0 387.8h0M504.2 406.7h0M502.8 407.6h0M497.0 392.3h0M490.8 398.6h0M496.6 398.6h0M494.0 399.5h0M494.6 388.7h0M499.0 483.2h0M493.2 485.9h0M506.9 481.4h0M482.4 476.0h0M484.6 480.5h0M496.2 478.7h0M466.9 526.0h0M477.8 521.5h0M479.3 524.2h0M467.5 526.9h0" stroke="#794cce"/><path d="M476.8 193.7h0M466.1 200.0h0M473.3 186.5h0M479.1 187.4h0M480.2 201.8h0M493.7 235.6h0M493.5 234.7h0M495.0 312.1h0M493.1 321.1h0M513.7 318.4h0M484.2 322.9h0M509.7 312.1h0M498.4 306.7h0M481.9 313.9h0M481.1 312.1h0M500.8 313.0h0M500.0 406.7h0M491.2 402.2h0M496.0 397.7h0M492.4 405.8h0M489.3 396.8h0M490.3 485.0h0M492.8 478.7h0M488.4 478.7h0M496.4 480.5h0M493.6 481.4h0M495.2 481.4h0M491.8 486.8h0M471.6 516.1h0M463.2 523.3h0M475.6 516.1h0M472.5 514.3h0M461.5 524.2h0" stroke="#7f47ca"/><path d="M473.4 201.8h0M483.4 194.6h0M468.5 198.2h0M483.2 202.7h0M470.0 199.1h0M472.9 188.3h0M489.7 236.5h0M486.0 306.7h0M504.9 322.9h0M489.1 322.9h0M487.9 306.7h0M484.0 306.7h0M485.2 322.0h0M491.5 358.5h0M480.2 387.8h0M492.7 395.0h0M488.7 392.3h0M484.5 393.2h0M480.2 408.5h0M488.9 485.9h0M500.1 482.3h0M493.8 482.3h0M490.9 483.2h0M491.0 474.2h0M495.6 476.9h0M495.4 483.2h0M491.9 483.2h0M491.6 481.4h0M493.7 476.0h0M471.6 517.0h0M466.8 517.0h0" stroke="#8542c5"/><path d="M474.2 196.4h0M486.7 191.0h0M483.5 182.0h0M475.5 201.8h0M473.4 197.3h0M483.0 195.5h0M468.7 196.4h0M484.5 199.1h0M478.6 182.9h0M465.5 191.0h0M477.2 198.2h0M468.0 189.2h0M470.8 196.4h0M481.8 182.0h0M463.0 194.6h0M494.4 236.5h0M492.6 326.5h0M495.5 310.3h0M497.1 307.6h0M487.4 321.1h0M489.5 320.2h0M494.9 318.4h0M480.4 315.7h0M479.0 400.4h0M489.3 388.7h0M488.3 390.5h0M478.1 396.8h0M495.5 406.7h0M480.9 398.6h0M489.6 403.1h0M492.2 393.2h0M488.5 404.9h0M483.1 404.0h0M477.7 386.9h0M497.1 399.5h0M501.3 482.3h0M514.4 481.4h0M495.9 484.1h0M492.3 484.1h0M496.5 480.5h0M504.8 480.5h0M493.4 475.1h0M493.5 485.9h0M480.6 517.9h0M475.6 523.3h0" stroke="#8b3cc0"/><path d="M464.4 206.3h0M464.3 186.5h0M483.4 192.8h0M478.3 182.0h0M479.9 208.1h0M488.1 202.7h0M477.7 199.1h0M477.5 200.9h0M478.9 191.9h0M484.8 185.6h0M471.3 189.2h0M485.3 208.1h0M478.8 306.7h0M488.6 308.5h0M493.5 316.6h0M484.9 314.8h0M480.3 304.9h0M489.9 329.2h0M483.0 321.1h0M480.9 329.2h0M491.2 325.6h0M483.2 399.5h0M485.5 403.1h0M494.3 396.8h0M488.7 407.6h0M495.6 407.6h0M478.9 395.0h0M496.8 394.1h0M489.7 399.5h0M478.6 391.4h0M497.2 401.3h0M486.5 479.6h0M508.2 482.3h0M491.3 485.9h0M480.1 520.6h0M479.4 519.7h0" stroke="#9036bb"/><path d="M485.6 197.3h0M472.8 191.9h0M478.3 189.2h0M467.1 193.7h0M480.5 191.0h0M482.1 187.4h0M489.7 206.3h0M477.8 188.3h0M460.6 202.7h0M487.9 201.8h0M480.3 327.4h0M501.3 309.4h0M497.0 317.5h0M489.4 314.8h0M490.6 304.9h0M496.5 316.6h0M500.3 322.9h0M490.1 322.9h0M488.0 319.3h0M487.4 395.0h0M475.0 391.4h0M485.8 402.2h0M477.3 395.0h0M485.6 389.6h0M489.9 409.4h0M501.1 396.8h0M478.7 410.3h0M484.4 402.2h0M486.1 390.5h0M510.1 482.3h0M504.3 478.7h0M489.2 481.4h0M491.5 484.1h0M469.0 516.1h0M475.0 521.5h0" stroke="#942fb5"/><path d="M474.7 189.2h0M487.5 190.1h0M487.3 200.0h0M477.9 192.8h0M484.2 199.1h0M484.7 190.1h0M488.7 201.8h0M483.1 186.5h0M492.0 184.7h0M485.0 204.5h0M488.9 187.4h0M487.9 188.3h0M490.4 193.7h0M481.5 191.0h0M475.3 200.9h0M475.3 186.5h0M489.2 311.2h0M491.8 313.9h0M499.8 312.1h0M487.7 305.8h0M503.3 309.4h0M490.5 323.8h0M494.3 395.9h0M483.0 400.4h0M482.8 393.2h0M491.8 400.4h0M477.5 408.5h0M481.7 407.6h0M485.9 407.6h0M482.5 404.9h0M492.2 389.6h0M489.2 405.8h0M483.0 399.5h0M498.4 389.6h0M493.9 409.4h0M533.1 440.5h0M509.8 477.8h0M509.1 476.9h0M498.7 482.3h0M479.8 518.8h0M480.4 521.5h0" stroke="#9927b0"/><path d="M492.3 189.2h0M481.2 207.2h0M487.7 189.2h0M476.6 183.8h0M487.9 192.8h0M484.1 201.8h0M483.1 183.8h0M471.1 199.1h0M486.3 192.8h0M489.1 196.4h0M483.9 184.7h0M485.6 182.0h0M513.0 236.5h0M485.8 307.6h0M481.4 318.4h0M490.2 329.2h0M478.3 325.6h0M481.4 311.2h0M480.5 317.5h0M489.8 326.5h0M477.0 305.8h0M477.9 311.2h0M479.4 404.9h0M481.8 395.0h0M480.8 404.9h0M473.4 409.4h0M484.7 404.0h0M487.0 398.6h0M481.7 406.7h0M474.3 395.9h0M472.0 406.7h0M479.5 411.2h0M507.1 480.5h0M501.0 481.4h0" stroke="#9f20ac"/><path d="M481.8 185.6h0M473.7 203.6h0M471.5 195.5h0M485.0 189.2h0M482.0 192.8h0M478.5 205.4h0M474.9 190.1h0M486.3 196.4h0M490.7 199.1h0M472.9 190.1h0M492.5 198.2h0M482.2 206.3h0M485.7 324.7h0M485.8 316.6h0M482.2 309.4h0M475.7 327.4h0M492.2 327.4h0M479.8 328.3h0M496.7 323.8h0M478.6 329.2h0M504.9 358.5h0M479.6 393.2h0M481.2 405.8h0M477.2 389.6h0M477.1 409.4h0M483.5 390.5h0M477.9 385.1h0M489.0 389.6h0M475.8 397.7h0M493.1 398.6h0M505.9 476.9h0M494.4 479.6h0" stroke="#a61ba9"/><path d="M493.2 196.4h0M491.7 206.3h0M480.9 183.8h0M486.3 200.9h0M483.6 198.2h0M490.5 196.4h0M489.5 205.4h0M483.6 191.0h0M485.5 184.7h0M489.3 198.2h0M479.4 209.0h0M492.1 237.4h0M489.9 306.7h0M479.2 330.1h0M488.2 327.4h0M484.0 313.9h0M476.2 329.2h0M479.8 326.5h0M475.8 308.5h0M483.6 308.5h0M520.3 358.5h0M475.8 398.6h0M474.8 407.6h0M481.6 396.8h0M480.1 389.6h0M475.1 388.7h0M473.5 402.2h0M469.4 401.3h0M477.1 392.3h0M499.2 482.3h0M505.4 479.6h0M499.4 480.5h0" stroke="#ac14a6"/><path d="M487.2 195.5h0M492.0 195.5h0M490.0 199.1h0M477.9 204.5h0M484.5 195.5h0M484.2 190.1h0M484.1 208.1h0M486.7 206.3h0M488.1 205.4h0M487.2 199.1h0M484.2 311.2h0M477.1 307.6h0M479.5 304.0h0M478.6 322.9h0M520.5 357.6h0M471.6 391.4h0M480.5 406.7h0M479.5 399.5h0M479.3 409.4h0M492.5 401.3h0M493.5 403.1h0M481.9 408.5h0M479.2 403.1h0M510.1 479.6h0" stroke="#b30ba3"/><path d="M489.5 184.7h0M490.4 201.8h0M489.5 190.1h0M491.5 186.5h0M489.4 202.7h0M488.9 204.5h0M482.3 186.5h0M497.9 191.0h0M470.9 308.5h0M471.4 327.4h0M473.8 306.7h0M476.5 311.2h0M474.7 306.7h0M477.0 327.4h0M469.8 323.8h0M481.6 314.8h0M487.2 327.4h0M480.5 325.6h0M512.1 357.6h0M533.3 357.6h0M476.6 403.1h0M477.1 386.0h0M487.3 405.8h0M472.0 389.6h0M474.8 397.7h0M471.1 398.6h0M540.9 441.4h0M512.9 479.6h0" stroke="#b900a0"/><path d="M492.1 207.2h0M493.3 193.7h0M497.6 198.2h0M481.4 197.3h0M492.0 194.6h0M491.3 204.5h0M474.2 327.4h0M472.9 314.8h0M466.1 317.5h0M482.6 322.0h0M469.7 313.9h0M468.8 318.4h0M463.0 310.3h0M473.0 319.3h0M537.8 440.5h0M508.2 483.2h0M508.5 481.4h0M507.2 478.7h0M505.2 482.3h0M517.1 477.8h0M511.2 483.2h0M509.1 479.6h0" stroke="#bf009d"/><path d="M489.5 192.8h0M495.6 193.7h0M496.0 192.8h0M491.0 319.3h0M479.8 308.5h0M478.5 312.1h0M462.5 314.8h0M474.7 310.3h0M495.0 323.8h0M463.7 314.8h0M476.9 323.8h0M490.3 308.5h0M469.1 325.6h0M478.8 314.8h0M518.5 358.5h0M481.3 409.4h0M472.3 393.2h0M468.4 394.1h0M476.9 388.7h0M482.0 390.5h0M509.2 481.4h0M506.8 483.2h0" stroke="#c5009a"/><path d="M496.3 197.3h0M494.5 196.4h0M499.4 194.6h0M496.4 278.4h0M469.7 312.1h0M474.6 326.5h0M474.2 320.2h0M477.0 315.7h0M475.4 322.9h0M478.6 316.6h0M482.0 392.3h0M474.5 403.1h0M475.2 390.5h0M472.8 410.3h0M466.4 396.8h0M473.3 397.7h0M475.3 395.9h0M470.5 407.6h0M517.8 477.8h0M516.8 479.6h0M506.0 483.2h0M511.5 481.4h0M514.5 477.8h0" stroke="#cb0096"/><path d="M467.6 323.8h0M471.7 324.7h0M468.4 311.2h0M470.6 316.6h0M475.5 317.5h0M524.3 358.5h0M467.4 395.9h0M474.3 394.1h0M472.8 391.4h0M469.0 393.2h0M518.9 480.5h0M509.3 478.7h0" stroke="#d00092"/><path d="M499.1 188.3h0M491.4 187.4h0M498.6 199.1h0M503.7 277.5h0M485.0 276.6h0M470.4 312.1h0M470.4 313.0h0M460.7 322.0h0M472.6 315.7h0M469.3 327.4h0M515.5 357.6h0M508.4 358.5h0M516.2 358.5h0M464.4 404.0h0M463.4 396.8h0M464.0 393.2h0M470.1 392.3h0" stroke="#d5008f"/><path d="M507.7 154.5h0M498.2 192.8h0M501.7 191.9h0M502.4 199.1h0M499.3 200.0h0M501.9 200.9h0M492.2 277.5h0M484.8 274.8h0M471.7 322.0h0M468.3 315.7h0M476.9 326.5h0M472.9 312.1h0M477.3 322.0h0M537.8 358.5h0M535.7 357.6h0M527.3 358.5h0M464.8 401.3h0M466.6 404.0h0M468.4 395.0h0M468.6 399.5h0M469.1 406.7h0M470.9 394.1h0M515.2 484.1h0M520.2 478.7h0M516.7 482.3h0" stroke="#da008b"/><path d="M505.3 73.5h0M484.6 112.7h0M500.0 199.1h0M499.3 193.7h0M501.9 194.6h0M493.3 277.5h0M486.2 276.6h0M489.3 274.8h0M468.9 314.8h0M469.6 321.1h0M463.6 324.7h0M460.4 315.7h0M468.2 403.1h0M461.0 403.1h0M470.6 399.5h0M464.8 400.4h0M469.2 395.9h0M466.6 393.2h0M471.2 402.2h0M519.9 477.8h0M518.0 478.7h0M517.5 479.6h0M511.4 480.5h0" stroke="#de0087"/><path d="M487.2 111.8h0M492.9 114.5h0M489.5 113.6h0M482.7 154.5h0M481.8 278.4h0M479.6 277.5h0M455.0 311.2h0M454.0 322.9h0M460.6 399.5h0M454.3 401.3h0M465.7 398.6h0M538.0 441.4h0M521.3 476.9h0M525.2 482.3h0M515.3 478.7h0M512.6 482.3h0M508.2 479.6h0" stroke="#e30083"/><path d="M492.1 73.5h0M482.6 75.3h0M483.3 116.3h0M487.4 116.3h0M502.6 188.3h0M500.3 187.4h0M488.4 274.8h0M481.5 281.1h0M485.8 280.2h0M469.5 317.5h0M458.2 320.2h0M456.7 323.8h0M442.3 321.1h0M460.4 321.1h0M455.4 315.7h0M451.9 315.7h0M452.9 321.1h0M540.1 359.4h0M541.1 357.6h0M521.3 358.5h0M456.3 397.7h0M464.2 397.7h0M523.1 479.6h0M514.4 479.6h0" stroke="#e7007e"/><path d="M460.7 69.9h0M483.5 72.6h0M483.9 73.5h0M483.0 153.6h0M504.5 195.5h0M499.8 200.9h0M499.6 197.3h0M485.1 278.4h0M481.5 273.9h0M483.2 281.1h0M464.7 311.2h0M537.9 357.6h0M472.6 408.5h0M462.1 393.2h0M524.7 481.4h0M530.9 478.7h0M519.1 481.4h0M516.9 483.2h0M521.0 483.2h0M525.3 479.6h0" stroke="#eb007a"/><path d="M462.2 80.7h0M480.5 72.6h0M505.0 200.0h0M504.6 194.6h0M506.0 197.3h0M504.6 190.1h0M484.6 273.9h0M481.0 277.5h0M485.9 277.5h0M479.9 276.6h0M490.5 278.4h0M477.6 282.9h0M465.0 313.0h0M461.8 313.0h0M451.8 312.1h0M453.5 312.1h0M474.7 321.1h0M544.6 357.6h0M462.7 404.0h0M460.5 394.1h0M457.9 399.5h0M458.3 395.0h0M467.1 400.4h0M463.7 404.9h0M462.9 395.9h0M524.4 478.7h0M532.1 481.4h0" stroke="#ee0076"/><path d="M460.4 83.4h0M479.4 74.4h0M458.8 73.5h0M482.6 114.5h0M479.8 154.5h0M480.1 149.1h0M501.6 191.0h0M503.0 192.8h0M503.6 191.9h0M496.2 195.5h0M503.4 191.0h0M504.1 185.6h0M502.1 204.5h0M500.9 185.6h0M503.2 200.0h0M479.7 278.4h0M486.8 274.8h0M460.8 313.0h0M460.6 322.9h0M452.8 315.7h0M460.0 317.5h0M447.5 321.1h0M458.8 313.0h0M459.2 310.3h0M548.0 358.5h0M546.8 359.4h0M461.0 398.6h0M467.1 398.6h0M462.5 403.1h0M456.4 402.2h0M525.2 480.5h0M518.2 482.3h0M536.0 480.5h0M532.6 479.6h0M521.4 480.5h0M525.8 481.4h0M529.2 481.4h0" stroke="#f20071"/><path d="M480.7 77.1h0M460.3 66.3h0M482.2 72.6h0M465.1 87.9h0M470.8 74.4h0M479.6 113.6h0M480.5 152.7h0M480.5 153.6h0M537.9 191.9h0M502.9 190.1h0M506.2 198.2h0M506.8 191.9h0M505.7 187.4h0M518.0 189.2h0M478.1 279.3h0M481.9 275.7h0M484.6 281.1h0M456.7 314.8h0M448.3 316.6h0M442.9 316.6h0M450.8 317.5h0M543.0 358.5h0M459.2 402.2h0M523.9 478.7h0M536.6 483.2h0M532.3 480.5h0" stroke="#f5006d"/><path d="M465.9 66.3h0M460.6 78.9h0M484.0 74.4h0M469.5 65.4h0M460.6 84.3h0M477.9 75.3h0M463.9 78.9h0M478.7 66.3h0M478.0 106.4h0M479.4 155.4h0M503.9 189.2h0M505.4 197.3h0M508.5 190.1h0M505.7 191.0h0M504.9 193.7h0M503.6 189.2h0M519.7 191.0h0M526.5 191.9h0M478.0 272.1h0M481.5 278.4h0M440.0 314.8h0M467.8 322.9h0M440.1 318.4h0M441.4 316.6h0M451.7 320.2h0M550.0 357.6h0M446.9 397.7h0M450.7 395.9h0M456.1 398.6h0M450.8 400.4h0" stroke="#f80068"/><path d="M455.7 80.7h0M463.4 63.6h0M478.7 69.9h0M467.1 80.7h0M465.5 69.9h0M477.0 77.1h0M457.5 71.7h0M477.1 65.4h0M463.0 76.2h0M478.0 118.1h0M468.3 112.7h0M477.9 151.8h0M509.4 205.4h0M511.6 183.8h0M537.6 190.1h0M512.5 191.0h0M552.3 196.4h0M507.8 185.6h0M514.1 203.6h0M514.9 198.2h0M481.1 280.2h0M474.8 271.2h0M477.6 279.3h0M431.6 317.5h0M557.2 357.6h0M458.1 404.0h0M458.9 403.1h0M454.3 396.8h0M450.4 401.3h0M468.3 401.3h0M448.0 400.4h0M538.8 439.6h0M555.6 441.4h0M525.8 478.7h0M532.9 481.4h0M536.6 480.5h0" stroke="#fa0064"/><path d="M464.8 83.4h0M466.2 82.5h0M462.1 74.4h0M460.8 67.2h0M461.7 70.8h0M462.4 83.4h0M440.3 74.4h0M476.8 70.8h0M465.4 69.0h0M478.3 71.7h0M477.0 121.7h0M464.2 124.4h0M479.4 102.8h0M472.3 115.4h0M478.5 119.0h0M478.1 145.5h0M470.1 150.9h0M475.7 159.0h0M472.9 150.9h0M461.5 159.9h0M451.7 154.5h0M511.3 183.8h0M526.5 190.1h0M508.1 183.8h0M515.0 186.5h0M514.8 189.2h0M513.8 205.4h0M533.2 188.3h0M537.2 196.4h0M511.1 193.7h0M510.5 184.7h0M560.0 196.4h0M521.1 199.1h0M508.5 191.9h0M539.4 193.7h0M514.3 188.3h0M545.4 236.5h0M468.5 273.9h0M473.5 277.5h0M476.2 273.9h0M460.3 268.5h0M464.3 274.8h0M472.0 273.0h0M470.4 282.0h0M479.5 282.0h0M442.3 322.0h0M412.5 317.5h0M572.6 358.5h0M455.0 398.6h0M450.1 398.6h0M449.7 397.7h0M462.2 395.0h0M464.4 395.0h0M445.3 399.5h0M447.1 399.5h0M573.4 440.5h0M546.1 481.4h0M538.0 479.6h0M549.0 480.5h0M563.9 481.4h0M542.2 481.4h0M541.0 481.4h0" stroke="#fd005f"/><path d="M460.4 70.8h0M452.6 71.7h0M466.4 78.0h0M470.1 79.8h0M464.4 71.7h0M452.1 74.4h0M471.2 73.5h0M461.9 86.1h0M455.3 73.5h0M445.6 72.6h0M477.0 68.1h0M466.7 76.2h0M464.0 78.0h0M455.2 70.8h0M446.6 73.5h0M463.5 62.7h0M462.8 112.7h0M465.9 113.6h0M468.8 113.6h0M463.6 117.2h0M469.0 123.5h0M461.9 113.6h0M461.6 105.5h0M485.4 113.6h0M466.9 117.2h0M468.2 107.3h0M470.2 113.6h0M475.3 158.1h0M459.0 160.8h0M452.6 150.9h0M465.1 159.9h0M463.0 160.8h0M466.4 157.2h0M439.5 154.5h0M477.1 150.9h0M518.1 195.5h0M520.2 196.4h0M515.4 195.5h0M537.3 194.6h0M509.3 194.6h0M550.5 197.3h0M551.1 195.5h0M512.9 206.3h0M515.3 186.5h0M520.5 190.1h0M532.4 196.4h0M526.1 198.2h0M532.1 201.8h0M516.0 190.1h0M529.8 193.7h0M563.2 194.6h0M516.9 200.9h0M558.2 194.6h0M529.9 198.2h0M523.0 197.3h0M509.8 200.0h0M518.3 190.1h0M518.8 196.4h0M562.3 196.4h0M528.6 194.6h0M548.6 195.5h0M537.2 200.9h0M505.2 201.8h0M591.4 236.5h0M548.9 238.3h0M525.5 233.8h0M543.2 236.5h0M463.1 276.6h0M476.0 277.5h0M462.7 271.2h0M463.2 277.5h0M468.4 272.1h0M459.3 274.8h0M444.8 279.3h0M466.6 278.4h0M477.2 273.0h0M465.4 274.8h0M472.1 280.2h0M470.3 286.5h0M467.2 284.7h0M449.8 313.0h0M449.4 319.3h0M442.3 319.3h0M439.7 315.7h0M447.3 314.8h0M444.4 320.2h0M440.9 321.1h0M553.2 358.5h0M442.8 401.3h0M445.4 396.8h0M429.0 397.7h0M564.3 441.4h0M545.9 477.8h0M541.4 479.6h0M553.1 481.4h0M544.6 480.5h0M545.3 478.7h0M562.1 481.4h0" stroke="#ff005b"/><path d="M455.9 68.1h0M475.6 76.2h0M449.8 71.7h0M469.1 77.1h0M466.6 86.1h0M470.2 75.3h0M460.1 62.7h0M468.3 69.0h0M460.6 65.4h0M429.9 73.5h0M466.6 71.7h0M450.7 72.6h0M466.2 60.9h0M450.0 112.7h0M476.5 118.1h0M454.3 120.8h0M466.8 107.3h0M464.3 110.9h0M457.9 111.8h0M454.1 115.4h0M475.7 109.1h0M457.5 107.3h0M463.0 112.7h0M432.6 114.5h0M457.1 114.5h0M470.6 110.0h0M469.0 114.5h0M479.2 108.2h0M455.2 117.2h0M459.1 152.7h0M452.3 151.8h0M477.8 161.7h0M474.8 157.2h0M462.1 160.8h0M468.0 153.6h0M447.8 150.9h0M467.3 163.5h0M461.9 161.7h0M468.2 162.6h0M474.1 165.3h0M477.4 159.9h0M463.3 159.0h0M472.3 159.9h0M450.3 156.3h0M473.6 155.4h0M477.8 164.4h0M446.6 153.6h0M465.9 166.2h0M475.3 148.2h0M459.0 159.0h0M469.9 158.1h0M464.0 152.7h0M463.1 159.9h0M477.5 158.1h0M556.4 196.4h0M519.9 188.3h0M520.8 195.5h0M514.7 199.1h0M559.9 194.6h0M517.3 186.5h0M522.6 196.4h0M515.7 192.8h0M526.5 193.7h0M518.1 200.9h0M513.6 185.6h0M512.0 186.5h0M535.5 191.0h0M552.1 194.6h0M522.1 194.6h0M537.7 195.5h0M512.1 200.0h0M521.4 200.9h0M509.7 201.8h0M561.6 194.6h0M520.5 194.6h0M518.0 201.8h0M532.8 194.6h0M568.8 196.4h0M558.8 196.4h0M517.4 200.0h0M521.5 237.4h0M539.8 238.3h0M527.4 235.6h0M567.9 236.5h0M542.4 237.4h0M548.2 237.4h0M531.1 236.5h0M550.1 234.7h0M460.6 281.1h0M454.7 279.3h0M459.2 281.1h0M468.4 277.5h0M458.6 275.7h0M456.3 273.0h0M461.5 286.5h0M475.8 273.0h0M475.4 270.3h0M467.6 280.2h0M466.8 273.9h0M467.2 264.0h0M472.9 284.7h0M472.5 287.4h0M452.7 319.3h0M425.8 317.5h0M431.2 319.3h0M441.6 314.8h0M580.7 357.6h0M430.3 400.4h0M445.3 397.7h0M427.2 399.5h0M430.7 399.5h0M577.2 440.5h0M545.2 482.3h0M548.7 478.7h0M538.2 478.7h0M531.3 481.4h0M528.1 480.5h0M556.8 479.6h0M536.2 478.7h0M542.9 481.4h0M519.4 482.3h0M536.9 477.8h0M557.6 478.7h0M556.0 479.6h0M493.8 513.4h0M497.1 518.8h0M486.6 517.9h0M487.6 526.9h0M497.5 520.6h0M499.2 518.8h0M494.0 527.8h0M486.0 523.3h0M485.7 518.8h0M496.1 530.5h0M490.5 519.7h0M493.0 517.9h0M498.6 526.9h0M486.9 526.9h0M492.4 526.9h0M485.6 522.4h0M494.2 518.8h0M487.8 525.1h0M491.5 526.0h0M499.2 517.9h0" stroke="#ff0056"/><path d="M461.3 81.6h0M442.2 72.6h0M476.2 69.0h0M459.3 68.1h0M450.6 71.7h0M455.1 71.7h0M452.4 73.5h0M449.6 75.3h0M476.8 77.1h0M441.0 72.6h0M439.8 71.7h0M467.8 84.3h0M460.6 75.3h0M464.5 62.7h0M450.0 73.5h0M464.8 73.5h0M439.1 73.5h0M470.0 67.2h0M449.4 74.4h0M477.9 78.9h0M446.5 74.4h0M459.7 80.7h0M460.8 78.0h0M470.4 71.7h0M463.1 61.8h0M467.1 65.4h0M468.6 74.4h0M458.7 68.1h0M476.2 74.4h0M467.0 74.4h0M476.0 72.6h0M464.5 81.6h0M474.9 69.9h0M470.2 118.1h0M463.4 102.8h0M458.5 118.1h0M447.2 115.4h0M439.7 115.4h0M465.4 124.4h0M458.7 113.6h0M463.1 111.8h0M479.4 104.6h0M439.4 114.5h0M462.2 124.4h0M457.7 117.2h0M464.6 122.6h0M444.3 115.4h0M445.4 116.3h0M448.4 115.4h0M463.5 110.0h0M458.0 119.0h0M450.2 114.5h0M468.4 117.2h0M444.5 117.2h0M467.7 118.1h0M460.3 120.8h0M440.8 116.3h0M454.9 114.5h0M475.9 116.3h0M466.6 123.5h0M467.0 105.5h0M462.7 125.3h0M453.8 111.8h0M467.6 105.5h0M470.9 119.0h0M464.6 105.5h0M457.8 108.2h0M473.1 112.7h0M440.2 112.7h0M468.8 119.9h0M467.0 126.2h0M450.7 112.7h0M470.6 111.8h0M467.7 119.0h0M467.9 111.8h0M455.1 109.1h0M472.4 118.1h0M466.7 102.8h0M468.5 121.7h0M449.7 113.6h0M465.1 128.0h0M437.7 114.5h0M454.8 115.4h0M470.5 110.9h0M464.2 115.4h0M464.9 125.3h0M466.5 106.4h0M463.1 106.4h0M454.3 112.7h0M451.4 111.8h0M460.7 119.9h0M456.7 122.6h0M447.1 116.3h0M466.0 111.8h0M471.8 114.5h0M461.7 109.1h0M458.7 109.1h0M472.2 113.6h0M456.4 118.1h0M464.3 107.3h0M464.3 108.2h0M474.5 155.4h0M471.6 147.3h0M449.1 157.2h0M463.9 141.9h0M470.7 150.0h0M456.8 153.6h0M459.7 147.3h0M470.6 153.6h0M451.6 155.4h0M475.2 150.9h0M475.9 152.7h0M466.2 168.9h0M461.1 159.0h0M461.9 151.8h0M467.9 150.0h0M470.4 152.7h0M465.4 143.7h0M466.0 162.6h0M453.2 153.6h0M470.4 161.7h0M449.8 152.7h0M449.0 158.1h0M463.5 143.7h0M470.4 162.6h0M454.9 159.0h0M456.0 150.9h0M472.1 158.1h0M467.3 161.7h0M448.9 151.8h0M461.2 162.6h0M457.3 150.0h0M476.9 144.6h0M471.8 160.8h0M466.7 142.8h0M466.8 159.0h0M463.2 164.4h0M466.7 144.6h0M468.2 147.3h0M461.6 150.0h0M466.7 155.4h0M471.2 155.4h0M469.5 156.3h0M468.3 150.9h0M453.5 158.1h0M473.2 159.0h0M466.9 150.9h0M466.9 149.1h0M463.8 166.2h0M463.6 162.6h0M459.3 155.4h0M464.3 165.3h0M457.8 155.4h0M462.6 146.4h0M452.9 152.7h0M465.5 153.6h0M532.8 191.9h0M527.3 196.4h0M539.9 194.6h0M526.4 191.0h0M514.6 200.0h0M541.1 195.5h0M527.1 200.0h0M527.8 195.5h0M505.8 200.9h0M533.9 195.5h0M538.7 195.5h0M551.3 196.4h0M511.5 196.4h0M524.8 187.4h0M514.9 202.7h0M531.8 196.4h0M520.9 195.5h0M525.6 200.0h0M566.6 195.5h0M533.2 192.8h0M508.6 201.8h0M512.4 184.7h0M545.0 197.3h0M550.3 193.7h0M531.2 199.1h0M514.3 197.3h0M523.1 192.8h0M535.5 194.6h0M540.9 194.6h0M557.2 193.7h0M523.8 200.9h0M572.1 195.5h0M524.9 199.1h0M522.9 236.5h0M557.5 237.4h0M588.5 235.6h0M522.8 237.4h0M533.2 236.5h0M544.3 235.6h0M576.8 237.4h0M548.7 233.8h0M575.8 236.5h0M588.3 236.5h0M556.8 236.5h0M586.8 236.5h0M526.5 238.3h0M574.7 236.5h0M565.2 236.5h0M579.1 236.5h0M544.2 238.3h0M525.1 237.4h0M537.8 238.3h0M527.5 233.8h0M542.9 233.8h0M551.3 235.6h0M543.1 235.6h0M552.8 236.5h0M518.9 235.6h0M534.7 235.6h0M575.9 235.6h0M571.6 235.6h0M454.8 274.8h0M469.7 277.5h0M457.2 277.5h0M445.7 275.7h0M471.0 272.1h0M451.0 277.5h0M463.6 288.3h0M474.8 276.6h0M466.0 288.3h0M470.6 282.9h0M457.2 281.1h0M471.6 276.6h0M451.8 281.1h0M463.2 285.6h0M465.7 277.5h0M456.3 284.7h0M451.9 279.3h0M464.7 271.2h0M459.3 273.0h0M451.6 280.2h0M457.5 283.8h0M460.9 274.8h0M467.6 290.1h0M457.0 280.2h0M460.0 271.2h0M462.2 283.8h0M454.8 275.7h0M467.8 268.5h0M463.0 280.2h0M473.7 279.3h0M469.5 275.7h0M470.3 272.1h0M473.0 271.2h0M447.8 275.7h0M475.0 274.8h0M470.2 274.8h0M439.3 277.5h0M474.0 285.6h0M460.4 273.9h0M468.0 275.7h0M469.1 285.6h0M468.1 273.0h0M464.7 276.6h0M462.0 270.3h0M471.2 282.0h0M458.8 283.8h0M451.2 274.8h0M461.3 286.5h0M474.9 280.2h0M446.4 277.5h0M464.2 278.4h0M462.4 279.3h0M465.4 279.3h0M465.4 287.4h0M421.2 318.4h0M437.1 319.3h0M432.3 316.6h0M427.5 318.4h0M445.6 318.4h0M443.7 319.3h0M432.5 318.4h0M414.3 317.5h0M432.8 315.7h0M410.4 317.5h0M424.7 319.3h0M429.3 318.4h0M427.2 317.5h0M423.9 316.6h0M417.8 316.6h0M444.6 317.5h0M577.5 358.5h0M569.7 357.6h0M560.2 358.5h0M570.4 359.4h0M604.0 358.5h0M586.1 357.6h0M439.5 400.4h0M444.5 400.4h0M440.7 398.6h0M441.5 397.7h0M437.0 400.4h0M437.0 399.5h0M433.4 399.5h0M436.6 398.6h0M427.4 398.6h0M439.9 397.7h0M410.0 399.5h0M433.1 400.4h0M427.3 399.5h0M445.3 401.3h0M442.2 399.5h0M560.4 441.4h0M554.2 440.5h0M568.5 441.4h0M545.7 439.6h0M638.0 440.5h0M611.2 440.5h0M560.8 439.6h0M573.7 439.6h0M577.4 439.6h0M682.7 440.5h0M614.4 440.5h0M568.0 440.5h0M564.5 440.5h0M568.3 439.6h0M533.3 480.5h0M563.4 480.5h0M544.5 481.4h0M557.1 480.5h0M537.2 479.6h0M557.5 479.6h0M562.2 480.5h0M563.3 478.7h0M554.2 480.5h0M538.1 480.5h0M537.0 481.4h0M554.7 478.7h0M553.6 478.7h0M543.8 479.6h0M524.4 477.8h0M542.2 479.6h0M547.2 478.7h0M487.1 527.8h0M497.5 521.5h0M502.4 521.5h0M494.1 510.7h0M486.8 520.6h0M501.1 523.3h0M499.2 522.4h0M495.3 519.7h0M493.0 521.5h0M488.1 526.9h0M497.2 527.8h0M490.2 526.9h0M486.7 528.7h0M492.2 534.1h0M490.6 525.1h0M496.4 514.3h0M490.3 522.4h0M492.2 523.3h0M492.3 528.7h0M487.2 521.5h0M496.0 526.0h0M486.7 521.5h0M490.6 520.6h0M486.5 517.0h0M487.2 528.7h0M486.9 523.3h0M491.3 531.4h0M491.7 523.3h0M489.7 515.2h0M496.6 528.7h0M496.8 521.5h0M486.5 522.4h0M495.9 522.4h0M499.7 518.8h0M496.9 514.3h0M492.5 509.8h0M492.7 517.9h0M494.4 529.6h0M494.3 526.9h0M489.4 517.9h0M483.3 521.5h0M496.2 527.8h0M500.7 520.6h0M485.1 520.6h0M493.6 509.8h0M484.7 517.9h0M501.3 519.7h0M490.3 518.8h0M499.1 521.5h0M493.5 508.9h0M491.4 509.8h0M491.7 517.9h0M487.2 515.2h0M494.9 511.6h0M494.5 527.8h0M487.3 529.6h0M491.9 525.1h0M491.7 522.4h0M484.5 521.5h0M494.5 526.0h0M489.8 525.1h0M503.6 520.6h0M495.4 520.6h0M491.9 529.6h0M498.5 517.0h0M493.2 531.4h0M491.3 510.7h0M491.0 514.3h0M493.5 532.3h0M497.5 519.7h0M491.3 520.6h0M494.7 531.4h0M487.0 525.1h0M498.9 519.7h0M489.5 517.0h0M501.1 520.6h0M499.6 521.5h0M485.7 525.1h0M492.2 531.4h0M489.8 514.3h0M493.2 519.7h0M491.0 523.3h0M493.6 523.3h0M491.4 531.4h0M499.9 526.0h0M485.8 521.5h0M496.8 526.0h0M492.2 510.7h0M493.0 526.9h0M488.4 515.2h0M487.4 520.6h0M490.6 526.0h0M497.1 523.3h0M498.3 519.7h0M490.4 524.2h0M499.0 523.3h0M489.6 524.2h0M486.6 526.0h0M497.5 526.0h0M485.7 524.2h0M485.8 526.0h0M495.6 523.3h0M493.9 524.2h0M489.0 514.3h0M491.9 518.8h0M500.3 519.7h0M497.4 524.2h0M497.3 514.3h0M494.8 528.7h0M498.9 526.0h0M492.7 532.3h0M492.3 524.2h0M491.1 512.5h0M498.4 514.3h0M494.7 510.7h0M497.2 522.4h0M494.2 511.6h0M488.7 518.8h0M496.7 525.1h0M500.3 522.4h0M496.1 512.5h0M498.6 521.5h0M493.9 517.9h0M486.0 519.7h0M492.1 521.5h0M496.0 521.5h0M494.8 512.5h0M493.9 530.5h0M494.2 517.0h0M495.5 525.1h0M495.4 511.6h0M482.7 521.5h0M486.3 517.0h0M496.8 517.0h0M498.2 517.9h0M490.7 522.4h0M498.5 525.1h0M484.5 519.7h0M499.2 516.1h0M491.6 513.4h0M485.9 518.8h0" stroke="#ff0051"/><path d="M561.7 70.8h0M556.6 74.4h0M591.6 73.5h0M598.9 72.6h0M550.2 70.8h0M598.0 73.5h0M571.7 73.5h0M553.6 75.3h0M534.7 72.6h0M562.6 73.5h0M583.4 73.5h0M593.7 73.5h0M559.2 75.3h0M554.6 71.7h0M557.0 74.4h0M561.2 74.4h0M560.7 73.5h0M551.7 74.4h0M547.2 75.3h0M561.1 70.8h0M530.9 73.5h0M552.6 74.4h0M635.7 73.5h0M545.5 71.7h0M551.2 73.5h0M569.8 73.5h0M621.7 73.5h0M537.1 73.5h0M551.5 71.7h0M581.9 114.5h0M593.4 114.5h0M544.2 114.5h0M625.7 114.5h0M572.3 113.6h0M577.1 114.5h0M589.0 114.5h0M557.1 114.5h0M539.1 115.4h0M571.7 114.5h0M559.3 115.4h0M636.0 114.5h0M604.3 154.5h0M568.7 153.6h0M595.5 153.6h0M575.8 153.6h0M593.9 154.5h0M541.5 154.5h0M558.7 153.6h0M560.1 153.6h0M551.5 154.5h0M543.5 154.5h0M545.8 153.6h0M624.0 154.5h0M540.2 153.6h0M549.5 153.6h0M579.8 154.5h0M572.8 155.4h0M531.7 154.5h0M587.3 154.5h0M572.0 153.6h0M539.9 152.7h0M547.7 155.4h0M560.3 152.7h0M565.2 155.4h0M440.6 199.1h0M453.9 194.6h0M442.3 200.0h0M413.4 194.6h0M441.6 191.9h0M429.5 199.1h0M391.3 195.5h0M447.6 194.6h0M428.9 195.5h0M444.6 195.5h0M442.8 189.2h0M415.9 194.6h0M419.9 196.4h0M437.1 195.5h0M443.9 192.8h0M397.0 195.5h0M432.8 195.5h0M431.5 200.0h0M429.5 194.6h0M436.3 197.3h0M431.4 196.4h0M439.9 186.5h0M415.6 197.3h0M469.5 239.2h0M468.0 241.0h0M476.2 230.2h0M463.7 244.6h0M458.6 235.6h0M467.2 233.8h0M461.6 249.1h0M472.3 238.3h0M472.4 236.5h0M458.5 225.7h0M460.1 224.8h0M466.3 248.2h0M467.1 232.9h0M475.2 247.3h0M467.7 243.7h0M451.6 234.7h0M464.2 239.2h0M463.9 234.7h0M472.8 232.0h0M481.1 241.0h0M461.6 238.3h0M461.8 232.0h0M458.6 242.8h0M473.6 226.6h0M458.2 224.8h0M453.3 239.2h0M463.7 234.7h0M463.9 248.2h0M458.6 240.1h0M462.8 243.7h0M457.4 241.9h0M446.7 232.9h0M465.8 225.7h0M460.7 233.8h0M467.2 246.4h0M463.2 238.3h0M466.7 249.1h0M448.5 232.9h0M467.2 239.2h0M458.6 230.2h0M449.9 239.2h0M467.5 227.5h0M522.8 278.4h0M575.7 275.7h0M575.6 277.5h0M519.3 279.3h0M589.4 276.6h0M554.0 277.5h0M540.7 278.4h0M553.4 278.4h0M566.6 277.5h0M555.5 276.6h0M544.8 275.7h0M545.3 276.6h0M528.0 278.4h0M548.8 277.5h0M562.8 277.5h0M592.1 277.5h0M552.5 277.5h0M516.9 277.5h0M573.2 277.5h0M526.3 277.5h0M557.3 275.7h0M576.1 276.6h0M524.6 277.5h0M584.8 277.5h0M538.8 277.5h0M520.0 275.7h0M535.6 277.5h0M575.8 276.6h0M602.0 277.5h0M586.7 276.6h0M532.5 278.4h0M526.9 276.6h0M565.4 316.6h0M545.8 316.6h0M540.8 316.6h0M525.5 315.7h0M527.6 316.6h0M539.9 319.3h0M527.4 321.1h0M549.9 315.7h0M509.7 322.9h0M616.3 317.5h0M525.6 316.6h0M517.4 318.4h0M478.5 356.7h0M476.5 352.2h0M466.1 366.6h0M454.6 357.6h0M474.6 354.0h0M470.8 352.2h0M469.7 350.4h0M487.6 354.0h0M456.1 357.6h0M466.8 358.5h0M470.6 346.8h0M479.6 365.7h0M483.9 359.4h0M482.4 362.1h0M470.2 351.3h0M471.0 366.6h0M479.2 355.8h0M470.4 358.5h0M466.9 367.5h0M482.0 364.8h0M472.9 351.3h0M469.3 351.3h0M468.0 356.7h0M474.0 362.1h0M482.2 360.3h0M474.2 364.8h0M465.7 361.2h0M467.8 350.4h0M462.7 363.9h0M469.3 362.1h0M539.2 398.6h0M526.3 397.7h0M519.9 400.4h0M512.9 395.9h0M574.5 399.5h0M533.1 398.6h0M507.2 397.7h0M478.2 450.4h0M486.0 440.5h0M471.2 432.4h0M479.2 433.3h0M469.3 451.3h0M468.8 452.2h0M474.1 434.2h0M473.5 428.8h0M476.0 436.0h0M472.3 451.3h0M469.1 439.6h0M484.8 437.8h0M474.4 444.1h0M469.1 438.7h0M487.5 439.6h0M483.8 439.6h0M465.9 438.7h0M478.8 431.5h0M456.3 440.5h0M481.8 438.7h0M475.2 445.0h0M461.9 438.7h0M467.8 438.7h0M464.0 443.2h0M469.2 442.3h0M460.9 487.7h0M474.6 489.5h0M457.9 481.4h0M470.7 475.1h0M461.4 489.5h0M460.9 478.7h0M462.0 477.8h0M470.7 486.8h0M461.4 483.2h0M474.5 468.8h0M466.7 488.6h0M474.0 486.8h0M471.3 483.2h0M469.2 482.3h0M471.5 479.6h0M468.0 476.9h0M466.8 485.9h0M468.5 487.7h0M458.3 478.7h0M469.8 476.9h0M461.6 481.4h0M473.7 479.6h0M467.1 467.9h0M476.3 471.5h0M460.6 483.2h0M478.4 472.4h0M461.2 476.9h0M464.9 472.4h0M460.1 475.1h0M469.3 484.1h0M476.1 470.6h0M446.7 520.6h0M446.5 521.5h0M435.4 521.5h0M442.3 522.4h0M439.1 520.6h0M443.3 520.6h0M471.1 518.8h0M458.1 519.7h0M470.3 519.7h0" stroke="#008bfb"/><path d="M560.5 71.7h0M589.6 73.5h0M584.9 72.6h0M558.6 75.3h0M559.9 72.6h0M556.0 75.3h0M560.6 114.5h0M598.0 114.5h0M603.0 114.5h0M608.2 114.5h0M548.5 114.5h0M541.4 114.5h0M594.3 154.5h0M599.0 154.5h0M572.7 152.7h0M524.1 153.6h0M533.0 154.5h0M552.6 152.7h0M431.9 195.5h0M442.4 191.9h0M440.6 200.9h0M442.6 185.6h0M448.2 189.2h0M423.5 194.6h0M414.2 196.4h0M439.8 191.9h0M436.7 201.8h0M429.5 191.0h0M455.2 188.3h0M428.1 192.8h0M415.3 194.6h0M429.2 191.9h0M445.0 203.6h0M469.4 226.6h0M457.6 244.6h0M465.1 241.9h0M481.8 235.6h0M456.9 237.4h0M468.2 235.6h0M456.4 243.7h0M446.2 233.8h0M462.7 233.8h0M466.2 231.1h0M472.1 235.6h0M469.8 236.5h0M465.2 231.1h0M461.2 230.2h0M464.6 232.0h0M463.2 231.1h0M457.5 242.8h0M442.2 234.7h0M462.8 232.0h0M456.5 239.2h0M471.6 231.1h0M474.3 228.4h0M467.0 241.9h0M459.5 243.7h0M467.8 231.1h0M538.2 276.6h0M556.5 278.4h0M551.4 278.4h0M549.1 276.6h0M560.6 275.7h0M544.2 276.6h0M541.7 278.4h0M541.8 277.5h0M582.9 276.6h0M540.3 275.7h0M557.9 275.7h0M533.1 313.9h0M566.6 317.5h0M528.5 318.4h0M542.4 315.7h0M538.2 317.5h0M477.8 357.6h0M481.8 356.7h0M476.1 354.9h0M473.6 356.7h0M487.3 356.7h0M467.3 350.4h0M486.8 360.3h0M478.4 354.9h0M473.5 366.6h0M484.0 358.5h0M470.0 353.1h0M478.2 350.4h0M470.4 369.3h0M470.7 349.5h0M479.8 354.0h0M479.6 357.6h0M465.7 360.3h0M474.0 361.2h0M454.9 361.2h0M466.7 359.4h0M471.2 347.7h0M519.3 399.5h0M509.0 398.6h0M524.4 396.8h0M514.3 399.5h0M511.5 400.4h0M536.9 398.6h0M508.2 396.8h0M513.8 397.7h0M547.3 399.5h0M527.7 396.8h0M470.9 444.1h0M476.3 445.9h0M461.5 440.5h0M474.0 427.9h0M476.5 428.8h0M478.1 443.2h0M473.9 452.2h0M469.0 429.7h0M488.7 440.5h0M478.3 440.5h0M490.8 440.5h0M471.2 436.9h0M472.1 449.5h0M472.0 445.9h0M473.3 431.5h0M469.9 443.2h0M462.8 437.8h0M492.2 441.4h0M464.4 441.4h0M474.9 446.8h0M469.3 432.4h0M464.7 486.8h0M459.6 484.1h0M464.9 484.1h0M470.6 484.1h0M461.0 486.8h0M475.0 474.2h0M476.1 474.2h0M474.8 484.1h0M473.2 484.1h0M462.3 470.6h0M472.7 485.0h0M472.6 487.7h0M465.8 478.7h0M477.6 493.1h0M465.3 469.7h0M472.5 473.3h0M475.3 482.3h0M475.6 468.8h0M463.3 482.3h0M472.6 478.7h0M462.5 484.1h0M462.2 476.0h0M466.0 471.5h0M475.1 488.6h0M472.9 481.4h0M475.9 476.0h0M464.6 474.2h0M461.1 484.1h0M466.4 476.0h0M465.6 478.7h0M475.8 488.6h0M467.3 471.5h0M476.6 479.6h0M470.1 482.3h0M449.2 522.4h0M446.1 521.5h0M433.2 521.5h0M439.8 521.5h0M452.6 522.4h0M433.7 521.5h0" stroke="#0088fa"/><path d="M549.3 72.6h0M563.7 75.3h0M558.4 72.6h0M595.1 73.5h0M540.3 72.6h0M534.4 114.5h0M553.8 114.5h0M543.5 155.4h0M536.7 155.4h0M556.5 154.5h0M608.9 154.5h0M567.2 154.5h0M555.5 153.6h0M433.3 193.7h0M444.0 202.7h0M451.0 191.9h0M434.7 198.2h0M432.3 191.9h0M439.3 189.2h0M446.5 193.7h0M446.6 197.3h0M450.4 201.8h0M439.9 200.9h0M437.2 198.2h0M432.0 199.1h0M426.1 194.6h0M466.2 223.0h0M473.6 245.5h0M480.1 237.4h0M490.1 234.7h0M459.4 232.9h0M463.8 240.1h0M471.4 224.8h0M470.7 248.2h0M438.1 236.5h0M473.3 225.7h0M456.1 232.0h0M445.9 240.1h0M469.4 236.5h0M450.6 233.8h0M458.8 226.6h0M440.7 235.6h0M462.6 226.6h0M456.8 236.5h0M469.7 249.1h0M472.2 232.9h0M459.8 232.0h0M469.4 225.7h0M476.0 244.6h0M439.5 238.3h0M479.6 234.7h0M471.3 241.9h0M469.6 234.7h0M466.6 244.6h0M448.8 240.1h0M453.4 232.9h0M466.6 242.8h0M468.3 232.0h0M460.3 239.2h0M451.6 232.0h0M431.9 235.6h0M474.3 243.7h0M450.2 241.9h0M514.1 277.5h0M579.4 277.5h0M562.1 316.6h0M533.6 317.5h0M511.5 318.4h0M554.1 317.5h0M540.0 317.5h0M525.0 315.7h0M530.1 313.9h0M562.8 317.5h0M504.8 310.3h0M516.1 323.8h0M528.9 320.2h0M529.7 314.8h0M535.3 319.3h0M457.7 359.4h0M463.8 363.0h0M459.3 359.4h0M468.7 358.5h0M467.5 363.0h0M458.1 357.6h0M481.8 359.4h0M481.2 361.2h0M471.9 367.5h0M465.1 363.9h0M474.7 348.6h0M482.5 354.0h0M461.1 358.5h0M477.4 363.0h0M471.9 359.4h0M468.6 369.3h0M471.7 349.5h0M474.1 358.5h0M459.1 356.7h0M464.9 357.6h0M467.1 352.2h0M477.7 364.8h0M472.7 357.6h0M453.5 360.3h0M535.4 399.5h0M509.4 397.7h0M542.8 398.6h0M498.7 394.1h0M533.9 400.4h0M528.2 400.4h0M510.8 403.1h0M507.1 404.0h0M520.5 399.5h0M469.7 445.9h0M489.3 439.6h0M470.9 435.1h0M471.5 447.7h0M466.4 436.0h0M456.2 439.6h0M483.7 440.5h0M479.0 445.9h0M465.1 445.0h0M486.3 439.6h0M476.9 443.2h0M475.3 434.2h0M469.8 441.4h0M473.7 440.5h0M465.0 436.0h0M470.9 446.8h0M475.1 437.8h0M465.1 470.6h0M469.2 485.9h0M466.5 489.5h0M464.4 487.7h0M463.2 478.7h0M478.8 475.1h0M472.5 476.0h0M462.1 474.2h0M467.4 467.0h0M464.1 474.2h0M459.0 476.0h0M474.2 487.7h0M474.7 481.4h0M477.5 477.8h0M479.7 478.7h0M466.6 483.2h0M473.5 476.0h0M476.3 489.5h0M470.3 477.8h0M476.7 476.0h0M463.9 477.8h0M475.4 471.5h0M461.9 484.1h0M477.2 478.7h0M476.5 492.2h0M476.5 485.9h0M456.4 480.5h0M469.6 486.8h0M470.2 476.0h0M465.7 493.1h0M459.5 482.3h0M477.5 489.5h0M467.4 468.8h0M438.3 521.5h0M446.1 519.7h0M451.6 520.6h0M441.1 521.5h0M470.2 521.5h0M464.6 523.3h0M443.7 522.4h0M471.1 522.4h0" stroke="#0085f9"/><path d="M546.6 156.3h0M556.0 152.7h0M443.6 200.9h0M446.7 195.5h0M439.3 200.0h0M433.7 200.0h0M431.1 200.9h0M441.5 192.8h0M431.9 190.1h0M447.3 188.3h0M442.2 191.0h0M471.8 242.8h0M460.3 223.0h0M468.7 246.4h0M463.7 245.5h0M456.1 242.8h0M462.0 246.4h0M458.6 241.0h0M472.6 241.9h0M460.3 246.4h0M473.3 239.2h0M486.4 232.9h0M461.4 248.2h0M470.9 226.6h0M448.0 234.7h0M473.8 244.6h0M474.8 233.8h0M456.6 231.1h0M468.9 227.5h0M526.5 314.8h0M525.2 321.1h0M528.8 313.9h0M548.1 318.4h0M550.4 316.6h0M528.3 315.7h0M461.4 354.0h0M478.3 354.0h0M469.3 363.9h0M471.0 354.0h0M454.9 359.4h0M470.1 365.7h0M480.5 353.1h0M483.4 354.9h0M476.5 351.3h0M480.4 352.2h0M486.4 361.2h0M480.7 363.9h0M462.3 361.2h0M468.4 348.6h0M521.7 400.4h0M503.0 392.3h0M518.2 400.4h0M515.3 396.8h0M501.8 398.6h0M504.3 402.2h0M541.4 400.4h0M530.8 398.6h0M475.6 436.9h0M475.8 445.0h0M462.1 444.1h0M469.5 428.8h0M474.4 430.6h0M479.1 436.9h0M464.9 477.8h0M468.2 482.3h0M482.7 483.2h0M462.9 476.0h0M484.7 478.7h0M469.3 485.0h0M476.0 469.7h0M466.5 470.6h0M462.6 483.2h0M467.6 489.5h0M467.8 485.0h0M468.7 473.3h0M466.8 480.5h0M470.9 474.2h0M466.1 473.3h0M476.8 480.5h0M469.4 487.7h0M461.6 485.0h0M475.2 469.7h0M472.4 474.2h0M455.1 522.4h0M434.5 521.5h0M436.0 521.5h0M447.0 519.7h0M467.3 526.0h0M456.0 520.6h0" stroke="#0082f8"/><path d="M586.3 113.6h0M446.6 187.4h0M447.5 202.7h0M438.6 197.3h0M436.8 185.6h0M439.3 193.7h0M469.9 231.1h0M463.0 225.7h0M470.3 232.0h0M475.7 231.1h0M474.8 246.4h0M474.1 230.2h0M478.7 240.1h0M458.3 241.9h0M452.0 240.1h0M483.1 236.5h0M470.7 245.5h0M471.0 228.4h0M462.2 223.9h0M517.4 315.7h0M527.0 317.5h0M533.8 316.6h0M524.4 318.4h0M480.6 354.9h0M478.4 363.9h0M464.5 353.1h0M472.2 350.4h0M469.5 370.2h0M481.6 363.0h0M465.5 354.0h0M478.3 358.5h0M468.2 368.4h0M532.3 398.6h0M519.5 401.3h0M528.0 397.7h0M516.7 399.5h0M513.0 396.8h0M522.3 398.6h0M512.3 399.5h0M477.0 475.1h0M479.9 477.8h0M480.0 480.5h0M478.7 487.7h0M479.9 476.9h0M477.2 491.3h0M477.6 485.0h0M480.2 483.2h0M464.2 482.3h0M458.2 479.6h0M475.4 475.1h0M484.4 476.0h0M477.8 482.3h0M448.6 521.5h0M466.4 527.8h0M461.4 516.1h0M458.6 525.1h0M441.3 520.6h0" stroke="#007ff6"/><path d="M445.7 190.1h0M456.1 204.5h0M451.4 198.2h0M445.7 191.9h0M439.5 191.0h0M451.9 201.8h0M441.3 198.2h0M452.1 193.7h0M477.8 244.6h0M461.2 237.4h0M457.2 235.6h0M461.5 235.6h0M475.5 243.7h0M481.9 233.8h0M471.7 239.2h0M466.2 241.0h0M482.3 236.5h0M466.7 245.5h0M480.3 232.9h0M506.9 322.9h0M513.0 317.5h0M527.5 313.0h0M480.1 351.3h0M487.5 357.6h0M482.3 357.6h0M511.8 401.3h0M502.9 397.7h0M506.1 402.2h0M478.9 449.5h0M478.1 485.0h0M473.9 473.3h0M460.1 525.1h0M442.9 521.5h0M453.0 523.3h0M465.8 524.2h0M464.3 518.8h0M461.6 514.3h0" stroke="#007bf5"/><path d="M453.7 191.9h0M452.5 200.0h0M455.7 192.8h0M442.6 205.4h0M455.1 195.5h0M456.9 198.2h0M444.5 197.3h0M477.4 241.9h0M483.7 235.6h0M479.7 238.3h0M474.0 240.1h0M467.2 226.6h0M475.6 236.5h0M517.4 322.0h0M522.8 320.2h0M518.3 319.3h0M507.9 401.3h0M524.0 396.8h0M504.4 405.8h0M506.1 401.3h0M516.8 398.6h0M506.5 399.5h0M526.8 396.8h0M502.3 402.2h0M502.4 394.1h0M479.7 479.6h0M478.0 478.7h0M474.6 478.7h0M478.6 479.6h0M484.1 476.9h0M461.8 517.9h0M460.8 525.1h0M474.8 520.6h0M471.6 524.2h0M457.8 520.6h0M456.7 520.6h0M467.2 521.5h0M449.3 518.8h0M462.9 524.2h0M462.8 517.0h0M467.5 512.5h0M462.3 525.1h0" stroke="#0078f3"/><path d="M446.7 186.5h0M463.1 187.4h0M450.2 189.2h0M473.4 227.5h0M505.4 310.3h0M504.3 404.9h0M494.6 391.4h0M504.1 441.4h0M501.1 439.6h0M461.5 515.2h0M475.0 526.0h0M460.9 517.9h0M451.4 524.2h0M473.6 523.3h0M459.5 519.7h0M461.7 521.5h0M442.0 521.5h0M462.2 520.6h0M456.6 519.7h0M468.5 521.5h0M449.4 521.5h0" stroke="#0075f0"/><path d="M459.9 203.6h0M451.1 190.1h0M448.3 191.9h0M467.9 194.6h0M462.6 200.0h0M484.1 239.2h0M488.5 233.8h0M477.1 229.3h0M499.9 308.5h0M509.7 314.8h0M511.4 319.3h0M489.0 359.4h0M504.0 395.0h0M501.9 404.0h0M509.3 395.9h0M505.0 395.9h0M498.7 395.0h0M504.7 439.6h0M485.8 483.2h0M479.1 484.1h0M483.3 479.6h0M488.2 482.3h0M483.9 477.8h0M481.4 476.0h0M472.2 512.5h0M465.5 520.6h0M472.1 527.8h0M475.9 525.1h0M464.1 520.6h0M466.8 521.5h0M466.8 530.5h0M454.5 520.6h0" stroke="#0071ee"/><path d="M454.0 192.8h0M464.7 196.4h0M458.7 200.9h0M460.2 186.5h0M462.1 199.1h0M466.0 206.3h0M489.1 238.3h0M478.0 229.3h0M482.8 230.2h0M482.2 243.7h0M489.2 239.2h0M502.3 314.8h0M510.3 321.1h0M510.9 315.7h0M507.0 317.5h0M498.4 356.7h0M500.4 392.3h0M510.6 397.7h0M503.4 401.3h0M494.8 404.0h0M479.7 481.4h0M492.3 473.3h0M484.1 485.0h0M473.2 521.5h0M467.3 515.2h0M461.2 526.0h0M471.7 527.8h0M468.9 520.6h0M462.4 524.2h0M459.5 520.6h0M455.1 520.6h0M466.8 513.4h0M461.3 521.5h0M453.0 521.5h0M470.3 517.0h0" stroke="#176eeb"/><path d="M461.7 201.8h0M450.7 195.5h0M449.6 197.3h0M449.4 198.2h0M477.6 227.5h0M490.6 236.5h0M479.5 236.5h0M489.9 241.0h0M481.0 229.3h0M512.3 322.9h0M518.7 321.1h0M516.5 314.8h0M505.3 324.7h0M499.7 405.8h0M506.4 395.0h0M497.7 407.6h0M504.9 398.6h0M487.1 482.3h0M490.8 478.7h0M489.9 478.7h0M486.5 482.3h0M462.1 517.9h0M475.7 524.2h0M471.4 514.3h0M466.1 518.8h0M471.4 526.0h0M461.6 526.0h0M450.5 521.5h0M470.7 520.6h0M458.9 523.3h0M466.5 518.8h0" stroke="#316ae9"/><path d="M465.5 197.3h0M460.6 183.8h0M475.1 191.0h0M458.6 189.2h0M452.1 189.2h0M474.6 198.2h0M479.4 230.2h0M480.4 240.1h0M520.0 320.2h0M504.0 317.5h0M495.2 314.8h0M504.3 324.7h0M501.7 320.2h0M512.1 322.0h0M491.2 357.6h0M494.5 405.8h0M501.0 393.2h0M503.5 399.5h0M497.2 397.7h0M495.6 401.3h0M484.5 484.1h0M484.4 482.3h0M482.9 482.3h0M481.9 481.4h0M487.5 478.7h0M481.2 484.1h0M488.8 476.9h0M469.9 519.7h0M472.1 516.1h0M470.7 521.5h0M461.4 513.4h0M467.4 514.3h0M472.6 517.9h0M464.9 518.8h0M456.3 522.4h0M467.6 511.6h0" stroke="#4166e5"/><path d="M465.4 205.4h0M466.6 185.6h0M455.9 189.2h0M463.8 202.7h0M457.4 201.8h0M452.4 198.2h0M452.8 196.4h0M457.8 194.6h0M462.4 195.5h0M488.8 232.0h0M481.6 241.9h0M486.3 239.2h0M497.1 325.6h0M486.5 322.9h0M517.5 313.0h0M501.0 313.0h0M492.5 392.3h0M507.4 439.6h0M483.3 476.0h0M483.8 478.7h0M486.6 476.9h0M496.8 483.2h0M483.4 483.2h0M489.2 475.1h0M485.7 481.4h0M475.2 524.2h0M461.8 527.8h0M474.2 516.1h0M469.3 526.0h0M471.4 525.1h0M476.2 518.8h0" stroke="#4e62e2"/><path d="M464.9 189.2h0M467.9 193.7h0M464.3 187.4h0M461.7 203.6h0M460.2 190.1h0M486.5 234.7h0M502.0 312.1h0M487.2 310.3h0M503.8 318.4h0M512.7 312.1h0M514.6 317.5h0M498.8 392.3h0M495.3 409.4h0M501.5 406.7h0M509.6 400.4h0M510.9 441.4h0M493.8 485.0h0M483.2 480.5h0M487.7 485.0h0M482.3 475.1h0M494.5 485.0h0M467.5 523.3h0M473.9 525.1h0M474.0 524.2h0M473.5 519.7h0M457.7 523.3h0M481.7 521.5h0M472.1 513.4h0M471.8 521.5h0M477.4 520.6h0M462.9 520.6h0M470.3 524.2h0M463.6 523.3h0M457.6 523.3h0M461.1 519.7h0M472.4 517.0h0" stroke="#585edf"/><path d="M464.9 190.1h0M487.4 232.0h0M516.1 318.4h0M494.4 311.2h0M502.1 315.7h0M499.5 326.5h0M512.5 321.1h0M513.6 310.3h0M494.0 309.4h0M496.3 408.5h0M495.4 398.6h0M497.5 404.9h0M498.0 390.5h0M497.7 389.6h0M497.8 395.9h0M482.8 401.3h0M486.2 399.5h0M510.5 398.6h0M510.7 439.6h0M493.5 477.8h0M489.5 486.8h0M490.0 480.5h0M490.2 477.8h0M489.4 484.1h0M496.4 482.3h0M488.2 479.6h0M485.5 480.5h0M480.9 521.5h0M474.3 521.5h0M474.5 519.7h0M477.7 522.4h0M474.8 522.4h0M471.9 526.9h0M466.6 524.2h0M477.5 521.5h0" stroke="#625adb"/><path d="M465.6 194.6h0M463.2 198.2h0M463.7 200.9h0M450.3 193.7h0M475.1 191.9h0M470.4 193.7h0M465.9 201.8h0M457.4 187.4h0M464.2 200.0h0M474.8 199.1h0M466.4 202.7h0M469.0 188.3h0M501.2 317.5h0M504.8 311.2h0M494.9 330.1h0M497.3 313.9h0M501.0 322.0h0M494.8 359.4h0M505.6 403.1h0M500.3 391.4h0M504.2 395.9h0M497.3 406.7h0M486.8 401.3h0M491.4 388.7h0M498.2 405.8h0M498.1 401.3h0M500.0 397.7h0M492.6 479.6h0M493.7 479.6h0M495.2 482.3h0M466.1 517.9h0M458.5 517.9h0M469.2 524.2h0M476.3 517.0h0M464.7 521.5h0M474.6 517.9h0M471.4 520.6h0M471.9 522.4h0" stroke="#6a55d7"/><path d="M465.0 183.8h0M462.2 184.7h0M458.0 196.4h0M488.2 239.2h0M503.7 316.6h0M503.4 315.7h0M496.2 313.0h0M496.2 325.6h0M499.2 315.7h0M504.0 313.9h0M502.9 308.5h0M506.2 322.0h0M495.4 357.6h0M501.7 392.3h0M507.4 393.2h0M486.9 392.3h0M490.6 404.9h0M491.6 480.5h0M495.5 475.1h0M492.4 477.8h0M494.4 474.2h0M462.4 516.1h0M480.5 517.0h0M465.3 521.5h0M467.3 530.5h0M472.2 524.2h0M459.0 522.4h0M475.5 520.6h0M473.5 517.9h0" stroke="#7251d3"/><path d="M465.4 204.5h0M459.5 191.0h0M462.0 197.3h0M454.8 198.2h0M462.8 192.8h0M463.3 185.6h0M494.7 304.9h0M496.3 329.2h0M500.0 317.5h0M506.5 313.0h0M494.6 317.5h0M494.2 320.2h0M497.4 313.0h0M490.3 394.1h0M497.3 391.4h0M496.2 389.6h0M493.5 407.6h0M505.0 404.9h0M496.2 400.4h0M491.1 407.6h0M499.5 403.1h0M503.3 476.9h0M505.3 481.4h0M493.5 476.9h0M487.8 473.3h0M463.7 524.2h0M463.3 526.0h0M477.0 519.7h0" stroke="#794cce"/><path d="M479.3 205.4h0M475.6 202.7h0M478.4 186.5h0M464.9 199.1h0M490.5 234.7h0M504.0 314.8h0M489.7 315.7h0M496.3 306.7h0M494.5 316.6h0M495.4 313.9h0M497.7 304.9h0M505.3 311.2h0M495.0 307.6h0M486.5 408.5h0M495.6 395.0h0M484.3 395.0h0M496.2 391.4h0M502.7 399.5h0M488.7 408.5h0M491.0 400.4h0M500.6 404.9h0M486.5 404.0h0M491.5 397.7h0M487.9 483.2h0M492.3 476.0h0M488.7 475.1h0M490.8 475.1h0M491.1 476.9h0M493.1 474.2h0M500.8 481.4h0M498.4 483.2h0M489.9 474.2h0M471.8 529.6h0M470.6 526.0h0M468.1 519.7h0M459.9 521.5h0M476.8 518.8h0M479.6 521.5h0M479.8 523.3h0" stroke="#7f47ca"/><path d="M479.6 185.6h0M460.4 205.4h0M463.7 185.6h0M459.5 184.7h0M476.5 187.4h0M482.6 197.3h0M476.9 200.0h0M483.3 188.3h0M468.6 201.8h0M468.2 192.8h0M480.2 182.0h0M467.6 203.6h0M467.1 191.9h0M478.2 208.1h0M489.2 313.9h0M488.2 324.7h0M490.9 316.6h0M482.4 397.7h0M478.6 396.8h0M482.9 398.6h0M485.0 397.7h0M487.7 391.4h0M493.2 401.3h0M491.9 395.9h0M519.5 439.6h0M529.8 439.6h0M498.5 477.8h0M490.8 482.3h0M479.9 520.6h0M469.6 516.1h0M478.5 521.5h0" stroke="#8542c5"/><path d="M470.5 192.8h0M467.7 191.0h0M486.6 197.3h0M477.0 201.8h0M477.4 185.6h0M482.1 194.6h0M464.9 197.3h0M477.3 203.6h0M471.9 194.6h0M480.0 184.7h0M494.7 235.6h0M495.3 322.0h0M484.8 327.4h0M494.1 319.3h0M494.4 319.3h0M482.7 306.7h0M493.1 322.0h0M495.9 327.4h0M500.2 320.2h0M497.2 329.2h0M490.6 317.5h0M495.5 320.2h0M488.1 321.1h0M492.0 305.8h0M497.9 357.6h0M487.0 408.5h0M487.1 403.1h0M491.2 392.3h0M482.4 394.1h0M489.9 405.8h0M495.8 394.1h0M493.8 402.2h0M486.0 404.0h0M521.1 439.6h0M512.7 440.5h0M507.1 477.8h0M504.3 477.8h0M482.2 479.6h0M502.8 479.6h0M474.9 516.1h0M471.0 525.1h0" stroke="#8b3cc0"/><path d="M488.8 189.2h0M482.7 206.3h0M482.6 187.4h0M490.7 198.2h0M481.3 208.1h0M482.9 207.2h0M497.6 236.5h0M499.0 323.8h0M496.5 324.7h0M487.5 322.0h0M487.2 309.4h0M491.7 310.3h0M499.0 327.4h0M494.4 308.5h0M487.8 316.6h0M490.4 307.6h0M503.3 308.5h0M499.0 358.5h0M490.9 397.7h0M492.0 399.5h0M485.7 396.8h0M490.3 395.9h0M479.7 408.5h0M494.8 390.5h0M492.4 396.8h0M482.3 403.1h0M480.8 394.1h0M495.1 386.0h0M541.2 441.4h0M506.5 479.6h0M516.7 480.5h0M471.5 517.9h0M480.0 519.7h0M477.0 521.5h0M475.7 519.7h0M459.0 518.8h0" stroke="#9036bb"/><path d="M478.6 190.1h0M466.2 192.8h0M482.3 190.1h0M478.0 191.0h0M480.0 198.2h0M490.4 191.9h0M478.8 206.3h0M478.8 189.2h0M489.2 307.6h0M489.8 312.1h0M492.7 306.7h0M492.7 322.9h0M487.5 318.4h0M480.3 403.1h0M476.9 403.1h0M489.6 409.4h0M485.6 400.4h0M489.6 404.0h0M521.5 440.5h0M529.3 440.5h0M497.1 482.3h0M495.6 485.9h0M515.2 476.0h0M507.1 482.3h0M477.0 524.2h0M476.6 520.6h0M471.5 523.3h0" stroke="#942fb5"/><path d="M474.6 202.7h0M489.2 188.3h0M480.5 188.3h0M485.0 188.3h0M484.2 185.6h0M480.6 184.7h0M476.1 204.5h0M489.9 195.5h0M485.2 202.7h0M477.5 191.9h0M481.0 193.7h0M486.2 194.6h0M466.6 198.2h0M489.4 200.9h0M466.0 184.7h0M479.1 322.9h0M492.9 314.8h0M490.4 312.1h0M492.0 326.5h0M484.6 325.6h0M498.6 308.5h0M501.4 358.5h0M488.0 400.4h0M485.8 409.4h0M480.0 401.3h0M476.8 407.6h0M481.8 396.8h0M482.3 389.6h0M489.3 394.1h0M472.8 394.1h0M480.1 390.5h0M484.8 407.6h0M479.3 406.7h0M491.7 408.5h0M533.2 441.4h0M511.3 477.8h0M496.9 481.4h0M506.2 484.1h0M492.7 475.1h0M501.1 477.8h0M504.5 483.2h0M472.7 520.6h0" stroke="#9927b0"/><path d="M478.2 206.3h0M484.2 200.9h0M487.2 187.4h0M492.6 187.4h0M490.9 189.2h0M483.6 200.0h0M491.9 190.1h0M487.2 204.5h0M485.3 186.5h0M481.4 196.4h0M510.0 236.5h0M487.2 319.3h0M480.4 318.4h0M475.9 323.8h0M485.2 310.3h0M482.2 307.6h0M489.9 321.1h0M485.0 321.1h0M479.6 320.2h0M471.8 309.4h0M487.9 317.5h0M484.6 305.8h0M479.7 392.3h0M483.9 391.4h0M477.3 404.0h0M483.9 406.7h0M483.6 398.6h0M498.8 479.6h0M506.1 477.8h0M497.7 481.4h0M480.5 525.1h0" stroke="#9f20ac"/><path d="M474.2 191.9h0M489.6 197.3h0M480.7 198.2h0M488.1 185.6h0M481.3 201.8h0M491.4 183.8h0M484.8 201.8h0M487.4 207.2h0M489.2 203.6h0M477.1 207.2h0M491.2 192.8h0M483.0 203.6h0M479.6 196.4h0M490.0 318.4h0M489.2 328.3h0M483.2 316.6h0M506.0 315.7h0M479.8 319.3h0M493.9 308.5h0M496.7 319.3h0M484.9 318.4h0M498.2 397.7h0M477.8 397.7h0M475.7 404.0h0M491.4 408.5h0M482.2 405.8h0M495.2 403.1h0M537.9 439.6h0M504.1 481.4h0M501.5 479.6h0M473.3 523.3h0" stroke="#a61ba9"/><path d="M487.5 203.6h0M492.8 200.9h0M494.2 197.3h0M493.1 192.8h0M475.3 206.3h0M486.1 205.4h0M485.2 191.0h0M476.3 184.7h0M487.0 184.7h0M485.9 193.7h0M481.6 200.9h0M490.1 200.0h0M484.1 312.1h0M486.6 315.7h0M481.2 313.0h0M478.1 318.4h0M497.3 305.8h0M489.5 310.3h0M476.3 319.3h0M471.0 403.1h0M481.3 402.2h0M474.7 404.9h0M477.8 401.3h0M486.4 398.6h0M475.5 410.3h0M475.1 400.4h0M472.0 396.8h0M481.4 395.0h0M479.3 388.7h0M530.2 440.5h0M529.2 439.6h0M504.2 483.2h0M503.4 482.3h0" stroke="#ac14a6"/><path d="M474.4 193.7h0M489.3 191.0h0M481.7 191.9h0M491.9 188.3h0M474.3 187.4h0M485.5 187.4h0M492.3 191.9h0M489.3 232.9h0M482.2 320.2h0M473.6 325.6h0M478.2 321.1h0M504.3 357.6h0M501.2 357.6h0M484.8 396.8h0M488.6 398.6h0M487.0 404.9h0M471.1 405.8h0M477.1 399.5h0M495.8 412.1h0M475.6 405.8h0M506.0 480.5h0M494.4 475.1h0M503.4 478.7h0" stroke="#b30ba3"/><path d="M492.9 202.7h0M485.7 191.9h0M493.8 195.5h0M494.7 194.6h0M492.0 197.3h0M484.2 204.5h0M496.5 278.4h0M471.2 317.5h0M485.5 325.6h0M475.8 324.7h0M497.4 322.0h0M483.2 315.7h0M480.6 314.8h0M483.4 307.6h0M472.5 401.3h0M473.1 398.6h0M478.2 398.6h0M480.3 399.5h0M470.1 404.0h0M489.2 393.2h0M478.1 394.1h0M483.3 403.1h0M472.0 395.9h0M510.3 478.7h0M510.0 480.5h0M508.0 477.8h0" stroke="#b900a0"/><path d="M476.2 194.6h0M494.8 195.5h0M481.1 324.7h0M473.8 317.5h0M474.8 318.4h0M479.9 312.1h0M468.8 309.4h0M483.7 401.3h0M472.0 405.8h0M479.7 394.1h0M481.2 410.3h0M477.1 406.7h0M475.8 396.8h0M478.5 390.5h0M508.1 480.5h0" stroke="#bf009d"/><path d="M492.6 191.0h0M487.4 193.7h0M495.4 192.8h0M488.4 193.7h0M492.2 275.7h0M470.0 306.7h0M473.8 307.6h0M502.6 313.9h0M480.3 310.3h0M475.7 316.6h0M474.4 323.8h0M480.0 324.7h0M484.0 319.3h0M483.4 324.7h0M477.7 313.9h0M479.6 311.2h0M479.8 402.2h0M466.4 405.8h0M473.4 410.3h0M475.5 392.3h0M475.3 406.7h0M475.5 395.0h0M475.8 407.6h0M465.6 394.1h0M513.0 477.8h0M518.5 483.2h0M513.4 477.8h0" stroke="#c5009a"/><path d="M498.5 190.1h0M501.8 277.5h0M474.4 311.2h0M465.1 323.8h0M470.6 328.3h0M480.6 309.4h0M509.0 357.6h0M469.3 392.3h0M476.7 402.2h0M473.0 395.0h0M473.9 408.5h0M480.0 397.7h0M514.1 483.2h0M514.1 478.7h0M520.5 481.4h0M510.9 478.7h0" stroke="#cb0096"/><path d="M481.2 209.0h0M491.7 274.8h0M471.5 314.8h0M475.3 313.9h0M474.3 313.9h0M470.1 311.2h0M469.0 313.0h0M461.8 309.4h0M506.6 357.6h0M507.0 358.5h0M471.9 399.5h0M473.0 388.7h0M463.5 403.1h0M470.2 404.9h0M473.0 403.1h0M471.7 392.3h0M471.5 400.4h0M476.7 395.9h0M470.0 400.4h0M466.8 393.2h0M535.3 440.5h0M515.5 479.6h0M514.5 476.9h0M505.6 481.4h0" stroke="#d00092"/><path d="M488.7 72.6h0M499.8 195.5h0M498.2 191.9h0M499.0 196.4h0M482.5 273.9h0M465.3 322.0h0M462.8 318.4h0M457.7 313.9h0M477.3 310.3h0M475.5 314.8h0M471.2 306.7h0M464.5 309.4h0M472.6 402.2h0M466.0 395.9h0M470.0 403.1h0M462.5 398.6h0M476.5 404.9h0M462.4 400.4h0" stroke="#d5008f"/><path d="M498.3 201.8h0M499.9 186.5h0M489.2 275.7h0M455.1 317.5h0M477.6 324.7h0M483.1 327.4h0M465.3 313.9h0M465.9 315.7h0M471.5 310.3h0M461.1 312.1h0M461.8 317.5h0M453.4 317.5h0M472.1 307.6h0M458.9 316.6h0M466.2 309.4h0M467.4 318.4h0M472.4 322.0h0M540.2 358.5h0M522.4 357.6h0M471.9 404.9h0M471.9 407.6h0M473.5 406.7h0M471.6 396.8h0M510.8 481.4h0M513.8 480.5h0M515.7 480.5h0M514.2 478.7h0M516.1 481.4h0M523.2 480.5h0" stroke="#da008b"/><path d="M500.3 73.5h0M514.3 73.5h0M516.8 114.5h0M504.4 114.5h0M484.4 115.4h0M504.4 154.5h0M497.4 193.7h0M503.0 201.8h0M491.6 279.3h0M497.4 276.6h0M488.0 279.3h0M465.7 312.1h0M460.0 314.8h0M463.1 320.2h0M459.7 313.9h0M453.7 313.0h0M463.4 313.9h0M456.7 320.2h0M455.1 316.6h0M469.5 320.2h0M524.8 357.6h0M462.0 401.3h0M467.0 396.8h0M467.0 392.3h0M474.8 393.2h0M512.0 478.7h0" stroke="#de0087"/><path d="M491.3 113.6h0M499.2 189.2h0M504.5 191.9h0M484.6 275.7h0M492.9 278.4h0M493.6 279.3h0M489.7 277.5h0M469.1 307.6h0M476.7 320.2h0M444.7 314.8h0M478.7 319.3h0M462.6 321.1h0M462.8 322.9h0M450.5 316.6h0M461.2 319.3h0M464.0 317.5h0M545.9 358.5h0M530.2 357.6h0M466.2 399.5h0M466.1 404.9h0M457.6 400.4h0M463.6 396.8h0M457.6 397.7h0M467.0 405.8h0M473.4 389.6h0M456.3 403.1h0M522.8 480.5h0" stroke="#e30083"/><path d="M492.2 114.5h0M491.3 154.5h0M502.3 203.6h0M483.4 274.8h0M469.3 326.5h0M462.3 312.1h0M472.0 318.4h0M461.0 316.6h0M532.1 358.5h0M456.7 400.4h0M521.3 477.8h0M526.6 482.3h0M519.4 483.2h0M516.3 482.3h0M520.5 479.6h0" stroke="#e7007e"/><path d="M481.0 70.8h0M479.5 109.1h0M488.4 114.5h0M484.0 156.3h0M499.8 201.8h0M502.2 197.3h0M506.1 203.6h0M490.7 279.3h0M482.4 279.3h0M458.9 315.7h0M470.2 320.2h0M466.8 324.7h0M440.5 313.9h0M452.0 314.8h0M473.9 318.4h0M459.3 398.6h0M459.4 397.7h0M458.9 399.5h0M521.2 479.6h0" stroke="#eb007a"/><path d="M460.2 77.1h0M487.3 71.7h0M484.4 71.7h0M485.8 114.5h0M486.2 154.5h0M480.4 150.9h0M504.2 187.4h0M505.6 194.6h0M482.4 277.5h0M463.9 319.3h0M464.5 322.9h0M455.9 319.3h0M448.7 314.8h0M469.8 316.6h0M469.4 322.0h0M453.7 320.2h0M542.1 358.5h0M460.1 395.9h0M458.6 396.8h0M462.3 397.7h0M461.9 399.5h0M516.1 477.8h0" stroke="#ee0076"/><path d="M457.6 78.0h0M478.5 110.9h0M486.3 112.7h0M484.6 116.3h0M480.9 154.5h0M504.8 191.0h0M503.7 186.5h0M500.5 200.9h0M506.8 195.5h0M476.4 281.1h0M482.0 282.0h0M486.1 278.4h0M448.6 315.7h0M456.7 312.1h0M457.5 314.8h0M449.0 317.5h0M452.1 398.6h0M452.7 397.7h0M459.2 395.0h0M459.4 404.0h0M457.5 396.8h0M531.8 479.6h0" stroke="#f20071"/><path d="M469.3 69.9h0M480.6 75.3h0M457.8 66.3h0M479.6 69.9h0M486.3 72.6h0M486.6 114.5h0M479.4 117.2h0M479.4 124.4h0M477.6 108.2h0M489.5 154.5h0M503.1 186.5h0M507.7 193.7h0M513.4 191.0h0M508.9 204.5h0M457.9 322.0h0M451.6 318.4h0M461.8 397.7h0M456.4 395.9h0M448.9 399.5h0M464.3 399.5h0M532.5 478.7h0" stroke="#f5006d"/><path d="M454.9 78.9h0M485.9 74.4h0M479.6 76.2h0M458.7 74.4h0M476.1 75.3h0M477.4 79.8h0M479.7 122.6h0M490.5 153.6h0M471.3 147.3h0M483.7 151.8h0M477.8 159.0h0M480.2 153.6h0M477.9 155.4h0M478.8 152.7h0M506.7 201.8h0M503.9 205.4h0M513.6 200.9h0M509.1 199.1h0M524.4 196.4h0M501.2 204.5h0M509.6 207.2h0M511.5 200.9h0M510.9 196.4h0M506.8 192.8h0M501.8 195.5h0M508.8 186.5h0M480.0 279.3h0M476.6 276.6h0M477.3 271.2h0M456.4 321.1h0M451.0 321.1h0M452.4 322.0h0M441.0 319.3h0M461.6 324.7h0M444.2 313.9h0M436.4 316.6h0M444.6 316.6h0M437.9 314.8h0M544.4 357.6h0M449.9 401.3h0M452.7 396.8h0M454.1 397.7h0M452.5 401.3h0M462.2 405.8h0M538.9 481.4h0M528.1 477.8h0M540.2 480.5h0M520.1 482.3h0" stroke="#f80068"/><path d="M469.7 80.7h0M453.8 74.4h0M460.8 76.2h0M477.8 82.5h0M468.9 73.5h0M477.6 67.2h0M478.2 78.0h0M483.8 112.7h0M478.0 125.3h0M485.4 155.4h0M477.6 160.8h0M470.6 164.4h0M452.4 154.5h0M528.6 191.9h0M533.9 191.0h0M518.0 203.6h0M520.5 201.8h0M528.0 198.2h0M510.3 191.0h0M503.2 202.7h0M504.5 188.3h0M522.5 197.3h0M508.4 191.0h0M521.9 193.7h0M511.9 189.2h0M507.7 192.8h0M517.7 198.2h0M508.2 197.3h0M507.3 186.5h0M520.0 192.8h0M524.1 200.0h0M473.8 274.8h0M481.3 274.8h0M478.7 274.8h0M439.0 318.4h0M438.8 316.6h0M446.0 401.3h0M451.0 402.2h0M545.0 439.6h0M543.7 478.7h0M526.8 479.6h0M533.8 479.6h0" stroke="#fa0064"/><path d="M467.6 61.8h0M467.7 73.5h0M459.9 72.6h0M462.6 78.9h0M467.6 79.8h0M466.8 63.6h0M464.4 61.8h0M482.1 73.5h0M450.6 70.8h0M457.2 65.4h0M470.3 116.3h0M459.6 119.0h0M478.9 115.4h0M447.5 113.6h0M467.8 108.2h0M479.2 150.9h0M472.0 153.6h0M464.5 150.9h0M477.5 165.3h0M478.0 148.2h0M474.7 151.8h0M482.0 151.8h0M454.6 154.5h0M479.5 156.3h0M516.9 189.2h0M524.3 195.5h0M514.5 196.4h0M516.3 191.9h0M529.5 196.4h0M530.1 194.6h0M517.3 204.5h0M510.6 191.9h0M547.2 195.5h0M516.0 199.1h0M522.5 191.0h0M531.8 194.6h0M555.7 197.3h0M535.0 198.2h0M521.8 188.3h0M528.8 195.5h0M507.6 203.6h0M528.1 192.8h0M515.6 198.2h0M507.9 202.7h0M475.6 282.9h0M464.1 273.0h0M479.0 275.7h0M435.7 315.7h0M442.3 313.0h0M437.2 320.2h0M450.2 313.9h0M452.1 400.4h0M533.3 478.7h0M540.0 478.7h0M548.0 479.6h0" stroke="#fd005f"/><path d="M445.6 70.8h0M442.8 70.8h0M434.9 73.5h0M444.3 75.3h0M466.7 70.8h0M465.3 85.2h0M455.1 74.4h0M465.7 79.8h0M464.2 63.6h0M478.8 116.3h0M462.0 120.8h0M466.4 118.1h0M454.5 112.7h0M462.5 117.2h0M441.7 114.5h0M467.7 104.6h0M461.8 116.3h0M454.4 119.0h0M479.6 103.7h0M460.4 107.3h0M455.5 113.6h0M467.4 110.0h0M468.0 164.4h0M459.4 150.9h0M478.2 151.8h0M469.3 154.5h0M446.2 152.7h0M470.4 157.2h0M452.9 159.0h0M479.7 150.0h0M459.2 149.1h0M447.5 151.8h0M458.8 148.2h0M467.2 161.7h0M471.0 159.9h0M512.9 187.4h0M550.8 194.6h0M518.9 187.4h0M526.4 188.3h0M516.4 185.6h0M574.5 195.5h0M513.0 204.5h0M509.8 188.3h0M531.2 200.9h0M563.3 195.5h0M514.9 193.7h0M533.3 202.7h0M533.5 200.0h0M506.3 188.3h0M514.3 183.8h0M535.2 200.9h0M507.4 196.4h0M515.1 191.9h0M523.3 198.2h0M518.4 192.8h0M509.0 206.3h0M530.7 195.5h0M534.9 192.8h0M534.5 195.5h0M545.2 194.6h0M524.8 202.7h0M521.2 201.8h0M520.5 198.2h0M514.7 207.2h0M529.0 237.4h0M556.3 234.7h0M551.6 237.4h0M526.6 236.5h0M541.5 237.4h0M527.7 234.7h0M541.1 234.7h0M468.5 289.2h0M448.6 274.8h0M471.9 285.6h0M474.3 278.4h0M469.0 281.1h0M479.1 281.1h0M432.8 277.5h0M470.3 278.4h0M460.0 273.0h0M471.6 283.8h0M462.9 273.0h0M473.2 282.9h0M446.6 279.3h0M462.8 268.5h0M471.0 278.4h0M460.1 282.9h0M436.7 314.8h0M439.6 320.2h0M435.8 319.3h0M573.2 357.6h0M438.6 398.6h0M580.0 440.5h0M563.5 439.6h0M566.2 441.4h0M549.7 480.5h0M537.1 482.3h0M536.1 481.4h0M531.0 482.3h0M537.9 481.4h0M552.4 480.5h0M499.1 524.2h0" stroke="#ff005b"/><path d="M465.1 80.7h0M463.6 70.8h0M477.3 72.6h0M445.3 74.4h0M454.7 78.0h0M462.9 59.1h0M464.5 60.9h0M456.8 65.4h0M457.1 78.9h0M463.7 77.1h0M466.7 85.2h0M452.8 73.5h0M445.0 73.5h0M442.6 73.5h0M461.5 71.7h0M467.1 83.4h0M474.9 71.7h0M456.7 77.1h0M470.9 77.1h0M465.2 59.1h0M459.8 106.4h0M462.8 123.5h0M479.3 121.7h0M448.3 114.5h0M476.5 119.9h0M464.3 120.8h0M465.1 104.6h0M463.4 119.0h0M465.7 119.0h0M461.4 119.9h0M476.9 122.6h0M461.9 110.0h0M462.3 119.0h0M461.1 107.3h0M476.4 114.5h0M471.9 117.2h0M453.1 117.2h0M457.5 116.3h0M464.8 119.9h0M465.5 127.1h0M465.0 151.8h0M476.2 147.3h0M475.4 149.1h0M463.4 155.4h0M463.6 161.7h0M471.5 149.1h0M453.4 157.2h0M476.7 156.3h0M460.3 156.3h0M468.6 159.9h0M468.2 159.0h0M482.8 155.4h0M471.1 151.8h0M475.0 145.5h0M455.2 151.8h0M474.4 164.4h0M475.6 143.7h0M454.8 155.4h0M554.0 197.3h0M532.1 198.2h0M566.6 194.6h0M516.1 200.0h0M508.8 196.4h0M548.3 193.7h0M542.7 195.5h0M567.5 195.5h0M542.0 196.4h0M518.1 202.7h0M537.8 189.2h0M515.4 193.7h0M537.2 199.1h0M531.8 200.0h0M515.6 196.4h0M529.3 191.9h0M533.8 190.1h0M542.9 193.7h0M536.6 198.2h0M512.2 199.1h0M564.2 196.4h0M518.9 188.3h0M527.1 197.3h0M515.9 205.4h0M531.1 189.2h0M520.0 197.3h0M544.4 193.7h0M519.6 191.9h0M558.5 235.6h0M579.8 235.6h0M563.0 235.6h0M554.5 234.7h0M530.6 234.7h0M530.4 233.8h0M542.5 239.2h0M573.4 236.5h0M535.1 236.5h0M532.8 233.8h0M560.7 236.5h0M465.6 263.1h0M475.4 279.3h0M464.2 287.4h0M444.9 278.4h0M460.6 285.6h0M471.3 279.3h0M468.8 276.6h0M468.0 282.9h0M460.1 277.5h0M469.6 273.9h0M468.3 281.1h0M471.5 277.5h0M468.4 265.8h0M456.1 274.8h0M466.7 286.5h0M465.9 282.9h0M444.7 276.6h0M466.2 271.2h0M472.9 280.2h0M469.0 269.4h0M462.8 282.0h0M465.6 270.3h0M451.6 278.4h0M462.7 277.5h0M467.1 288.3h0M449.6 278.4h0M461.7 269.4h0M473.9 273.0h0M466.1 266.7h0M454.6 313.9h0M445.7 321.1h0M441.5 317.5h0M424.7 315.7h0M456.0 310.3h0M441.6 320.2h0M583.1 358.5h0M583.3 357.6h0M577.4 358.5h0M451.9 396.8h0M435.4 399.5h0M424.5 399.5h0M547.9 439.6h0M560.5 440.5h0M558.0 481.4h0M535.1 482.3h0M562.8 479.6h0M553.1 480.5h0M559.5 479.6h0M557.4 480.5h0M559.0 479.6h0M562.8 481.4h0M534.4 479.6h0M559.9 480.5h0M493.1 533.2h0M497.5 526.9h0M491.5 534.1h0M494.8 521.5h0M489.5 518.8h0M491.5 533.2h0M497.6 517.0h0M495.2 517.9h0M491.6 524.2h0M491.7 528.7h0M491.6 511.6h0M491.7 519.7h0M494.3 532.3h0M488.7 525.1h0M494.6 513.4h0M494.5 519.7h0M492.3 530.5h0M496.3 519.7h0M491.8 516.1h0M487.9 516.1h0" stroke="#ff0056"/><path d="M448.7 72.6h0M460.2 82.5h0M442.2 74.4h0M463.4 67.2h0M477.7 81.6h0M452.8 75.3h0M472.3 78.0h0M443.6 76.2h0M461.9 65.4h0M476.2 68.1h0M466.2 72.6h0M458.9 77.1h0M451.4 75.3h0M465.1 86.1h0M450.1 69.9h0M463.1 78.0h0M476.4 73.5h0M469.6 68.1h0M461.1 71.7h0M467.4 77.1h0M466.8 62.7h0M451.8 76.2h0M441.0 73.5h0M450.0 76.2h0M442.2 71.7h0M463.7 87.0h0M462.6 75.3h0M444.1 71.7h0M476.9 78.9h0M465.8 81.6h0M466.2 64.5h0M472.0 76.2h0M468.7 78.0h0M442.2 115.4h0M461.3 104.6h0M461.9 118.1h0M465.1 103.7h0M436.0 114.5h0M470.0 107.3h0M459.5 112.7h0M477.2 119.0h0M465.7 125.3h0M454.5 116.3h0M475.8 112.7h0M458.3 120.8h0M451.1 110.9h0M464.7 103.7h0M468.1 110.9h0M451.3 117.2h0M456.9 115.4h0M475.8 105.5h0M471.8 116.3h0M460.0 115.4h0M464.1 121.7h0M459.8 110.9h0M466.2 112.7h0M477.7 115.4h0M467.2 106.4h0M435.9 113.6h0M459.0 122.6h0M464.1 113.6h0M461.2 111.8h0M455.7 108.2h0M462.9 116.3h0M476.7 120.8h0M461.4 103.7h0M466.5 110.0h0M446.0 114.5h0M458.1 113.6h0M457.1 121.7h0M469.4 119.9h0M465.7 115.4h0M469.0 109.1h0M466.5 119.9h0M465.9 122.6h0M451.8 116.3h0M457.1 119.9h0M466.1 121.7h0M463.5 118.1h0M465.4 114.5h0M465.8 116.3h0M439.7 113.6h0M463.3 104.6h0M469.8 117.2h0M466.8 120.8h0M461.8 122.6h0M467.3 145.5h0M452.2 150.0h0M474.7 153.6h0M456.4 158.1h0M451.1 157.2h0M452.7 156.3h0M471.5 154.5h0M469.2 160.8h0M444.8 154.5h0M426.8 154.5h0M473.6 149.1h0M458.3 150.9h0M444.9 155.4h0M440.2 155.4h0M477.2 146.4h0M464.3 158.1h0M457.1 151.8h0M455.8 157.2h0M470.2 146.4h0M463.9 145.5h0M477.2 163.5h0M460.2 151.8h0M461.9 148.2h0M473.8 152.7h0M470.6 165.3h0M467.0 140.1h0M471.5 166.2h0M443.0 155.4h0M474.6 159.9h0M465.1 141.9h0M469.2 157.2h0M464.2 147.3h0M477.5 152.7h0M466.4 167.1h0M467.8 148.2h0M451.8 150.9h0M464.9 154.5h0M461.7 149.1h0M459.3 157.2h0M468.1 152.7h0M477.0 154.5h0M464.0 144.6h0M454.7 150.0h0M475.9 146.4h0M464.9 163.5h0M462.8 150.9h0M472.0 151.8h0M464.7 149.1h0M438.7 153.6h0M464.4 153.6h0M448.0 155.4h0M451.2 153.6h0M467.8 155.4h0M467.1 150.0h0M462.7 147.3h0M461.1 155.4h0M471.2 142.8h0M471.4 148.2h0M465.4 156.3h0M461.3 154.5h0M558.6 195.5h0M570.8 195.5h0M555.4 193.7h0M534.2 200.9h0M522.2 198.2h0M536.4 193.7h0M525.6 197.3h0M556.5 194.6h0M532.3 193.7h0M533.6 198.2h0M509.5 204.5h0M548.5 196.4h0M519.0 199.1h0M524.3 191.9h0M514.5 201.8h0M509.4 190.1h0M513.6 206.3h0M522.8 200.0h0M512.1 198.2h0M545.1 196.4h0M519.4 189.2h0M554.6 194.6h0M538.0 201.8h0M549.2 194.6h0M516.2 183.8h0M521.8 192.8h0M528.5 199.1h0M524.6 193.7h0M511.5 203.6h0M530.0 199.1h0M513.3 190.1h0M525.1 192.8h0M526.4 196.4h0M525.2 234.7h0M560.3 236.5h0M546.8 235.6h0M538.2 237.4h0M553.1 236.5h0M549.6 236.5h0M571.1 236.5h0M561.9 235.6h0M536.0 237.4h0M566.8 235.6h0M523.6 234.7h0M581.1 236.5h0M556.1 236.5h0M536.8 236.5h0M599.5 236.5h0M574.8 235.6h0M528.8 236.5h0M582.4 236.5h0M536.4 234.7h0M544.2 236.5h0M546.2 239.2h0M579.1 235.6h0M543.8 237.4h0M569.3 235.6h0M538.8 238.3h0M540.0 236.5h0M533.0 235.6h0M466.6 267.6h0M470.8 274.8h0M452.5 274.8h0M476.2 272.1h0M466.2 291.0h0M463.9 267.6h0M451.2 282.0h0M475.2 281.1h0M456.2 275.7h0M470.5 267.6h0M459.2 282.9h0M458.7 280.2h0M476.2 282.0h0M462.9 274.8h0M443.8 278.4h0M473.1 276.6h0M450.3 276.6h0M455.6 277.5h0M473.2 267.6h0M459.1 276.6h0M465.6 280.2h0M453.0 278.4h0M446.9 276.6h0M473.4 281.1h0M467.3 282.0h0M442.0 276.6h0M472.0 281.1h0M466.9 264.9h0M456.0 282.0h0M469.8 283.8h0M456.5 282.9h0M459.5 276.6h0M459.9 278.4h0M459.6 283.8h0M463.5 282.9h0M463.3 273.9h0M461.7 281.1h0M470.7 268.5h0M450.5 273.0h0M450.4 275.7h0M462.2 273.9h0M464.0 283.8h0M465.4 268.5h0M465.2 281.1h0M459.8 282.0h0M468.0 286.5h0M481.7 273.0h0M456.8 271.2h0M467.2 276.6h0M461.1 270.3h0M474.0 282.0h0M456.1 273.9h0M473.9 272.1h0M464.2 280.2h0M476.7 278.4h0M452.5 275.7h0M463.7 268.5h0M472.5 270.3h0M449.6 276.6h0M465.7 269.4h0M469.7 270.3h0M480.6 273.0h0M465.8 289.2h0M435.7 318.4h0M447.8 319.3h0M417.7 317.5h0M449.5 312.1h0M446.3 312.1h0M434.2 314.8h0M425.2 318.4h0M427.5 315.7h0M421.0 317.5h0M563.5 358.5h0M568.2 359.4h0M589.9 358.5h0M585.2 358.5h0M627.8 358.5h0M562.7 358.5h0M598.0 358.5h0M582.7 358.5h0M575.5 358.5h0M571.6 358.5h0M564.7 358.5h0M442.0 399.5h0M451.4 399.5h0M430.3 398.6h0M444.0 402.2h0M435.3 398.6h0M451.6 398.6h0M423.5 399.5h0M429.4 399.5h0M418.3 399.5h0M579.2 441.4h0M542.3 440.5h0M627.3 440.5h0M572.5 441.4h0M623.0 440.5h0M576.4 439.6h0M544.6 440.5h0M552.8 439.6h0M556.0 439.6h0M562.4 440.5h0M558.1 440.5h0M557.4 441.4h0M551.2 439.6h0M573.4 442.3h0M573.0 441.4h0M555.6 440.5h0M588.7 440.5h0M568.1 439.6h0M569.1 440.5h0M534.3 478.7h0M546.2 480.5h0M538.5 479.6h0M550.4 481.4h0M528.1 479.6h0M549.5 478.7h0M544.6 479.6h0M533.7 482.3h0M528.7 478.7h0M561.3 479.6h0M492.1 535.0h0M493.8 522.4h0M496.3 529.6h0M486.7 518.8h0M485.4 524.2h0M490.9 524.2h0M495.8 517.9h0M488.0 529.6h0M488.5 525.1h0M487.3 516.1h0M493.7 514.3h0M498.1 516.1h0M493.9 531.4h0M493.0 527.8h0M495.5 518.8h0M494.5 515.2h0M487.6 523.3h0M494.6 524.2h0M490.2 512.5h0M490.2 513.4h0M489.3 517.9h0M494.3 530.5h0M495.5 521.5h0M502.2 520.6h0M493.4 525.1h0M492.3 520.6h0M492.2 526.0h0M491.7 515.2h0M491.4 513.4h0M496.5 516.1h0M484.4 525.1h0M489.5 516.1h0M486.1 522.4h0M497.8 525.1h0M487.4 513.4h0M489.7 521.5h0M490.7 517.0h0M490.8 525.1h0M491.9 510.7h0M493.2 526.0h0M491.2 527.8h0M501.1 521.5h0M488.0 528.7h0M492.4 512.5h0M493.1 513.4h0M493.3 529.6h0M485.7 520.6h0M499.9 523.3h0M498.1 522.4h0M500.1 518.8h0M491.5 527.8h0M499.3 526.9h0M491.3 529.6h0M487.9 513.4h0M488.4 521.5h0M496.5 526.9h0M492.5 533.2h0M490.6 516.1h0M492.6 522.4h0M491.6 512.5h0M494.5 520.6h0M489.0 513.4h0M491.1 521.5h0M486.7 524.2h0M483.9 521.5h0M491.4 517.0h0M486.7 514.3h0M494.5 516.1h0M493.4 522.4h0M486.7 519.7h0M493.5 512.5h0M496.7 515.2h0M493.8 516.1h0M494.5 514.3h0M492.2 518.8h0M489.3 517.0h0M488.4 527.8h0M499.9 517.0h0M489.3 520.6h0M494.5 525.1h0M487.6 512.5h0M498.4 515.2h0M493.8 528.7h0M496.7 519.7h0M489.8 526.0h0M497.2 517.9h0M492.6 529.6h0M484.3 522.4h0M489.2 521.5h0M492.4 508.9h0M502.0 520.6h0M496.0 526.9h0M492.0 532.3h0M489.5 523.3h0M491.1 530.5h0M496.5 520.6h0M489.1 522.4h0M490.3 515.2h0M497.9 518.8h0M497.4 518.8h0M487.9 524.2h0M493.5 530.5h0M488.6 518.8h0M491.0 526.0h0M489.2 530.5h0M491.4 515.2h0M491.3 516.1h0M491.1 511.6h0M488.8 523.3h0M484.7 520.6h0M499.5 517.9h0M492.1 526.9h0M489.6 527.8h0M495.0 523.3h0M484.8 524.2h0M488.9 516.1h0M496.3 517.0h0M492.9 534.1h0M493.4 516.1h0M487.8 523.3h0M488.2 522.4h0M493.1 514.3h0M489.9 520.6h0M497.7 523.3h0M494.0 525.1h0M490.3 523.3h0M495.6 526.0h0M497.1 524.2h0" stroke="#ff0051"/></g>
<rect x="369" y="562" width="330" height="1" fill="#000"/>
<rect x="417" y="563" width="1" height="4" fill="#333333"/>
<rect x="483" y="563" width="1" height="4" fill="#333333"/>
<rect x="549" y="563" width="1" height="4" fill="#333333"/>
<rect x="615" y="563" width="1" height="4" fill="#333333"/>
<rect x="680" y="563" width="1" height="4" fill="#333333"/>
<defs><linearGradient id="cb" x1="0" y1="1" x2="0" y2="0"><stop offset="0.0000" stop-color="#008bfb"/><stop offset="0.0303" stop-color="#0086fa"/><stop offset="0.0606" stop-color="#0082f8"/><stop offset="0.0909" stop-color="#007ef6"/><stop offset="0.1212" stop-color="#0079f3"/><stop offset="0.1515" stop-color="#0074f0"/><stop offset="0.1818" stop-color="#006fed"/><stop offset="0.2121" stop-color="#306ae9"/><stop offset="0.2424" stop-color="#4664e4"/><stop offset="0.2727" stop-color="#575fdf"/><stop offset="0.3030" stop-color="#6459da"/><stop offset="0.3333" stop-color="#6f52d4"/><stop offset="0.3636" stop-color="#794cce"/><stop offset="0.3939" stop-color="#8244c7"/><stop offset="0.4242" stop-color="#8a3cc0"/><stop offset="0.4545" stop-color="#9233b9"/><stop offset="0.4848" stop-color="#9829b1"/><stop offset="0.5152" stop-color="#a01fab"/><stop offset="0.5455" stop-color="#aa17a7"/><stop offset="0.5758" stop-color="#b30aa3"/><stop offset="0.6061" stop-color="#bc009f"/><stop offset="0.6364" stop-color="#c5009a"/><stop offset="0.6667" stop-color="#cd0095"/><stop offset="0.6970" stop-color="#d40090"/><stop offset="0.7273" stop-color="#db008a"/><stop offset="0.7576" stop-color="#e10084"/><stop offset="0.7879" stop-color="#e7007e"/><stop offset="0.8182" stop-color="#ec0078"/><stop offset="0.8485" stop-color="#f10072"/><stop offset="0.8788" stop-color="#f6006c"/><stop offset="0.9091" stop-color="#fa0065"/><stop offset="0.9394" stop-color="#fd005f"/><stop offset="0.9697" stop-color="#ff0058"/><stop offset="1.0000" stop-color="#ff0051"/><stop offset="1" stop-color="#ff0051"/></linearGradient></defs>
<rect x="718" y="32" width="7" height="530" fill="url(#cb)"/>
<text x="335.39" y="80.62" font-size="19.82" fill="#474747" text-anchor="end" textLength="192.84" lengthAdjust="spacingAndGlyphs">tGravityAcc-mean()-X</text>
<text x="335.41" y="121.53" font-size="19.82" fill="#474747" text-anchor="end" textLength="175.93" lengthAdjust="spacingAndGlyphs">tGravityAcc-min()-X</text>
<text x="334.42" y="162.59" font-size="19.82" fill="#474747" text-anchor="end" textLength="181.00" lengthAdjust="spacingAndGlyphs">tGravityAcc-max()-X</text>
<text x="334.41" y="202.56" font-size="19.82" fill="#474747" text-anchor="end" textLength="325.20" lengthAdjust="spacingAndGlyphs">angle(tBodyGyroMean,gravityMean)</text>
<text x="334.56" y="243.40" font-size="19.82" fill="#474747" text-anchor="end" textLength="192.59" lengthAdjust="spacingAndGlyphs">angle(X,gravityMean)</text>
<text x="335.61" y="284.72" font-size="19.82" fill="#474747" text-anchor="end" textLength="205.20" lengthAdjust="spacingAndGlyphs">tGravityAcc-energy()-X</text>
<text x="335.10" y="324.72" font-size="19.82" fill="#474747" text-anchor="end" textLength="234.19" lengthAdjust="spacingAndGlyphs">tBodyAcc-correlation()-Y,Z</text>
<text x="336.87" y="365.75" font-size="19.82" fill="#474747" text-anchor="end" textLength="203.20" lengthAdjust="spacingAndGlyphs">tGravityAcc-energy()-Y</text>
<text x="335.11" y="406.77" font-size="19.82" fill="#474747" text-anchor="end" textLength="222.34" lengthAdjust="spacingAndGlyphs">fBodyGyro-meanFreq()-X</text>
<text x="334.93" y="447.67" font-size="19.82" fill="#474747" text-anchor="end" textLength="206.14" lengthAdjust="spacingAndGlyphs">tGravityAcc-energy()-Z</text>
<text x="333.67" y="487.55" font-size="19.82" fill="#474747" text-anchor="end" textLength="204.10" lengthAdjust="spacingAndGlyphs">fBodyAccMag-energy()</text>
<text x="334.14" y="528.22" font-size="19.82" fill="#474747" text-anchor="end" textLength="189.95" lengthAdjust="spacingAndGlyphs">tBodyAccJerk-min()-X</text>
<text x="531.86" y="24.72" font-size="19.30" fill="#282828" text-anchor="middle" textLength="316.81" lengthAdjust="spacingAndGlyphs">Feature Impact Distribution for Laying</text>
<text x="532.01" y="606.53" font-size="19.82" fill="#161616" text-anchor="middle" textLength="340.35" lengthAdjust="spacingAndGlyphs">SHAP value (impact on model output)</text>
<text x="417.28" y="583.03" font-size="16.00" fill="#464646" text-anchor="middle" textLength="33.79" lengthAdjust="spacingAndGlyphs">−0.2</text>
<text x="483.02" y="583.26" font-size="15.84" fill="#464646" text-anchor="middle" textLength="23.45" lengthAdjust="spacingAndGlyphs">0.0</text>
<text x="548.79" y="583.49" font-size="16.00" fill="#464646" text-anchor="middle" textLength="23.25" lengthAdjust="spacingAndGlyphs">0.2</text>
<text x="615.22" y="582.51" font-size="15.84" fill="#464646" text-anchor="middle" textLength="23.25" lengthAdjust="spacingAndGlyphs">0.4</text>
<text x="680.07" y="582.60" font-size="15.84" fill="#464646" text-anchor="middle" textLength="23.25" lengthAdjust="spacingAndGlyphs">0.6</text>
<text x="729.84" y="37.90" font-size="16.00" fill="#0e0e0e" text-anchor="start" textLength="33.91" lengthAdjust="spacingAndGlyphs">High</text>
<text x="730.27" y="568.08" font-size="16.00" fill="#000" text-anchor="start" textLength="27.56" lengthAdjust="spacingAndGlyphs">Low</text>
<g transform="translate(777.5 297.5) rotate(-90)">
<text x="-1.09" y="0.59" font-size="19.98" fill="#121212" text-anchor="middle" textLength="113.02" lengthAdjust="spacingAndGlyphs">Feature value</text>
</g>
</svg></body></html>
